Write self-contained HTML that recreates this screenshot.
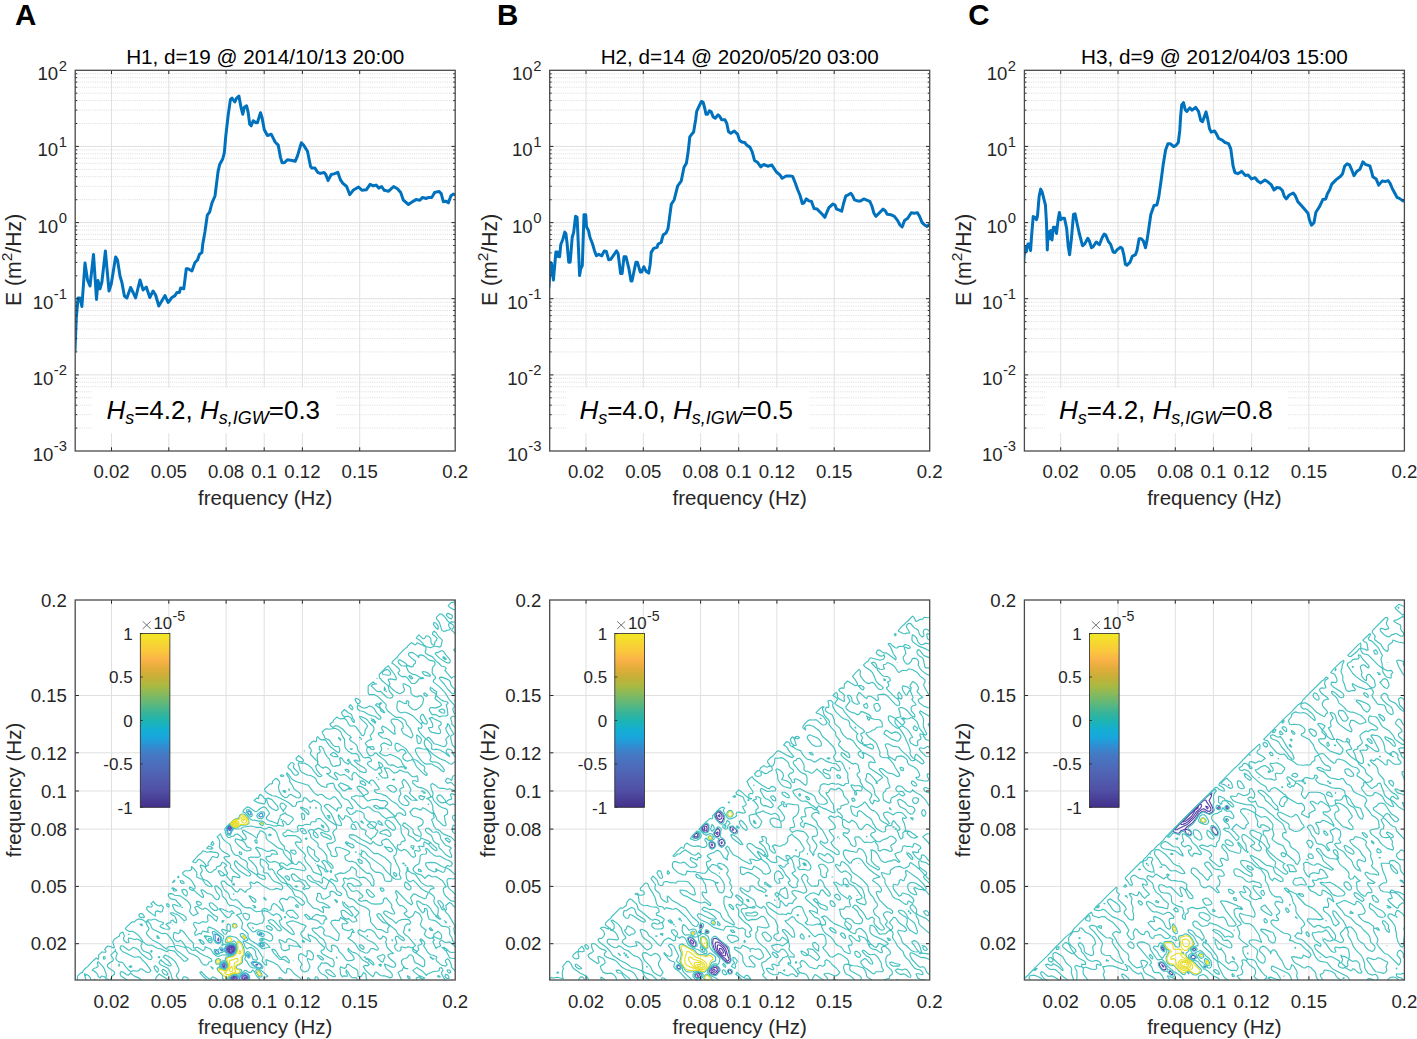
<!DOCTYPE html><html><head><meta charset="utf-8"><style>html,body{margin:0;padding:0;background:#fff;overflow:hidden}svg{display:block;font-family:"Liberation Sans",sans-serif}</style></head><body><svg width="1417" height="1039" viewBox="0 0 1417 1039" font-family="Liberation Sans, sans-serif"><rect width="1417" height="1039" fill="#fff"/><path d="M111.5 70.3V451 M168.8 70.3V451 M226.1 70.3V451 M264.2 70.3V451 M302.4 70.3V451 M359.7 70.3V451 M75.2 374.9H455.2 M75.2 298.7H455.2 M75.2 222.6H455.2 M75.2 146.4H455.2" stroke="#e0e0e0" stroke-width="1" fill="none"/>
<path d="M75.2 428.1H455.2 M75.2 414.7H455.2 M75.2 405.2H455.2 M75.2 397.8H455.2 M75.2 391.8H455.2 M75.2 386.7H455.2 M75.2 382.2H455.2 M75.2 378.3H455.2 M75.2 351.9H455.2 M75.2 338.5H455.2 M75.2 329H455.2 M75.2 321.6H455.2 M75.2 315.6H455.2 M75.2 310.5H455.2 M75.2 306.1H455.2 M75.2 302.2H455.2 M75.2 275.8H455.2 M75.2 262.4H455.2 M75.2 252.9H455.2 M75.2 245.5H455.2 M75.2 239.5H455.2 M75.2 234.4H455.2 M75.2 230H455.2 M75.2 226.1H455.2 M75.2 199.7H455.2 M75.2 186.3H455.2 M75.2 176.7H455.2 M75.2 169.4H455.2 M75.2 163.3H455.2 M75.2 158.2H455.2 M75.2 153.8H455.2 M75.2 149.9H455.2 M75.2 123.5H455.2 M75.2 110.1H455.2 M75.2 100.6H455.2 M75.2 93.2H455.2 M75.2 87.2H455.2 M75.2 82.1H455.2 M75.2 77.7H455.2 M75.2 73.8H455.2" stroke="#dcdcdc" stroke-width="1" stroke-dasharray="1 1.2" fill="none"/>
<rect x="92.5" y="387.7" width="243.5" height="45.5" fill="#fff"/>
<clipPath id="cp0"><rect x="75.2" y="70.3" width="380.0" height="380.7"/></clipPath>
<polyline points="75,350.6 76.3,317.5 78.1,298 80,298 81.9,306.5 85,263 87.5,280 90,286 93.5,254.4 96.5,299.4 98,280.6 100,288.8 101.9,282 105.4,251 109,291 111.3,283.8 115.6,256.9 117.5,260 120,276 121.9,282.5 124.4,296 126.9,298 130.6,287.5 133.1,292.5 135.6,298 140,280 143.1,290 146.3,287 149.8,297.5 153.1,291 155.6,295 158.8,306 165,295.6 168.1,302.5 171.9,297.5 175,295.6 176.9,292.5 179.4,292.5 180.6,288 183.8,288.8 186.3,268.8 188.1,268.8 191.9,271 195,262.5 197.5,260 199.4,254.4 201.9,252.5 202.7,244.5 205,231.4 207.3,215.2 209.6,212.1 212,202.9 215,196 218.1,171.3 219.7,164.4 222.7,159 224.3,152.8 225.8,135.8 228.1,115.8 230.4,99.6 232,98.1 234.8,102 236.6,98.1 238.9,96.1 241.2,108.1 242.8,114.3 244.3,107.3 246.6,105.8 248.2,112.7 249.7,124.3 251.2,125.8 253.2,120.7 255.9,122.7 257.4,122.7 260.5,112.7 262,117.4 264.3,129.7 267.4,135.5 271.3,134.3 273.6,138.9 275.1,142 278.2,145.1 280.5,157.4 282.1,162.8 284.4,162.8 287.4,159.7 292.1,160.5 295.2,161.3 297.5,155.9 301.3,142.8 303.6,145.1 307.5,151.3 310.5,166.3 311.6,167.9 314.8,167.9 317.6,172.3 320.3,173.4 324.1,172.5 325.8,174.5 328,180.5 331.3,174.5 334,173.9 337.8,172.3 340.5,179.9 342.7,183.2 346.6,186.5 349.8,194.7 353.1,190.3 358.6,187 361.9,190.3 366.3,189.8 370.1,184.3 373.4,185.9 376.1,185.1 378.8,188.1 381.6,186.5 384.3,190.3 388.7,191.2 393.6,186.5 397.4,188.7 400.7,192.5 403.4,200.2 408.4,204.5 411.6,202.3 416,199.6 419.9,200.2 422.6,197.4 425.9,198.5 428.6,197.4 431.9,197.4 434.6,192.5 439,191.4 441.2,193.6 443.4,201.8 446.1,201.3 448.3,202.9 451,195.8 453.2,194.1 455.4,194.7" fill="none" stroke="#0072bd" stroke-width="3" stroke-linejoin="round" stroke-linecap="round" clip-path="url(#cp0)"/>
<text x="106.4" y="419.4" font-size="26" fill="#000"><tspan font-style="italic">H</tspan><tspan font-style="italic" font-size="18" dy="5">s</tspan><tspan dy="-5">=4.2, </tspan><tspan font-style="italic">H</tspan><tspan font-style="italic" font-size="18" dy="5">s,IGW</tspan><tspan dy="-5">=0.3</tspan></text>
<path d="M111.5 451v-3.7M111.5 70.3v3.7 M168.8 451v-3.7M168.8 70.3v3.7 M226.1 451v-3.7M226.1 70.3v3.7 M264.2 451v-3.7M264.2 70.3v3.7 M302.4 451v-3.7M302.4 70.3v3.7 M359.7 451v-3.7M359.7 70.3v3.7 M75.2 374.9h3.7M455.2 374.9h-3.7 M75.2 298.7h3.7M455.2 298.7h-3.7 M75.2 222.6h3.7M455.2 222.6h-3.7 M75.2 146.4h3.7M455.2 146.4h-3.7 M75.2 428.1h2M455.2 428.1h-2 M75.2 414.7h2M455.2 414.7h-2 M75.2 405.2h2M455.2 405.2h-2 M75.2 397.8h2M455.2 397.8h-2 M75.2 391.8h2M455.2 391.8h-2 M75.2 386.7h2M455.2 386.7h-2 M75.2 382.2h2M455.2 382.2h-2 M75.2 378.3h2M455.2 378.3h-2 M75.2 351.9h2M455.2 351.9h-2 M75.2 338.5h2M455.2 338.5h-2 M75.2 329h2M455.2 329h-2 M75.2 321.6h2M455.2 321.6h-2 M75.2 315.6h2M455.2 315.6h-2 M75.2 310.5h2M455.2 310.5h-2 M75.2 306.1h2M455.2 306.1h-2 M75.2 302.2h2M455.2 302.2h-2 M75.2 275.8h2M455.2 275.8h-2 M75.2 262.4h2M455.2 262.4h-2 M75.2 252.9h2M455.2 252.9h-2 M75.2 245.5h2M455.2 245.5h-2 M75.2 239.5h2M455.2 239.5h-2 M75.2 234.4h2M455.2 234.4h-2 M75.2 230h2M455.2 230h-2 M75.2 226.1h2M455.2 226.1h-2 M75.2 199.7h2M455.2 199.7h-2 M75.2 186.3h2M455.2 186.3h-2 M75.2 176.7h2M455.2 176.7h-2 M75.2 169.4h2M455.2 169.4h-2 M75.2 163.3h2M455.2 163.3h-2 M75.2 158.2h2M455.2 158.2h-2 M75.2 153.8h2M455.2 153.8h-2 M75.2 149.9h2M455.2 149.9h-2 M75.2 123.5h2M455.2 123.5h-2 M75.2 110.1h2M455.2 110.1h-2 M75.2 100.6h2M455.2 100.6h-2 M75.2 93.2h2M455.2 93.2h-2 M75.2 87.2h2M455.2 87.2h-2 M75.2 82.1h2M455.2 82.1h-2 M75.2 77.7h2M455.2 77.7h-2 M75.2 73.8h2M455.2 73.8h-2" stroke="#262626" stroke-width="1" fill="none"/>
<rect x="75.2" y="70.3" width="380.0" height="380.7" stroke="#4a4a4a" stroke-width="1.3" fill="none"/>
<text x="111.5" y="478.3" font-size="18.6" text-anchor="middle" fill="#262626" >0.02</text>
<text x="168.8" y="478.3" font-size="18.6" text-anchor="middle" fill="#262626" >0.05</text>
<text x="226.1" y="478.3" font-size="18.6" text-anchor="middle" fill="#262626" >0.08</text>
<text x="264.2" y="478.3" font-size="18.6" text-anchor="middle" fill="#262626" >0.1</text>
<text x="302.4" y="478.3" font-size="18.6" text-anchor="middle" fill="#262626" >0.12</text>
<text x="359.7" y="478.3" font-size="18.6" text-anchor="middle" fill="#262626" >0.15</text>
<text x="455.2" y="478.3" font-size="18.6" text-anchor="middle" fill="#262626" >0.2</text>
<text x="66.9" y="451.4" font-size="14.8" text-anchor="end" fill="#262626" >-3</text>
<text x="53.4" y="461" font-size="18.6" text-anchor="end" fill="#262626" >10</text>
<text x="66.9" y="375.3" font-size="14.8" text-anchor="end" fill="#262626" >-2</text>
<text x="53.4" y="384.9" font-size="18.6" text-anchor="end" fill="#262626" >10</text>
<text x="66.9" y="299.1" font-size="14.8" text-anchor="end" fill="#262626" >-1</text>
<text x="53.4" y="308.7" font-size="18.6" text-anchor="end" fill="#262626" >10</text>
<text x="66.9" y="223" font-size="14.8" text-anchor="end" fill="#262626" >0</text>
<text x="58.2" y="232.6" font-size="18.6" text-anchor="end" fill="#262626" >10</text>
<text x="66.9" y="146.8" font-size="14.8" text-anchor="end" fill="#262626" >1</text>
<text x="58.2" y="156.4" font-size="18.6" text-anchor="end" fill="#262626" >10</text>
<text x="66.9" y="70.7" font-size="14.8" text-anchor="end" fill="#262626" >2</text>
<text x="58.2" y="80.3" font-size="18.6" text-anchor="end" fill="#262626" >10</text>
<text x="265.2" y="504.5" font-size="20.5" text-anchor="middle" fill="#262626" >frequency (Hz)</text>
<text transform="translate(21.4 259.9) rotate(-90)" font-size="21.2" text-anchor="middle" fill="#262626">E (m<tspan font-size="15.5" dy="-9">2</tspan><tspan dy="9">/Hz)</tspan></text>
<text x="265.2" y="63.7" font-size="20.7" text-anchor="middle" fill="#000" >H1, d=19 @ 2014/10/13 20:00</text>
<path d="M586 70.3V451 M643.3 70.3V451 M700.6 70.3V451 M738.7 70.3V451 M776.9 70.3V451 M834.2 70.3V451 M549.7 374.9H929.7 M549.7 298.7H929.7 M549.7 222.6H929.7 M549.7 146.4H929.7" stroke="#e0e0e0" stroke-width="1" fill="none"/>
<path d="M549.7 428.1H929.7 M549.7 414.7H929.7 M549.7 405.2H929.7 M549.7 397.8H929.7 M549.7 391.8H929.7 M549.7 386.7H929.7 M549.7 382.2H929.7 M549.7 378.3H929.7 M549.7 351.9H929.7 M549.7 338.5H929.7 M549.7 329H929.7 M549.7 321.6H929.7 M549.7 315.6H929.7 M549.7 310.5H929.7 M549.7 306.1H929.7 M549.7 302.2H929.7 M549.7 275.8H929.7 M549.7 262.4H929.7 M549.7 252.9H929.7 M549.7 245.5H929.7 M549.7 239.5H929.7 M549.7 234.4H929.7 M549.7 230H929.7 M549.7 226.1H929.7 M549.7 199.7H929.7 M549.7 186.3H929.7 M549.7 176.7H929.7 M549.7 169.4H929.7 M549.7 163.3H929.7 M549.7 158.2H929.7 M549.7 153.8H929.7 M549.7 149.9H929.7 M549.7 123.5H929.7 M549.7 110.1H929.7 M549.7 100.6H929.7 M549.7 93.2H929.7 M549.7 87.2H929.7 M549.7 82.1H929.7 M549.7 77.7H929.7 M549.7 73.8H929.7" stroke="#dcdcdc" stroke-width="1" stroke-dasharray="1 1.2" fill="none"/>
<rect x="566.4" y="387.7" width="243.1" height="45.5" fill="#fff"/>
<clipPath id="cp1"><rect x="549.7" y="70.3" width="380.0" height="380.7"/></clipPath>
<polyline points="549,287 550.4,262.7 551.4,263.2 553.4,280 555.9,251.9 557.4,251.9 557.8,256.3 559.6,256.8 560.8,244.5 562.8,239.5 564.8,232.1 565.9,233.6 567.2,244.5 568.7,262.2 570.2,262.2 572.2,237.5 573.7,232.1 575.6,216.3 577.1,217.3 578.1,239.5 579.6,275.6 580.6,269.2 582.3,265.7 584,214.8 585.7,214.8 586.5,226.7 588.5,230.6 590,237.5 592.4,243.5 594.4,250.4 596.4,255.8 598.8,254.3 601.8,255.8 604.3,250.9 606.3,251.4 608.7,259.8 610.7,259.3 614.2,254.3 616.6,250.9 618.1,253.4 620.6,273.6 622.1,273.6 624,256.8 626,256.8 629,269.2 631,281 632,281 635.9,262.2 637.4,262.2 640.3,272.1 641.8,272.1 643.8,266.7 646.3,271.6 648.7,273.1 650.2,264.2 651.2,252.4 653.7,248.4 657.1,247.4 658.1,244 661.1,242.5 663.1,235.1 666,233.1 668,228.7 669.5,217.8 671.3,204.3 674.2,199.7 677.7,185.8 681.2,181.2 684,167.3 686.4,163.3 688.1,152.3 689.8,136.8 691.6,134.4 693.6,132.1 695.6,120 696.7,111.4 699.1,106.2 701.4,101.5 703.1,102.1 704.8,108.5 706,114.2 707.5,114.2 709.4,110.8 711.2,111.9 713.3,117.1 715.2,118.3 718.1,114.8 720.2,117.1 721.6,119.8 725,119.8 726.8,123.5 728.5,131.6 730.8,133.3 734.3,131 737.7,134.4 739.5,140.2 741.8,142 744.7,142.5 747,145.4 749.9,147.1 752.2,151.8 754.5,160.4 757.4,162.2 760.8,166.8 763.7,164.5 767.7,166.2 771.8,165 774.1,168.5 776.4,172 779.9,174.9 782.2,178.3 786.2,176 790,175.9 792.6,176.4 795.1,182.5 797.7,189.7 800.2,195.8 802.3,203.5 803.8,203 806.4,198.9 808.9,200.9 811.5,201.4 814,208.6 817.1,209.1 820.2,212.2 822.7,214.7 824.8,217.3 826.3,213.7 828.9,207.6 833,204 835,205 836.6,209.1 839.6,210.1 841.7,211.2 843.7,203 845.8,195.8 848.3,194.8 850.9,193.3 852.4,195.3 854.5,199.9 857.5,200.9 860.6,200.9 863.7,198.9 866.2,199.9 869.8,201.4 871.9,206 873.9,213.2 876,216.3 879.5,212.7 883.1,209.1 885.2,210.7 887.2,214.2 890.8,214.7 894.4,216.3 897.5,220.4 900,225 902.1,227 904.6,220.4 907.7,218.3 911.3,212.7 914.3,213.2 917.4,212.7 919.5,216.3 922,222.4 924.6,225 927.1,226.5 929.7,224" fill="none" stroke="#0072bd" stroke-width="3" stroke-linejoin="round" stroke-linecap="round" clip-path="url(#cp1)"/>
<text x="579.4" y="419.4" font-size="26" fill="#000"><tspan font-style="italic">H</tspan><tspan font-style="italic" font-size="18" dy="5">s</tspan><tspan dy="-5">=4.0, </tspan><tspan font-style="italic">H</tspan><tspan font-style="italic" font-size="18" dy="5">s,IGW</tspan><tspan dy="-5">=0.5</tspan></text>
<path d="M586 451v-3.7M586 70.3v3.7 M643.3 451v-3.7M643.3 70.3v3.7 M700.6 451v-3.7M700.6 70.3v3.7 M738.7 451v-3.7M738.7 70.3v3.7 M776.9 451v-3.7M776.9 70.3v3.7 M834.2 451v-3.7M834.2 70.3v3.7 M549.7 374.9h3.7M929.7 374.9h-3.7 M549.7 298.7h3.7M929.7 298.7h-3.7 M549.7 222.6h3.7M929.7 222.6h-3.7 M549.7 146.4h3.7M929.7 146.4h-3.7 M549.7 428.1h2M929.7 428.1h-2 M549.7 414.7h2M929.7 414.7h-2 M549.7 405.2h2M929.7 405.2h-2 M549.7 397.8h2M929.7 397.8h-2 M549.7 391.8h2M929.7 391.8h-2 M549.7 386.7h2M929.7 386.7h-2 M549.7 382.2h2M929.7 382.2h-2 M549.7 378.3h2M929.7 378.3h-2 M549.7 351.9h2M929.7 351.9h-2 M549.7 338.5h2M929.7 338.5h-2 M549.7 329h2M929.7 329h-2 M549.7 321.6h2M929.7 321.6h-2 M549.7 315.6h2M929.7 315.6h-2 M549.7 310.5h2M929.7 310.5h-2 M549.7 306.1h2M929.7 306.1h-2 M549.7 302.2h2M929.7 302.2h-2 M549.7 275.8h2M929.7 275.8h-2 M549.7 262.4h2M929.7 262.4h-2 M549.7 252.9h2M929.7 252.9h-2 M549.7 245.5h2M929.7 245.5h-2 M549.7 239.5h2M929.7 239.5h-2 M549.7 234.4h2M929.7 234.4h-2 M549.7 230h2M929.7 230h-2 M549.7 226.1h2M929.7 226.1h-2 M549.7 199.7h2M929.7 199.7h-2 M549.7 186.3h2M929.7 186.3h-2 M549.7 176.7h2M929.7 176.7h-2 M549.7 169.4h2M929.7 169.4h-2 M549.7 163.3h2M929.7 163.3h-2 M549.7 158.2h2M929.7 158.2h-2 M549.7 153.8h2M929.7 153.8h-2 M549.7 149.9h2M929.7 149.9h-2 M549.7 123.5h2M929.7 123.5h-2 M549.7 110.1h2M929.7 110.1h-2 M549.7 100.6h2M929.7 100.6h-2 M549.7 93.2h2M929.7 93.2h-2 M549.7 87.2h2M929.7 87.2h-2 M549.7 82.1h2M929.7 82.1h-2 M549.7 77.7h2M929.7 77.7h-2 M549.7 73.8h2M929.7 73.8h-2" stroke="#262626" stroke-width="1" fill="none"/>
<rect x="549.7" y="70.3" width="380.0" height="380.7" stroke="#4a4a4a" stroke-width="1.3" fill="none"/>
<text x="586" y="478.3" font-size="18.6" text-anchor="middle" fill="#262626" >0.02</text>
<text x="643.3" y="478.3" font-size="18.6" text-anchor="middle" fill="#262626" >0.05</text>
<text x="700.6" y="478.3" font-size="18.6" text-anchor="middle" fill="#262626" >0.08</text>
<text x="738.7" y="478.3" font-size="18.6" text-anchor="middle" fill="#262626" >0.1</text>
<text x="776.9" y="478.3" font-size="18.6" text-anchor="middle" fill="#262626" >0.12</text>
<text x="834.2" y="478.3" font-size="18.6" text-anchor="middle" fill="#262626" >0.15</text>
<text x="929.7" y="478.3" font-size="18.6" text-anchor="middle" fill="#262626" >0.2</text>
<text x="541.4" y="451.4" font-size="14.8" text-anchor="end" fill="#262626" >-3</text>
<text x="527.9" y="461" font-size="18.6" text-anchor="end" fill="#262626" >10</text>
<text x="541.4" y="375.3" font-size="14.8" text-anchor="end" fill="#262626" >-2</text>
<text x="527.9" y="384.9" font-size="18.6" text-anchor="end" fill="#262626" >10</text>
<text x="541.4" y="299.1" font-size="14.8" text-anchor="end" fill="#262626" >-1</text>
<text x="527.9" y="308.7" font-size="18.6" text-anchor="end" fill="#262626" >10</text>
<text x="541.4" y="223" font-size="14.8" text-anchor="end" fill="#262626" >0</text>
<text x="532.7" y="232.6" font-size="18.6" text-anchor="end" fill="#262626" >10</text>
<text x="541.4" y="146.8" font-size="14.8" text-anchor="end" fill="#262626" >1</text>
<text x="532.7" y="156.4" font-size="18.6" text-anchor="end" fill="#262626" >10</text>
<text x="541.4" y="70.7" font-size="14.8" text-anchor="end" fill="#262626" >2</text>
<text x="532.7" y="80.3" font-size="18.6" text-anchor="end" fill="#262626" >10</text>
<text x="739.7" y="504.5" font-size="20.5" text-anchor="middle" fill="#262626" >frequency (Hz)</text>
<text transform="translate(497 259.9) rotate(-90)" font-size="21.2" text-anchor="middle" fill="#262626">E (m<tspan font-size="15.5" dy="-9">2</tspan><tspan dy="9">/Hz)</tspan></text>
<text x="739.7" y="63.7" font-size="20.7" text-anchor="middle" fill="#000" >H2, d=14 @ 2020/05/20 03:00</text>
<path d="M1060.7 70.3V451 M1118 70.3V451 M1175.3 70.3V451 M1213.4 70.3V451 M1251.6 70.3V451 M1308.9 70.3V451 M1024.4 374.9H1404.4 M1024.4 298.7H1404.4 M1024.4 222.6H1404.4 M1024.4 146.4H1404.4" stroke="#e0e0e0" stroke-width="1" fill="none"/>
<path d="M1024.4 428.1H1404.4 M1024.4 414.7H1404.4 M1024.4 405.2H1404.4 M1024.4 397.8H1404.4 M1024.4 391.8H1404.4 M1024.4 386.7H1404.4 M1024.4 382.2H1404.4 M1024.4 378.3H1404.4 M1024.4 351.9H1404.4 M1024.4 338.5H1404.4 M1024.4 329H1404.4 M1024.4 321.6H1404.4 M1024.4 315.6H1404.4 M1024.4 310.5H1404.4 M1024.4 306.1H1404.4 M1024.4 302.2H1404.4 M1024.4 275.8H1404.4 M1024.4 262.4H1404.4 M1024.4 252.9H1404.4 M1024.4 245.5H1404.4 M1024.4 239.5H1404.4 M1024.4 234.4H1404.4 M1024.4 230H1404.4 M1024.4 226.1H1404.4 M1024.4 199.7H1404.4 M1024.4 186.3H1404.4 M1024.4 176.7H1404.4 M1024.4 169.4H1404.4 M1024.4 163.3H1404.4 M1024.4 158.2H1404.4 M1024.4 153.8H1404.4 M1024.4 149.9H1404.4 M1024.4 123.5H1404.4 M1024.4 110.1H1404.4 M1024.4 100.6H1404.4 M1024.4 93.2H1404.4 M1024.4 87.2H1404.4 M1024.4 82.1H1404.4 M1024.4 77.7H1404.4 M1024.4 73.8H1404.4" stroke="#dcdcdc" stroke-width="1" stroke-dasharray="1 1.2" fill="none"/>
<rect x="1045" y="387.7" width="242.8" height="45.5" fill="#fff"/>
<clipPath id="cp2"><rect x="1024.4" y="70.3" width="380.0" height="380.7"/></clipPath>
<polyline points="1023.7,261.6 1024.8,247.3 1026.4,251.5 1027.9,244.1 1029.5,244.1 1030.6,250.5 1031.6,235.7 1033.2,216.6 1034.8,217.1 1036.4,219.8 1037.5,216.1 1039.1,196.5 1040.7,189.1 1042.2,192.2 1043.8,198.6 1045.4,204.9 1046.5,223 1047.3,250 1048.1,231.4 1049.7,238.8 1050.7,230.4 1052,239.9 1053.4,227.2 1054.9,227.2 1056.5,233.5 1058.1,219.8 1059.4,212.4 1060.8,219.8 1062.4,218.2 1064.5,218.2 1066.6,228.2 1068.2,246.2 1069.6,254.7 1071.4,238.8 1073.5,214.5 1075.1,213.9 1077.2,224 1079.3,233.5 1082.5,245.7 1084.6,244.1 1087.8,238.3 1089.4,241 1091.5,247.8 1093.1,246.8 1096.2,242 1099.4,244.7 1102.1,237.8 1104.2,234.1 1105.8,235.1 1108.4,241.5 1110.5,244.1 1113.2,252.1 1114.8,252.6 1117.4,249.4 1120.6,247.3 1122.2,248.4 1123.8,254.7 1125.4,264.2 1127,265.3 1130.1,262.1 1132.3,256.3 1135.4,254.7 1137,250.5 1139.1,238.8 1141.3,238.8 1143.4,241 1145.5,247.8 1147.1,239.9 1148.7,229.3 1150.8,214.5 1154,205.4 1156.9,204.9 1158.7,197.4 1161,181.2 1163.3,163.9 1165.6,150 1167.9,143.7 1170.2,143.7 1173.7,146.6 1176,145.4 1178.3,142.5 1179.8,130.4 1180.6,116.6 1181.7,105 1183.5,102.7 1185.2,109.6 1186.9,111.4 1189.8,107.9 1192.1,110.2 1195.6,107.3 1198.5,111.4 1200.8,120.6 1202.5,121.7 1206,111.9 1207.7,118.9 1209.5,128.7 1211.2,132.1 1214.6,131 1216.4,133.9 1218.7,138.5 1222.2,140.2 1225,142.5 1228.5,143.7 1230.8,148.9 1233.1,166.2 1234.9,172.5 1237.7,173.7 1241.8,171.4 1245.2,175.4 1248.1,174.9 1251.6,178.9 1255.1,177.7 1257.9,181.2 1260.8,182.9 1264.9,180 1267.8,181.8 1271.2,184.7 1274,190 1276.9,187.5 1279.9,188 1282.4,190.5 1284.3,196.4 1286.3,198.9 1289.3,195 1293.2,193 1295.2,195.5 1297.7,201.4 1301.1,205.3 1304.6,209.3 1308,213.2 1309.5,220.2 1311.5,225.1 1314,222.6 1315.9,212.2 1319.4,206.8 1322.9,199.4 1325.8,198.9 1327.3,194 1329.8,189.5 1331.8,184.1 1336.2,179.6 1340.6,176.2 1342.6,173.7 1344.6,166.3 1347.1,163.8 1349.5,164.8 1351.5,169.3 1354,175.7 1356.9,171.2 1359.9,169.3 1362.9,161.9 1365.3,164.3 1369.8,165.8 1371.3,170.7 1372.8,176.7 1376.2,179.1 1378.7,185.1 1382.1,181.1 1385.1,181.6 1388.1,180.6 1390,183.1 1392.5,189 1395,193.5 1397,197.4 1399.4,198.4 1402.9,200.9 1404.4,200.9" fill="none" stroke="#0072bd" stroke-width="3" stroke-linejoin="round" stroke-linecap="round" clip-path="url(#cp2)"/>
<text x="1059" y="419.4" font-size="26" fill="#000"><tspan font-style="italic">H</tspan><tspan font-style="italic" font-size="18" dy="5">s</tspan><tspan dy="-5">=4.2, </tspan><tspan font-style="italic">H</tspan><tspan font-style="italic" font-size="18" dy="5">s,IGW</tspan><tspan dy="-5">=0.8</tspan></text>
<path d="M1060.7 451v-3.7M1060.7 70.3v3.7 M1118 451v-3.7M1118 70.3v3.7 M1175.3 451v-3.7M1175.3 70.3v3.7 M1213.4 451v-3.7M1213.4 70.3v3.7 M1251.6 451v-3.7M1251.6 70.3v3.7 M1308.9 451v-3.7M1308.9 70.3v3.7 M1024.4 374.9h3.7M1404.4 374.9h-3.7 M1024.4 298.7h3.7M1404.4 298.7h-3.7 M1024.4 222.6h3.7M1404.4 222.6h-3.7 M1024.4 146.4h3.7M1404.4 146.4h-3.7 M1024.4 428.1h2M1404.4 428.1h-2 M1024.4 414.7h2M1404.4 414.7h-2 M1024.4 405.2h2M1404.4 405.2h-2 M1024.4 397.8h2M1404.4 397.8h-2 M1024.4 391.8h2M1404.4 391.8h-2 M1024.4 386.7h2M1404.4 386.7h-2 M1024.4 382.2h2M1404.4 382.2h-2 M1024.4 378.3h2M1404.4 378.3h-2 M1024.4 351.9h2M1404.4 351.9h-2 M1024.4 338.5h2M1404.4 338.5h-2 M1024.4 329h2M1404.4 329h-2 M1024.4 321.6h2M1404.4 321.6h-2 M1024.4 315.6h2M1404.4 315.6h-2 M1024.4 310.5h2M1404.4 310.5h-2 M1024.4 306.1h2M1404.4 306.1h-2 M1024.4 302.2h2M1404.4 302.2h-2 M1024.4 275.8h2M1404.4 275.8h-2 M1024.4 262.4h2M1404.4 262.4h-2 M1024.4 252.9h2M1404.4 252.9h-2 M1024.4 245.5h2M1404.4 245.5h-2 M1024.4 239.5h2M1404.4 239.5h-2 M1024.4 234.4h2M1404.4 234.4h-2 M1024.4 230h2M1404.4 230h-2 M1024.4 226.1h2M1404.4 226.1h-2 M1024.4 199.7h2M1404.4 199.7h-2 M1024.4 186.3h2M1404.4 186.3h-2 M1024.4 176.7h2M1404.4 176.7h-2 M1024.4 169.4h2M1404.4 169.4h-2 M1024.4 163.3h2M1404.4 163.3h-2 M1024.4 158.2h2M1404.4 158.2h-2 M1024.4 153.8h2M1404.4 153.8h-2 M1024.4 149.9h2M1404.4 149.9h-2 M1024.4 123.5h2M1404.4 123.5h-2 M1024.4 110.1h2M1404.4 110.1h-2 M1024.4 100.6h2M1404.4 100.6h-2 M1024.4 93.2h2M1404.4 93.2h-2 M1024.4 87.2h2M1404.4 87.2h-2 M1024.4 82.1h2M1404.4 82.1h-2 M1024.4 77.7h2M1404.4 77.7h-2 M1024.4 73.8h2M1404.4 73.8h-2" stroke="#262626" stroke-width="1" fill="none"/>
<rect x="1024.4" y="70.3" width="380.0" height="380.7" stroke="#4a4a4a" stroke-width="1.3" fill="none"/>
<text x="1060.7" y="478.3" font-size="18.6" text-anchor="middle" fill="#262626" >0.02</text>
<text x="1118" y="478.3" font-size="18.6" text-anchor="middle" fill="#262626" >0.05</text>
<text x="1175.3" y="478.3" font-size="18.6" text-anchor="middle" fill="#262626" >0.08</text>
<text x="1213.4" y="478.3" font-size="18.6" text-anchor="middle" fill="#262626" >0.1</text>
<text x="1251.6" y="478.3" font-size="18.6" text-anchor="middle" fill="#262626" >0.12</text>
<text x="1308.9" y="478.3" font-size="18.6" text-anchor="middle" fill="#262626" >0.15</text>
<text x="1404.4" y="478.3" font-size="18.6" text-anchor="middle" fill="#262626" >0.2</text>
<text x="1016.1" y="451.4" font-size="14.8" text-anchor="end" fill="#262626" >-3</text>
<text x="1002.6" y="461" font-size="18.6" text-anchor="end" fill="#262626" >10</text>
<text x="1016.1" y="375.3" font-size="14.8" text-anchor="end" fill="#262626" >-2</text>
<text x="1002.6" y="384.9" font-size="18.6" text-anchor="end" fill="#262626" >10</text>
<text x="1016.1" y="299.1" font-size="14.8" text-anchor="end" fill="#262626" >-1</text>
<text x="1002.6" y="308.7" font-size="18.6" text-anchor="end" fill="#262626" >10</text>
<text x="1016.1" y="223" font-size="14.8" text-anchor="end" fill="#262626" >0</text>
<text x="1007.4" y="232.6" font-size="18.6" text-anchor="end" fill="#262626" >10</text>
<text x="1016.1" y="146.8" font-size="14.8" text-anchor="end" fill="#262626" >1</text>
<text x="1007.4" y="156.4" font-size="18.6" text-anchor="end" fill="#262626" >10</text>
<text x="1016.1" y="70.7" font-size="14.8" text-anchor="end" fill="#262626" >2</text>
<text x="1007.4" y="80.3" font-size="18.6" text-anchor="end" fill="#262626" >10</text>
<text x="1214.4" y="504.5" font-size="20.5" text-anchor="middle" fill="#262626" >frequency (Hz)</text>
<text transform="translate(971.3 259.9) rotate(-90)" font-size="21.2" text-anchor="middle" fill="#262626">E (m<tspan font-size="15.5" dy="-9">2</tspan><tspan dy="9">/Hz)</tspan></text>
<text x="1214.4" y="63.7" font-size="20.7" text-anchor="middle" fill="#000" >H3, d=9 @ 2012/04/03 15:00</text>
<text x="15.1" y="24.5" font-size="29.5" font-weight="bold" fill="#000">A</text>
<text x="496.9" y="24.5" font-size="29.5" font-weight="bold" fill="#000">B</text>
<text x="968.3" y="24.5" font-size="29.5" font-weight="bold" fill="#000">C</text>
<path d="M111.5 600V980 M75.2 943.7H455.2 M168.8 600V980 M75.2 886.4H455.2 M226.1 600V980 M75.2 829.1H455.2 M264.2 600V980 M75.2 791H455.2 M302.4 600V980 M75.2 752.8H455.2 M359.7 600V980 M75.2 695.5H455.2" stroke="#e0e0e0" stroke-width="1" fill="none"/>
<g fill="none" stroke-width="1.15" stroke-linejoin="round">
<path d="M232.4 949.4 231.8 948.3 229.9 949.4 231.8 950.2 232.4 949.4" stroke="#5a3fa8"/>
<path d="M231.9 951.3 233.4 949.4 232.5 947.5 231.8 947.1 229.9 947.5 229.0 949.4 229.9 951.0 231.9 951.3" stroke="#5a3fa8"/>
<path d="M229.9 827.2 229.7 827.2 229.9 827.2M233.0 951.3 234.1 949.4 233.7 947.5 231.8 946.5 229.9 946.8 228.9 947.5 228.2 949.4 229.1 951.3 229.9 951.9 231.8 952.1 233.0 951.3M235.5 978.1 233.7 977.2 232.8 978.1 233.7 979.3 235.5 978.1M245.6 978.1 245.1 977.3 244.3 978.1 245.1 978.4 245.6 978.1" stroke="#5a3fa8"/>
<path d="M230.2 829.1 230.7 827.2 229.9 826.4 227.9 827.2 229.4 829.1 229.9 829.4 230.2 829.1M233.9 951.3 234.7 949.4 234.4 947.5 233.7 946.6 231.8 945.8 229.9 946.0 227.9 947.5 227.4 949.4 228.0 951.2 229.9 952.7 231.8 952.8 233.9 951.3M224.8 966.6 224.1 964.6 223.5 966.6 224.1 967.0 224.8 966.6M235.6 980.0 236.5 978.1 235.6 976.8 233.7 976.1 231.6 978.1 232.8 980.0M246.8 978.1 246.0 976.2 245.1 975.6 243.1 976.2 242.6 978.1 243.2 978.9 245.1 979.6 246.8 978.1" stroke="#5a3fa8"/>
<path d="M231.4 829.1 231.4 827.2 229.9 825.7 227.3 827.2 228.0 829.5 229.9 830.6 231.4 829.1M219.0 939.9 218.4 938.0 217.7 939.9 218.4 940.8 219.0 939.9M232.4 953.3 233.7 952.6 234.7 951.3 235.4 949.4 235.1 947.5 233.7 945.7 231.8 945.0 229.9 945.2 228.0 946.3 226.9 947.5 226.5 949.4 227.0 951.3 228.0 952.4 229.9 953.6 231.8 953.6 232.4 953.3M226.2 966.6 226.1 964.7 224.1 963.5 222.4 964.7 222.1 966.6 224.1 968.1 226.2 966.6M258.2 964.7 256.6 964.3 255.9 964.7 256.6 965.2 258.2 964.7M236.9 980.0 237.4 978.1 236.3 976.2 233.7 975.5 232.2 976.2 230.8 978.1 231.4 980.0M246.9 980.0 247.9 978.1 247.4 976.2 245.1 974.7 243.2 975.0 242.0 976.2 241.6 978.1 242.9 980.0" stroke="#4a62c4"/>
<path d="M251.2 813.9 250.2 812.0 249.0 810.8 247.5 812.0 249.0 814.5 250.9 814.8 251.2 813.9M262.7 815.8 262.8 813.9 262.3 813.4 260.4 813.5 258.6 815.8 260.4 817.1 262.3 816.3 262.7 815.8M230.5 833.0 231.2 831.0 232.9 829.1 232.2 827.2 229.9 824.8 226.7 827.2 226.8 829.1 227.6 831.0 228.0 833.5 229.9 834.1 230.5 833.0M303.5 831.0 302.4 831.0 303.5 831.0M220.4 941.8 220.9 939.9 220.6 938.0 219.4 936.1 216.5 934.2 214.6 934.1 215.3 936.1 215.1 939.9 216.3 941.8 218.4 943.0 220.4 941.8M262.4 934.2 260.4 933.0 258.7 934.2 260.4 935.0 262.4 934.2M263.4 945.6 262.6 943.7 260.4 943.2 259.7 943.7 261.1 945.6 262.3 946.2 263.4 945.6M234.0 953.3 235.4 951.3 236.1 949.4 235.9 947.5 234.8 945.6 233.7 944.6 231.8 944.2 229.9 944.4 226.9 945.6 225.6 947.5 225.0 949.4 225.6 951.3 227.3 953.3 229.9 954.5 231.8 954.5 234.0 953.3M222.3 951.3 222.8 949.4 222.2 949.0 220.3 949.1 220.3 949.8 222.3 951.3M218.7 953.3 218.3 951.3 216.5 950.4 215.2 951.3 216.5 953.5 218.7 953.3M249.3 955.2 249.0 954.7 247.1 955.2 249.0 956.6 249.3 955.2M225.5 968.5 226.1 968.2 226.9 966.6 226.9 964.7 226.1 963.3 224.1 962.3 222.2 963.2 221.2 964.7 221.0 966.6 223.0 968.5 224.1 969.0 225.5 968.5M261.8 966.6 260.7 964.7 258.5 963.2 254.7 962.3 252.6 962.8 253.2 964.7 256.6 967.0 258.5 967.7 260.4 968.0 261.8 966.6M248.7 980.0 248.9 978.1 248.7 976.2 247.1 974.0 245.1 973.3 243.2 973.9 240.6 976.2 239.7 978.1 240.3 980.0M238.9 980.0 239.2 978.1 237.4 976.2 235.6 975.1 233.7 974.9 231.1 976.2 230.0 978.1 230.3 980.0" stroke="#3f8fd8"/>
<path d="M446.5 659.2 443.7 656.7 442.8 657.3 444.5 659.2 445.6 659.7 446.5 659.2M390.6 674.5 390.5 672.6 388.4 669.8 386.4 669.6 384.5 670.4 382.2 672.6 382.6 674.2 383.7 674.5 388.4 675.2 390.3 674.8 390.6 674.5M413.0 678.3 411.3 676.4 409.4 675.6 408.9 676.4 411.3 679.0 413.0 678.3M455.2 700.1 454.9 701.2 455.2 701.5M444.7 712.7 444.7 710.8 443.7 709.4 441.8 709.0 439.9 709.7 438.8 710.8 441.8 712.8 443.7 713.2 444.7 712.7M420.0 743.2 420.8 742.5 421.4 739.4 420.4 737.5 417.0 734.9 416.6 735.6 417.2 741.3 418.1 743.2 418.9 743.8 420.0 743.2M340.8 739.4 338.7 737.3 338.7 738.3 340.6 740.4 340.8 739.4M388.6 748.9 388.4 748.7 388.0 748.9 388.6 748.9M365.8 785.2 365.5 783.3 363.5 781.4 361.6 780.9 360.3 781.4 360.6 783.3 363.5 784.9 365.4 785.5 365.8 785.2M252.2 815.8 252.1 813.9 251.3 812.0 249.0 809.7 247.1 809.7 246.6 810.0 246.4 812.0 249.0 815.4 250.9 816.8 252.2 815.8M262.9 817.7 264.1 815.8 264.7 813.9 264.2 812.4 263.7 812.0 262.3 811.7 260.4 811.9 257.8 813.9 256.7 815.8 257.7 817.7 258.5 818.2 260.4 818.8 262.3 818.4 262.9 817.7M330.2 817.7 329.2 815.5 327.3 815.5 329.2 818.1 330.2 817.7M230.5 834.9 231.8 831.4 233.5 829.1 232.5 827.2 230.4 825.3 229.9 824.3 226.5 827.2 226.4 829.1 227.0 831.0 227.1 833.0 227.8 834.9 229.9 835.4 230.5 834.9M324.1 827.2 323.4 826.0 321.5 824.9 321.3 825.3 322.7 827.2 323.4 827.7 324.1 827.2M306.6 833.0 305.7 831.0 303.9 829.1 302.4 828.3 300.5 828.7 300.2 829.1 300.9 831.0 302.4 833.0 304.3 833.7 306.2 833.4 306.6 833.0M450.6 840.6 447.6 838.1 445.6 838.2 445.2 838.7 446.6 840.6 449.5 842.5 450.6 840.6M302.6 848.2 302.4 848.0 302.6 848.2M337.6 901.7 336.8 900.5 334.9 899.5 334.7 899.8 336.8 902.7 337.6 901.7M298.7 907.4 297.8 905.5 296.7 904.7 295.4 905.5 296.7 907.3 298.7 907.4M285.7 917.0 285.2 916.5 284.3 917.0 285.2 917.8 285.7 917.0M142.5 924.6 142.0 924.1 140.1 924.3 140.1 924.6 142.0 925.8 142.5 924.6M410.3 930.3 409.4 929.0 408.9 930.3 409.4 930.9 410.3 930.3M221.1 941.8 221.4 938.0 220.5 936.1 214.6 931.6 212.7 931.5 212.2 932.3 213.6 936.1 213.4 938.0 213.9 939.9 215.0 941.8 216.5 943.1 218.4 943.7 220.3 942.9 221.1 941.8M264.1 936.1 264.1 934.2 261.2 932.3 258.5 931.6 257.2 932.3 257.4 934.2 258.5 935.1 262.3 936.4 264.1 936.1M392.4 939.9 392.2 939.5 391.9 939.9 392.2 940.9 392.4 939.9M415.3 939.9 415.1 939.7 415.3 939.9M264.8 945.6 263.7 943.7 260.4 942.4 258.7 943.7 260.4 946.1 262.3 946.9 264.8 945.6M234.4 953.3 235.7 951.3 236.4 949.4 236.2 947.5 235.2 945.6 233.7 944.2 231.8 943.9 229.9 944.1 226.1 945.6 224.9 947.5 224.3 949.4 224.2 951.3 228.0 954.2 229.9 954.8 231.8 954.8 233.7 953.9 234.4 953.3M363.7 949.4 364.1 947.5 363.5 946.5 361.6 945.0 359.7 944.8 359.3 945.6 360.3 947.5 361.6 948.6 363.7 949.4M219.9 953.3 220.3 952.4 222.2 952.6 224.0 951.3 223.9 949.4 222.2 948.0 220.3 947.1 219.7 947.5 218.4 950.0 216.5 949.5 214.5 949.4 214.1 951.3 215.3 953.3 216.5 954.2 218.4 954.4 219.9 953.3M250.0 957.1 250.1 955.2 249.0 953.8 247.1 953.6 246.5 955.2 247.1 956.8 249.0 958.2 250.0 957.1M105.1 959.0 105.1 957.1 103.8 956.5 103.4 957.1 103.7 959.0 103.8 959.3 105.1 959.0M226.1 968.5 227.2 966.6 227.2 964.7 226.1 962.9 224.1 961.7 222.2 962.5 220.8 964.7 220.6 966.6 222.2 968.5 224.1 969.2 226.1 968.5M262.4 968.5 263.0 966.6 260.4 963.6 258.5 962.5 256.6 961.9 252.8 961.4 251.1 962.8 252.1 964.7 256.6 967.4 260.4 968.8 262.4 968.5M132.2 966.6 130.6 965.8 129.1 966.6 130.6 967.6 132.2 966.6M109.6 972.4 109.6 972.4M249.5 980.0 249.7 978.1 249.4 976.2 248.3 974.3 247.1 973.2 245.1 972.7 243.2 973.3 241.9 974.3 240.0 976.2 239.4 977.4 238.4 976.2 235.6 974.9 233.7 974.7 231.8 975.4 230.7 976.2 229.7 978.1 230.0 980.0M440.1 976.2 438.0 975.5 437.5 976.2 438.0 976.8 439.9 977.3 440.1 976.2M95.2 980.0 94.3 979.2 94.2 980.0M333.3 980.0 332.6 980.0" stroke="#45c0c0"/>
<path d="M454.5 600.0 454.6 601.9 453.3 602.3 451.4 602.3 448.2 605.7 449.5 607.2 453.3 609.6 455.2 609.5M455.2 605.2 454.7 603.8 455.2 602.4M452.4 617.2 452.3 615.3 449.5 613.9 447.1 613.4 446.4 615.3 449.5 618.4 451.4 619.0 452.4 617.2M446.0 630.6 449.5 629.8 450.9 628.6 449.5 627.6 448.5 624.8 449.5 622.9 448.0 621.0 447.6 620.9 445.0 617.2 441.8 614.0 439.9 613.8 436.5 617.2 436.6 619.1 438.4 621.0 439.5 622.9 441.8 630.1 443.7 631.4 445.6 631.2 446.0 630.6M455.2 621.7 453.3 622.3 451.4 621.6 449.5 622.9 451.4 623.6 452.8 624.8 454.1 626.7 453.3 628.1 452.5 628.6 451.7 630.6 453.3 631.7 455.2 634.1M455.2 676.5 453.3 676.8 451.4 678.2 445.6 671.1 444.8 670.7 446.1 668.7 445.6 667.6 444.8 666.8 441.8 666.3 438.6 663.0 436.1 661.1 432.3 656.6 428.5 655.1 425.8 653.5 425.1 651.6 426.1 649.6 425.7 647.7 426.5 646.7 430.4 647.8 434.2 646.2 436.1 646.3 439.9 647.1 441.1 645.8 442.3 640.1 438.4 636.3 436.1 632.7 434.2 631.2 432.7 632.5 432.6 634.4 434.2 635.4 437.0 638.2 436.6 640.1 435.0 642.0 434.2 645.2 432.3 644.7 430.9 642.0 431.0 640.1 430.5 638.2 428.5 636.2 426.5 635.8 425.9 636.3 424.6 638.5 422.7 638.6 418.9 634.8 417.4 636.3 417.0 637.4 416.2 638.2 419.6 640.1 423.5 643.9 422.7 645.2 417.0 642.8 416.3 643.9 415.1 645.0 411.3 642.6 407.8 645.8 407.5 646.8 406.5 647.7 405.5 648.2 402.0 651.6 398.4 655.4 397.9 656.5 392.9 661.1 391.8 663.0 394.1 664.4 399.0 668.7 399.9 670.7 398.0 672.6 398.9 674.5 401.7 676.6 405.5 676.4 407.7 678.3 411.3 683.2 413.2 683.5 415.1 683.4 417.0 681.8 418.9 679.0 420.8 678.6 422.7 678.7 423.6 678.3 422.7 677.6 420.8 677.7 415.1 674.6 413.2 674.4 411.3 673.6 409.6 672.6 408.0 670.7 406.4 666.8 407.5 665.4 411.3 666.9 412.7 666.8 413.2 666.4 413.4 664.9 415.5 663.0 415.5 661.1 413.2 659.6 408.7 655.4 408.6 653.5 409.4 652.7 411.3 652.4 413.2 652.9 416.7 655.4 418.9 657.5 418.7 655.4 420.8 654.9 422.7 655.4 424.6 656.2 428.5 659.8 430.4 660.6 432.3 660.6 434.2 661.5 435.1 663.0 434.9 664.9 433.0 666.8 432.3 668.7 432.2 672.6 433.0 674.5 435.1 676.4 435.6 678.3 433.4 680.2 433.4 682.1 438.5 685.9 444.1 691.7 445.7 693.6 449.0 699.3 454.3 705.0 454.4 706.9 452.7 708.8 453.8 712.7 455.2 714.4M424.6 646.6 423.6 645.8 424.6 645.3 425.5 645.8 424.6 646.6M455.2 648.5 453.6 649.6 455.2 652.0M450.5 661.1 449.5 659.2 446.3 655.4 443.7 651.6 441.8 650.6 438.0 652.6 436.1 652.6 435.1 653.5 436.5 655.4 439.9 658.4 445.6 662.3 447.6 662.9 449.5 662.9 450.5 661.1M397.9 659.5 397.9 659.1 397.9 659.5M405.5 666.1 401.7 665.7 400.5 664.9 398.7 663.0 398.1 661.1 399.8 659.7 405.1 663.0 407.0 664.9 405.5 666.1M455.2 761.5 451.5 764.2 449.5 763.8 445.6 760.9 439.9 758.8 434.2 755.1 431.2 752.8 430.4 751.5 429.0 750.9 427.8 748.9 426.5 748.4 424.7 745.1 424.2 743.2 424.6 740.2 426.1 739.4 420.6 733.7 418.2 729.8 418.4 727.9 420.8 728.2 421.6 727.9 422.1 726.0 421.3 724.1 422.7 722.3 424.6 723.8 426.5 724.1 427.5 722.2 423.2 714.6 422.7 714.3 421.7 714.6 420.5 716.5 420.3 718.4 422.7 722.2 420.8 723.8 413.2 716.1 409.4 713.9 405.5 712.3 403.6 712.2 401.7 712.8 400.6 712.7 399.8 712.4 397.9 710.8 397.0 708.8 396.8 706.9 397.3 703.1 397.9 701.5 398.3 701.2 399.8 700.9 403.6 703.1 405.5 703.6 406.7 703.1 406.2 701.2 407.5 700.7 408.5 701.2 408.9 703.1 408.2 705.0 409.4 705.9 409.8 706.9 412.2 708.8 413.2 709.5 415.1 709.9 417.0 709.4 420.3 706.9 422.7 703.4 423.6 699.3 422.7 697.4 420.8 695.7 418.9 695.9 417.0 697.0 415.1 696.5 413.2 695.4 411.1 693.6 410.6 687.8 408.8 685.9 405.5 684.4 403.6 683.8 403.1 684.0 403.2 685.9 404.5 689.7 403.6 691.8 399.8 693.8 396.0 692.1 390.9 687.8 390.3 686.6 388.9 685.9 389.9 684.0 389.4 682.1 388.2 680.2 388.4 679.4 390.3 678.9 396.0 679.9 396.4 678.3 394.6 674.5 390.2 668.7 388.4 665.7 387.3 666.8 386.4 667.1 379.2 674.5 379.6 678.3 380.7 678.6 381.6 680.2 388.2 685.9 388.9 689.7 389.8 691.7 393.1 695.5 392.4 697.4 390.3 698.2 388.4 697.8 386.4 697.0 380.7 691.4 378.8 691.8 376.9 691.3 371.2 685.9 373.1 684.3 376.7 684.0 375.0 683.5 373.1 682.0 368.2 685.9 368.1 691.7 368.4 693.6 369.3 694.6 373.1 694.5 375.0 694.9 376.9 695.9 380.8 699.3 384.5 702.8 386.3 705.0 385.8 706.9 386.2 708.8 387.5 710.8 394.1 716.1 396.0 717.3 399.8 717.3 401.7 717.9 405.0 720.3 406.2 722.2 406.4 724.1 409.6 727.9 411.3 731.0 413.1 735.6 411.3 738.0 403.6 733.8 402.3 731.8 401.5 729.8 401.7 728.8 403.1 727.9 403.2 726.0 402.8 724.1 401.6 722.2 397.9 719.6 394.1 719.0 392.2 719.1 391.0 720.3 391.2 722.2 394.2 726.0 394.9 727.9 394.6 731.8 395.5 733.7 394.1 734.2 386.4 727.9 382.6 726.0 381.5 727.9 382.6 730.4 383.7 731.8 382.6 732.9 380.7 732.6 378.8 732.9 378.3 733.7 379.4 735.6 382.6 738.0 386.4 738.5 388.4 739.4 390.6 741.3 391.7 743.2 391.4 745.1 390.3 745.5 384.5 742.9 382.6 743.4 380.5 745.1 381.8 748.9 381.1 750.9 379.4 752.8 382.6 755.0 384.5 755.6 386.4 755.8 390.3 754.3 396.0 756.7 398.9 758.5 401.1 760.4 402.7 764.2 404.4 766.1 403.6 767.0 401.7 766.6 397.9 767.5 394.1 765.4 392.2 764.9 390.3 765.1 388.4 764.8 384.9 760.4 377.7 754.7 376.9 753.4 375.0 752.9 373.1 755.1 371.2 756.0 369.3 755.4 367.5 752.8 366.7 750.9 366.8 748.9 367.4 747.4 369.3 747.1 370.8 748.9 373.1 749.8 374.4 748.9 373.1 746.5 371.2 746.9 367.4 746.6 365.3 743.2 367.4 741.2 369.3 739.9 371.2 739.9 371.6 739.4 370.1 735.6 373.1 731.8 373.9 729.8 374.0 727.9 373.0 726.0 369.3 722.5 367.4 720.0 365.4 718.5 361.6 716.7 359.6 716.5 360.3 718.4 366.5 724.1 367.4 726.0 366.8 727.9 365.4 729.3 364.6 733.7 363.5 735.6 361.6 735.2 360.9 733.7 355.9 726.8 354.0 725.7 350.2 726.0 348.3 723.8 347.8 722.2 346.3 720.0 344.4 718.4 340.6 718.9 338.7 718.3 336.8 717.1 333.4 720.3 333.0 722.0 331.1 723.0 329.9 724.1 331.1 726.3 333.0 727.5 334.9 725.9 336.8 725.7 337.9 726.0 342.5 729.0 346.3 733.4 348.3 734.9 349.8 735.6 350.2 736.6 351.4 737.5 350.2 737.8 349.6 739.4 351.3 741.3 354.0 742.8 356.5 745.1 357.4 747.0 357.5 748.9 358.2 750.9 360.0 752.8 362.6 756.6 363.5 757.5 365.4 757.9 369.3 757.1 371.2 759.4 371.6 760.4 371.2 761.1 367.9 762.3 367.4 764.2 369.3 766.1 375.0 770.1 376.9 769.6 378.6 768.0 378.8 767.4 380.7 768.4 382.1 771.9 380.7 773.1 378.8 773.4 378.7 773.8 382.6 777.8 384.5 778.1 388.0 777.6 387.1 773.8 384.2 768.0 384.5 767.9 388.4 768.3 390.3 769.6 394.1 773.2 397.8 771.9 399.8 770.0 405.5 772.2 407.5 772.0 411.3 775.9 413.2 776.8 415.1 776.6 417.0 775.8 418.1 779.5 417.9 781.4 417.0 781.5 415.1 780.7 413.2 780.7 412.6 781.4 412.8 783.3 417.0 786.6 418.9 787.4 422.7 788.1 426.5 790.2 428.9 792.9 430.1 794.8 430.4 796.2 431.9 796.7 426.7 798.6 428.5 799.2 431.4 802.4 432.8 806.2 432.8 810.0 433.8 812.0 432.3 813.5 424.6 808.6 422.7 807.7 420.8 810.1 415.1 808.0 413.2 808.5 409.9 812.0 411.3 814.3 413.2 816.3 419.3 817.7 422.1 819.6 423.3 821.5 423.0 823.4 421.5 825.3 420.8 825.9 418.9 826.4 418.0 827.2 418.5 829.1 421.0 833.0 421.3 834.9 420.8 836.3 418.9 836.2 415.1 834.6 413.4 833.0 412.7 829.1 405.5 823.4 403.6 822.9 402.5 825.3 404.6 827.2 407.5 828.8 409.0 831.0 408.0 834.9 413.2 837.8 417.0 841.2 419.8 840.6 420.8 837.7 424.6 839.6 427.9 840.6 430.3 842.5 428.5 844.3 424.6 841.9 424.0 842.5 423.7 844.4 424.1 846.3 422.7 846.6 420.8 846.2 418.2 846.3 418.9 846.7 420.3 850.1 418.9 851.3 415.1 850.3 414.4 852.1 415.3 854.0 415.4 855.9 415.1 856.4 413.2 857.4 411.3 856.0 408.2 852.1 405.5 849.8 403.6 849.4 401.7 850.9 399.5 850.1 397.4 848.2 397.1 846.3 397.9 844.9 399.8 844.8 400.4 844.4 401.7 841.8 405.2 840.6 404.9 838.7 401.3 833.0 400.7 825.3 399.8 824.8 396.0 819.3 394.4 817.7 396.1 815.8 396.8 813.9 397.9 813.1 399.8 812.8 401.7 813.7 403.6 815.2 405.5 815.5 405.8 813.9 405.2 812.0 403.6 810.0 399.8 807.5 397.1 804.3 394.1 802.3 392.2 801.4 386.4 796.1 380.7 793.7 376.9 793.2 375.0 791.8 374.4 791.0 375.0 789.5 376.9 790.0 379.3 789.0 378.5 787.1 373.1 780.2 371.2 780.0 369.6 781.4 369.8 783.3 369.3 783.6 367.2 781.4 358.2 775.7 355.9 773.0 354.0 772.3 352.8 773.8 351.9 775.7 352.5 779.5 352.1 780.0 350.2 779.0 348.3 777.1 344.4 774.4 340.6 775.3 338.7 774.4 336.8 773.0 334.9 772.4 334.2 773.8 336.9 777.6 337.7 779.5 336.8 779.9 333.0 778.1 329.3 775.7 329.2 775.2 326.6 773.8 329.2 773.3 330.6 771.9 330.0 769.9 327.9 768.0 327.3 767.5 325.3 766.9 323.4 768.1 321.5 767.4 319.9 766.1 319.6 765.5 317.7 764.2 315.8 765.6 315.6 766.1 316.7 769.9 319.6 773.6 321.9 775.7 321.5 776.2 319.6 776.7 317.7 775.9 314.3 771.9 311.8 768.0 308.2 765.1 304.3 763.0 300.5 763.2 298.6 762.8 298.2 764.2 299.7 768.0 299.9 769.9 301.3 771.9 306.2 774.6 308.2 775.2 310.1 775.3 314.6 777.6 315.8 778.8 316.8 781.4 318.0 783.3 321.5 786.1 325.3 787.3 327.0 787.1 326.7 785.2 327.3 784.4 331.1 783.3 333.3 783.3 334.3 785.2 334.7 787.1 335.8 789.0 339.7 792.9 342.5 797.4 344.4 798.9 346.3 799.3 348.5 800.5 352.1 805.9 353.2 808.1 352.1 808.9 348.3 807.5 347.0 808.1 346.5 810.0 348.3 812.5 350.2 814.5 352.1 814.3 355.4 812.0 355.9 810.7 359.7 811.2 361.6 811.9 364.0 813.9 364.3 817.7 367.4 820.8 369.1 821.5 369.3 822.7 371.2 821.7 373.1 821.8 375.0 822.4 376.4 823.4 376.2 825.3 375.1 827.2 375.5 829.1 378.0 831.0 375.0 836.1 373.1 837.2 371.6 838.7 371.2 840.0 370.8 838.7 369.3 837.9 365.8 834.9 365.4 833.0 366.3 831.0 363.5 829.3 361.6 828.9 360.2 827.2 357.8 822.9 355.9 821.6 354.0 822.5 352.1 821.4 351.4 819.6 350.0 817.7 346.3 815.7 344.9 815.8 344.4 818.1 342.5 819.7 340.6 817.7 338.7 814.6 338.2 815.8 338.5 817.7 341.5 823.4 341.4 825.3 340.6 825.7 336.8 824.8 335.8 823.4 331.3 813.9 324.1 806.2 325.3 804.9 326.8 804.3 329.2 804.7 334.9 809.4 336.2 810.0 336.8 811.1 337.4 810.0 337.5 808.1 338.7 807.8 340.6 808.0 341.8 806.2 340.8 804.3 336.8 798.6 334.9 796.9 333.0 796.9 331.4 798.6 329.2 799.2 327.3 798.5 325.3 797.3 323.4 795.4 321.5 794.3 319.2 794.8 317.7 795.5 314.1 792.9 308.2 785.2 296.7 781.7 292.3 779.5 287.2 772.8 286.6 773.8 287.2 775.4 288.8 777.6 289.7 779.5 289.7 781.4 292.3 785.2 294.0 789.0 299.5 792.9 300.7 794.8 300.5 796.7 298.6 798.0 296.7 797.8 291.0 794.6 289.1 794.8 287.2 797.3 285.2 797.7 283.3 796.6 281.4 794.6 279.2 791.0 278.5 787.1 278.8 785.2 279.8 783.3 279.2 781.4 277.6 779.1 275.7 778.4 272.4 781.4 272.5 783.3 271.9 783.8 270.0 783.8 264.6 789.0 264.9 791.0 268.1 793.6 270.7 794.8 271.9 795.7 275.7 796.1 287.2 801.7 289.1 803.0 292.9 806.5 295.3 806.2 296.4 804.3 296.7 802.4 300.5 801.2 302.4 801.2 303.2 800.5 303.3 798.6 304.3 797.5 306.2 798.1 310.1 802.2 312.0 801.5 312.5 800.5 313.9 800.1 318.4 802.4 320.3 804.3 321.4 806.2 321.1 808.1 321.2 810.0 325.7 817.7 329.2 820.8 336.2 825.3 336.6 827.2 336.2 829.1 333.7 831.0 332.7 833.0 334.5 836.8 335.4 840.6 333.0 842.6 331.1 843.1 329.2 843.1 327.3 843.7 326.8 844.4 328.2 848.2 330.9 852.1 330.7 854.0 331.6 855.9 334.9 856.8 337.2 855.9 337.2 854.0 335.4 850.1 335.5 848.2 336.8 847.3 338.7 847.2 340.6 847.8 348.3 850.8 349.8 852.1 348.9 854.0 344.8 855.9 345.0 857.8 345.7 859.7 348.3 861.2 350.2 861.6 352.1 861.2 355.9 862.8 359.8 867.3 365.4 872.3 367.4 873.4 369.3 873.1 371.2 874.5 374.1 880.7 373.7 882.6 374.3 884.5 373.1 886.1 371.2 885.0 370.4 882.6 365.4 877.9 363.5 877.1 359.7 877.8 357.8 877.0 356.1 875.0 356.4 871.1 355.5 869.2 352.1 866.9 351.1 867.3 350.2 869.5 348.3 871.1 345.0 873.1 342.5 873.4 340.6 872.9 339.6 873.1 334.9 875.0 335.7 876.9 337.1 878.8 337.8 880.7 336.8 881.5 334.9 880.9 331.1 878.8 329.5 880.7 333.0 883.7 335.2 886.4 336.8 890.8 340.6 892.7 341.8 894.1 340.6 895.7 338.7 895.4 336.8 894.5 334.6 892.2 333.0 891.4 331.1 891.2 329.7 892.2 330.3 894.1 329.9 896.0 325.3 898.7 323.4 899.3 321.7 897.9 320.7 894.1 319.6 893.4 317.7 893.4 317.3 894.1 317.7 896.0 316.5 897.9 316.4 899.8 317.7 901.1 319.6 902.2 321.5 902.8 323.4 902.9 327.8 905.5 329.9 907.4 329.2 907.9 327.3 907.7 323.4 906.6 322.0 907.4 323.5 909.3 323.4 912.5 321.5 911.8 317.7 909.0 313.9 908.2 312.0 906.7 307.4 901.7 306.6 897.9 304.3 894.4 302.4 892.4 300.5 891.2 294.8 889.6 292.6 888.3 291.0 885.9 289.3 884.5 287.2 883.9 285.3 880.7 283.7 878.8 277.2 873.1 277.8 871.1 279.5 869.6 281.4 869.3 283.3 867.3 287.2 869.5 289.1 869.4 291.0 868.3 304.3 870.8 306.0 869.2 303.8 865.4 300.5 862.4 298.6 861.6 296.7 864.5 294.8 864.3 293.2 863.5 292.9 862.3 291.9 861.6 290.6 854.0 288.8 852.1 287.2 850.9 285.4 850.1 284.3 848.2 284.3 846.3 281.4 843.7 279.5 840.8 277.2 834.9 276.9 833.0 275.5 831.0 271.9 828.0 270.0 827.3 268.1 827.4 266.1 828.9 264.2 828.9 260.4 827.2 256.6 827.4 250.9 826.0 242.2 827.2 241.3 828.8 235.6 829.0 233.7 828.3 233.1 827.2 230.9 825.3 229.9 823.5 226.1 827.2 226.1 827.7 224.7 829.1 225.3 831.0 225.4 833.0 226.2 834.9 228.0 837.5 229.9 837.5 231.8 836.3 233.7 836.1 234.5 834.9 235.6 834.2 237.5 834.1 239.4 835.3 243.0 838.7 241.3 840.4 235.6 838.8 235.0 840.6 235.9 842.5 237.5 844.4 243.2 849.3 245.1 850.5 247.1 850.9 249.0 850.8 250.9 850.3 251.1 848.2 247.1 846.9 244.6 842.5 243.2 841.1 241.9 840.6 243.2 839.3 245.1 840.0 246.3 838.7 246.0 836.8 244.8 834.9 243.1 833.0 242.2 831.0 243.2 830.3 245.2 831.0 252.5 834.9 256.6 838.1 257.5 836.8 257.6 834.9 258.5 833.9 260.0 831.0 260.4 830.7 262.3 831.2 264.7 833.0 265.9 834.9 266.3 838.7 268.2 840.6 273.8 844.5 277.6 847.7 281.4 849.1 283.0 850.1 284.3 854.0 287.2 857.4 289.1 859.3 289.9 859.7 291.0 862.0 292.2 863.5 289.1 864.1 287.2 865.9 283.3 863.2 281.4 862.8 279.7 863.5 280.2 865.4 279.5 865.7 279.3 863.5 275.7 861.7 273.8 861.4 271.9 862.2 270.0 862.2 268.1 861.2 266.5 859.7 265.8 857.8 266.1 856.9 268.1 856.4 270.0 856.4 270.6 855.9 271.9 853.7 275.7 854.3 277.6 854.1 276.5 852.1 275.7 851.2 273.8 850.4 271.9 850.1 270.0 851.3 268.1 851.4 266.1 851.0 262.3 849.0 256.6 847.1 255.6 848.2 256.6 849.1 258.7 852.1 259.9 854.0 260.4 855.9 258.5 857.4 250.9 857.0 248.5 857.8 249.1 859.7 250.9 860.9 253.4 863.5 256.4 867.3 258.0 873.1 256.6 874.9 249.0 869.8 247.3 867.3 247.1 865.4 247.6 863.5 246.4 861.6 245.1 860.5 241.3 858.6 239.4 856.3 237.5 855.4 235.6 855.2 233.7 853.8 231.5 850.1 230.7 846.3 229.8 844.4 224.6 840.6 222.8 838.7 220.3 833.8 217.1 836.8 218.7 838.7 219.4 840.6 219.8 842.5 219.5 846.3 219.8 848.2 222.2 851.0 224.1 852.3 227.6 854.0 229.9 855.9 228.0 856.8 226.1 856.5 224.1 857.1 224.0 857.8 226.1 860.5 229.8 863.5 230.6 865.4 230.4 867.3 231.9 869.2 233.7 871.2 238.8 875.0 240.0 876.9 239.4 877.8 233.7 876.4 232.4 876.9 231.8 882.6 231.2 880.7 229.9 879.9 227.2 876.9 226.5 875.0 227.6 873.1 225.2 869.2 224.5 867.3 226.9 865.4 224.1 863.0 222.2 862.2 220.6 865.4 216.5 867.0 216.1 869.2 214.6 869.5 212.7 871.4 210.8 872.5 208.9 872.3 207.0 870.7 205.2 867.3 207.0 865.7 208.3 865.4 207.9 863.5 208.8 861.6 210.8 859.5 211.3 857.8 212.7 856.5 217.2 857.8 218.4 855.9 218.6 854.0 216.5 852.4 214.6 852.4 210.8 851.6 207.0 852.3 203.1 850.7 201.8 852.1 201.2 853.2 199.3 854.4 192.7 861.6 193.6 862.5 195.5 862.8 196.8 861.6 198.0 859.7 199.3 859.3 203.0 861.6 206.1 865.4 205.0 866.8 203.1 865.7 201.2 865.1 200.2 865.4 200.6 867.3 201.9 869.2 202.3 871.1 200.7 873.1 200.7 875.0 202.9 878.8 201.2 879.1 196.7 876.9 196.9 873.1 195.9 871.1 193.6 868.4 192.1 867.3 191.7 866.5 191.4 867.3 191.8 869.2 189.8 870.7 186.0 870.7 184.4 871.1 182.4 873.1 183.7 875.0 189.8 878.8 191.7 880.8 195.0 886.4 195.0 888.3 193.6 889.7 192.6 888.3 189.8 887.0 189.3 888.3 189.8 889.0 191.7 890.4 193.6 890.5 195.5 891.5 195.9 892.2 201.2 896.6 203.1 897.7 203.6 896.0 200.9 890.2 201.2 889.7 203.1 890.1 207.0 893.3 210.8 894.2 212.7 895.6 214.6 898.1 216.5 899.7 218.4 899.5 219.8 896.0 216.6 892.2 215.0 888.3 214.8 886.4 216.5 885.8 220.3 889.2 221.4 890.2 222.4 896.0 226.1 899.8 228.0 903.8 229.9 905.8 231.8 905.3 233.7 905.8 237.2 907.4 240.1 909.3 241.1 911.2 241.3 912.7 241.8 913.2 236.2 915.1 237.5 915.8 240.2 918.9 242.6 922.7 241.6 928.4 246.7 932.3 248.2 934.2 247.9 936.1 248.6 938.0 250.9 940.5 256.6 943.9 262.3 948.8 264.2 948.6 266.1 947.7 269.9 947.5 268.5 945.6 266.1 943.4 264.2 942.3 262.3 942.3 261.3 941.8 260.4 940.4 259.5 939.9 260.4 938.7 262.3 938.1 270.0 941.2 271.9 940.4 272.8 938.0 272.5 936.1 271.1 934.2 268.1 932.2 258.5 929.8 256.6 930.2 254.7 931.8 252.8 931.9 249.3 928.4 248.0 926.5 247.4 924.6 249.0 923.0 250.9 922.8 256.6 924.8 260.4 923.3 262.3 923.2 263.7 920.8 264.1 918.9 264.0 917.0 262.1 913.2 262.5 911.2 264.2 910.6 268.1 911.6 271.9 914.6 273.8 915.4 275.7 913.8 277.6 913.9 279.5 915.1 282.0 918.9 281.4 919.8 279.5 920.4 279.3 920.8 280.4 924.6 282.0 926.5 291.0 933.8 292.9 934.6 294.3 934.2 293.8 932.3 291.2 928.4 287.3 924.6 286.4 922.7 291.0 921.1 292.9 920.8 298.6 922.7 300.5 923.9 303.5 924.6 306.2 926.3 304.2 928.4 304.0 930.3 301.2 932.3 300.7 934.2 302.4 936.9 307.5 939.9 310.1 941.9 310.3 941.8 310.2 939.9 309.0 938.0 308.2 936.1 310.1 934.9 315.2 938.0 317.2 939.9 318.5 941.8 324.5 947.5 324.0 949.4 321.5 950.5 320.9 951.3 321.9 953.3 323.4 954.6 329.2 957.8 332.8 959.0 333.7 960.9 334.2 962.8 334.1 964.7 333.0 966.9 331.1 966.5 327.3 963.2 325.3 962.9 323.4 963.3 321.5 962.8 319.6 966.1 318.5 966.6 317.9 968.5 319.6 971.8 321.5 973.7 325.3 975.6 327.3 977.5 328.3 980.0M430.4 676.4 429.9 674.5 427.1 672.6 424.6 671.7 422.7 671.6 422.3 672.6 424.6 675.2 430.4 676.4M377.3 678.3 376.8 678.3 377.3 678.3M453.3 694.1 451.4 692.9 447.6 689.0 444.2 684.0 440.6 680.2 439.3 678.3 439.9 677.4 441.8 677.1 447.6 679.4 449.5 680.4 450.4 682.1 450.6 684.0 451.5 685.9 455.0 689.7 454.2 693.6 453.3 694.1M440.6 716.5 441.8 716.0 445.6 716.0 447.6 715.3 447.9 714.6 447.3 708.8 446.2 705.0 448.2 703.1 447.6 702.3 445.6 701.3 443.7 701.1 441.8 700.4 439.9 698.9 436.2 695.5 436.8 691.7 434.2 690.3 432.3 688.4 430.8 687.8 430.4 687.2 430.2 689.7 432.2 691.7 435.7 693.6 436.0 695.5 435.1 697.4 435.5 699.3 440.7 703.1 441.5 705.0 439.9 706.4 436.1 707.9 434.2 707.9 432.3 707.5 430.4 707.7 429.5 708.8 429.5 710.8 432.3 714.8 434.2 714.4 436.1 714.7 439.9 717.0 440.6 716.5M359.6 703.1 360.3 701.2 359.7 700.4 358.7 699.3 355.9 698.4 355.0 699.3 355.9 701.7 357.3 703.1 357.8 704.3 359.6 703.1M385.0 712.7 383.4 710.8 381.0 708.8 379.7 706.9 379.6 705.0 381.6 703.1 380.7 702.7 378.8 704.3 376.9 703.7 375.6 705.0 380.4 708.8 380.7 710.8 383.8 712.7 385.0 712.7M353.1 708.8 352.4 706.9 350.2 704.6 348.9 706.9 352.1 709.7 353.1 708.8M381.2 718.4 380.4 716.5 376.9 713.2 374.3 708.8 372.2 706.9 369.3 706.0 367.4 707.4 365.4 707.9 363.5 708.0 361.6 707.4 359.7 706.0 357.8 705.5 357.2 706.9 357.6 708.8 359.7 710.8 363.5 711.5 368.5 714.6 375.0 716.5 378.8 719.2 380.7 718.9 381.2 718.4M354.4 722.2 354.3 720.3 352.7 718.4 351.6 714.6 348.3 712.7 344.4 709.5 341.6 712.7 342.5 715.1 344.0 716.5 344.4 718.2 345.5 716.5 348.3 716.1 351.3 718.4 352.1 720.8 354.0 722.5 354.4 722.2M455.2 717.1 453.3 716.1 451.4 717.0 450.6 718.4 451.9 722.2 451.8 724.1 455.2 727.3M440.7 731.8 440.1 729.8 438.9 727.9 438.8 726.0 439.9 725.5 441.4 724.1 440.8 722.2 439.9 721.4 433.2 718.4 432.3 717.4 429.0 718.4 430.4 719.5 432.6 724.1 432.8 726.0 432.3 727.2 428.4 727.9 429.2 729.8 430.4 731.6 432.3 732.4 438.0 733.6 439.9 733.5 440.7 731.8M455.2 748.0 452.4 745.1 450.5 737.5 451.1 735.6 453.3 734.6 453.7 733.7 450.1 727.9 449.5 725.7 448.3 724.1 447.6 723.7 447.2 724.1 447.5 726.0 445.8 727.9 446.0 729.8 447.6 733.0 449.4 735.6 447.2 737.5 445.7 739.4 447.0 743.2 445.6 745.9 443.7 746.7 438.0 744.7 434.2 743.8 430.4 738.8 428.5 737.2 427.3 737.5 426.8 739.4 430.9 743.2 431.8 745.1 431.6 748.9 434.2 749.7 436.1 749.1 439.9 750.0 444.9 752.8 446.8 754.7 449.5 756.6 448.7 754.7 446.7 752.8 446.2 750.9 447.6 749.0 449.5 749.2 451.4 750.0 452.1 750.9 453.4 754.7 455.2 756.8M366.2 771.9 366.2 769.9 365.4 769.1 364.4 768.0 358.1 764.2 355.8 762.3 354.2 760.4 355.9 760.1 357.8 761.1 359.7 760.8 360.0 760.4 357.9 754.7 355.9 753.5 352.1 753.7 347.9 750.9 346.0 748.9 344.9 747.0 344.5 739.4 342.2 735.6 340.6 731.6 338.7 730.1 334.9 728.3 329.2 729.2 327.3 728.7 325.3 729.1 322.2 731.8 322.8 733.7 324.1 735.6 324.7 737.5 325.3 738.5 329.2 739.9 333.0 745.1 334.9 746.5 338.7 746.5 339.7 748.9 339.8 750.9 338.7 752.7 336.8 751.8 331.1 747.3 329.0 745.1 325.3 739.9 323.4 739.6 321.5 739.9 320.2 739.4 317.7 736.6 316.8 737.5 316.5 741.3 315.8 741.6 313.9 741.1 312.0 742.0 309.2 745.1 309.0 747.0 310.7 748.9 311.5 750.9 310.4 752.8 310.8 754.7 315.8 760.0 317.2 760.4 317.7 763.7 318.0 762.3 317.2 758.5 317.3 754.7 317.7 753.4 319.6 752.7 320.3 750.9 319.2 748.9 319.2 747.0 319.6 746.3 321.5 746.8 323.5 748.9 324.7 752.8 327.0 756.6 329.2 758.9 331.1 763.8 333.0 766.3 334.9 766.4 336.8 765.6 338.7 765.7 340.5 764.2 340.2 760.4 339.6 758.5 340.6 757.5 342.5 759.0 343.2 760.4 344.8 762.3 348.3 764.2 350.2 761.6 351.3 764.2 356.6 768.0 357.8 769.6 359.7 771.1 363.5 772.5 365.4 772.4 366.2 771.9M359.7 738.1 359.4 737.5 359.7 737.2 360.4 737.5 359.7 738.1M361.6 739.6 361.1 739.4 361.6 738.7 361.6 739.6M409.4 760.5 407.5 761.3 405.1 760.4 403.1 758.5 402.8 756.6 403.6 754.7 406.1 752.8 405.0 750.9 403.6 749.7 401.7 749.2 399.8 750.3 399.4 750.9 397.9 751.3 397.0 750.9 395.3 748.9 395.0 745.1 395.9 743.2 397.9 743.6 399.8 744.6 406.1 748.9 408.6 752.8 410.5 754.7 413.1 758.5 411.3 760.0 409.4 760.5M443.7 771.9 441.8 770.8 438.0 767.5 435.0 766.1 432.3 764.3 430.4 763.7 426.5 764.1 424.6 763.6 421.0 760.4 417.1 754.7 415.4 750.9 415.6 748.9 417.0 748.1 418.9 747.9 422.7 749.0 426.5 749.3 428.5 751.2 431.0 756.6 430.0 760.4 430.4 761.0 432.3 762.1 434.2 761.8 436.1 762.0 439.9 764.1 441.9 766.1 443.7 768.8 444.3 769.9 443.7 771.9M304.8 750.9 304.2 750.9 304.8 750.9M336.8 756.9 333.0 756.3 331.1 755.4 330.4 754.7 333.0 752.4 334.9 753.0 336.8 754.7 338.1 756.6 336.8 756.9M303.8 760.4 302.2 758.5 298.6 755.7 295.9 758.5 296.7 760.2 297.7 760.4 298.6 761.3 302.4 761.9 303.8 760.4M348.3 761.5 347.5 760.4 348.3 758.9 349.3 760.4 348.3 761.5M426.5 775.7 423.7 773.8 417.0 767.2 416.2 766.1 414.5 762.3 413.0 760.4 413.2 759.7 415.1 759.7 417.0 760.5 420.8 764.2 423.9 766.1 424.9 768.0 424.1 769.9 424.6 771.3 427.3 773.8 426.5 775.7M382.6 766.8 380.7 767.6 379.5 766.1 378.5 762.3 378.8 762.0 380.7 762.9 382.0 764.2 383.0 766.1 382.6 766.8M298.7 773.8 297.8 771.9 293.6 768.0 293.5 766.1 294.2 764.2 292.9 762.8 291.0 762.7 288.0 766.1 288.2 768.0 291.0 770.3 293.4 773.8 294.8 775.1 296.7 775.2 298.7 773.8M405.5 769.3 404.4 768.0 405.5 767.0 406.6 768.0 405.5 769.3M349.3 771.9 348.3 769.9 346.3 769.2 344.8 769.9 348.3 772.4 349.3 771.9M284.1 775.7 281.4 774.7 280.4 775.7 281.4 776.5 283.3 776.3 284.1 775.7M455.2 786.3 451.4 782.7 449.5 782.5 447.6 783.4 445.5 781.4 446.1 779.5 447.6 778.3 450.6 779.5 451.4 780.3 452.0 779.5 452.3 777.6 453.3 775.8 455.2 775.5M394.9 779.5 394.1 779.1 392.4 779.5 394.1 780.1 394.9 779.5M409.0 804.3 408.9 802.4 405.3 798.6 404.1 796.7 405.5 795.3 407.5 796.4 411.3 800.0 417.1 800.5 410.9 794.8 409.4 792.9 410.7 791.0 410.8 789.0 407.6 783.3 405.5 780.8 403.6 779.3 402.2 781.4 402.2 783.3 403.2 785.2 403.7 787.1 400.0 789.0 399.9 791.0 400.6 792.9 400.8 794.8 399.8 795.4 399.3 796.7 398.8 798.6 398.8 800.5 400.0 802.4 401.7 803.9 403.6 805.0 405.5 805.5 407.5 805.5 409.0 804.3M344.4 791.1 342.5 790.0 338.3 785.2 340.6 782.8 348.3 786.1 349.5 787.1 347.8 789.0 344.4 791.1M371.2 785.4 371.2 784.8 371.2 785.4M455.2 841.1 451.4 837.3 443.7 834.1 442.1 833.0 439.9 830.7 436.1 828.9 434.2 826.7 431.6 819.6 434.1 817.7 433.4 813.9 434.2 812.9 436.1 816.9 436.8 819.6 443.7 825.7 445.6 825.8 446.0 825.3 445.9 823.4 445.2 821.5 444.4 815.8 447.4 813.9 447.7 812.0 447.3 810.0 445.6 808.4 443.7 808.3 439.5 806.2 435.3 802.4 433.9 800.5 432.3 796.7 433.0 794.8 433.0 792.9 431.3 789.0 430.7 785.2 432.3 783.4 435.5 785.2 438.0 787.7 439.9 788.3 443.7 788.3 447.6 789.5 449.5 788.7 455.2 790.7M363.5 796.5 363.1 794.8 357.8 789.0 356.8 787.1 357.8 786.4 359.7 786.3 362.0 787.1 365.3 789.0 367.5 791.0 368.4 792.9 367.4 794.0 365.0 794.8 363.5 796.5M395.9 791.0 396.6 789.0 394.8 787.1 392.2 785.5 390.3 785.2 388.4 785.9 386.8 787.1 390.3 790.8 392.2 792.0 394.1 792.2 395.9 791.0M350.2 789.3 349.0 789.0 350.2 787.9 351.9 789.0 350.2 789.3M265.6 802.4 265.3 798.6 264.2 798.2 263.4 796.7 260.8 794.8 260.4 794.2 258.6 796.7 258.7 798.6 256.6 798.1 254.0 800.5 258.5 802.9 264.2 803.9 265.6 802.4M455.2 794.9 451.4 793.6 450.4 794.8 451.4 797.4 451.6 798.6 451.4 799.1 449.5 799.6 447.7 800.5 445.7 802.4 449.5 805.1 453.3 803.9 455.2 805.0M386.4 818.9 382.6 816.3 378.8 812.2 375.0 811.5 373.1 810.5 369.3 807.1 367.4 806.8 365.4 808.1 363.5 808.7 361.6 808.0 357.4 804.3 355.9 802.0 354.0 800.1 351.5 798.6 351.7 796.7 354.0 796.5 355.9 795.5 359.7 796.3 361.6 796.1 363.5 796.7 367.4 800.9 369.3 800.8 371.2 799.7 376.9 799.2 380.7 800.6 384.8 800.5 387.7 802.4 387.5 804.3 385.4 806.2 384.8 808.1 386.4 808.5 394.1 815.5 395.6 815.8 394.1 816.9 388.4 817.5 386.4 818.9M423.7 798.6 424.9 796.7 422.7 796.4 420.8 795.6 418.9 796.3 418.8 796.7 419.8 798.6 420.8 799.4 422.7 799.8 423.7 798.6M445.6 802.4 445.4 800.5 441.8 796.2 439.9 794.9 438.0 795.6 437.0 796.7 436.9 798.6 438.1 800.5 439.9 802.1 441.8 802.9 445.6 802.4M277.6 810.0 278.3 808.1 277.5 806.2 271.9 799.6 268.1 798.1 266.6 798.6 267.4 802.4 269.2 806.2 271.9 808.5 275.7 810.6 277.6 810.0M283.8 810.0 285.5 808.1 286.4 806.2 283.3 803.2 281.4 803.0 280.1 804.3 280.1 806.2 281.1 808.1 282.8 810.0 283.3 811.8 283.8 810.0M384.1 808.1 382.6 807.7 380.7 807.9 378.8 807.3 377.9 806.2 376.9 805.7 375.0 805.3 373.5 806.2 376.9 808.8 378.8 809.0 380.7 808.4 382.6 808.7 384.1 808.1M284.0 825.3 283.3 824.4 282.2 821.5 283.3 820.6 284.6 821.5 287.2 824.7 289.1 824.4 293.3 819.6 292.8 817.7 291.0 816.4 287.2 814.7 286.0 813.9 285.2 812.6 283.7 813.9 281.4 814.7 280.1 815.8 280.0 817.7 278.7 819.6 277.6 824.0 277.4 823.4 275.7 823.1 271.9 821.4 270.0 821.3 267.0 819.6 266.1 817.7 269.4 813.9 269.0 812.0 266.1 808.1 264.2 806.9 262.3 807.2 258.5 809.8 256.6 811.6 254.7 811.2 249.0 807.3 247.1 806.9 243.7 810.0 242.9 812.0 245.1 812.8 250.9 819.6 252.8 820.3 254.7 820.1 258.5 821.1 262.3 821.0 265.6 823.4 266.1 824.3 270.0 824.8 273.8 826.0 275.7 826.1 277.6 825.4 279.5 825.3 281.4 826.0 283.3 826.1 284.0 825.3M309.1 813.9 308.8 812.0 308.2 810.7 306.2 809.0 304.3 808.6 302.4 807.4 300.5 807.3 300.5 808.1 304.3 810.5 308.2 814.7 309.1 813.9M310.7 808.1 310.1 806.8 309.9 808.1 310.7 808.1M455.2 815.1 452.9 815.8 452.3 817.7 453.3 819.6 455.2 821.7M281.4 820.1 281.0 819.6 281.4 819.3 281.7 819.6 281.4 820.1M321.8 875.0 320.5 871.1 318.2 867.3 319.6 866.0 324.3 869.2 325.3 871.6 327.3 871.9 328.3 871.1 327.3 870.8 325.9 869.2 324.7 865.4 321.7 861.6 323.4 860.4 325.3 861.0 327.3 862.8 330.9 867.3 331.1 868.2 333.0 868.2 333.2 867.3 332.4 865.4 330.6 863.5 328.1 861.6 326.8 859.7 327.0 857.8 326.7 855.9 324.3 852.1 321.5 849.3 319.6 848.2 318.0 846.3 318.3 844.4 317.2 842.5 312.0 838.4 310.7 836.8 310.5 834.9 309.5 833.0 308.1 831.0 310.1 829.7 312.0 829.5 313.9 830.5 317.7 828.2 319.6 828.4 325.3 831.7 327.3 831.8 329.1 831.0 328.9 829.1 328.1 827.2 325.3 823.4 321.2 819.6 319.6 818.6 317.7 818.6 316.2 819.6 315.8 821.6 312.0 821.7 310.5 823.4 310.1 824.8 306.2 824.2 304.3 824.7 303.6 825.3 302.4 825.7 298.6 825.3 297.4 827.2 298.3 831.0 296.7 831.7 292.9 832.0 289.1 830.2 287.2 830.0 285.2 832.5 283.1 833.0 282.9 834.9 285.2 836.9 287.2 835.6 294.8 835.5 297.7 836.8 300.3 838.7 301.4 840.6 300.7 842.5 296.7 841.9 295.2 842.5 295.8 844.4 297.1 846.3 304.8 854.0 305.8 855.9 304.1 857.8 305.9 861.6 310.9 867.3 312.7 871.1 313.9 872.4 320.9 875.0 321.5 875.9 321.8 875.0M363.7 823.4 361.6 820.9 360.7 821.5 363.7 823.4M380.7 824.9 378.2 823.4 377.8 821.5 378.8 820.8 382.0 823.4 380.7 824.9M394.1 830.4 392.2 829.9 388.4 827.3 385.1 823.4 385.2 821.5 386.4 820.1 388.4 820.3 390.3 821.5 392.7 823.4 394.2 825.3 395.4 827.2 395.4 829.1 394.1 830.4M355.9 829.3 354.0 829.5 352.7 829.1 350.8 827.2 352.1 823.9 354.0 824.5 355.7 827.2 356.4 829.1 355.9 829.3M374.8 827.2 373.1 826.4 371.2 824.5 369.3 823.5 367.1 825.3 369.3 827.7 371.2 828.3 373.1 828.4 374.8 827.2M382.6 825.6 381.9 825.3 382.6 824.8 382.9 825.3 382.6 825.6M455.2 825.6 453.3 825.2 452.1 829.1 452.3 831.0 453.3 832.6 455.2 833.9M451.4 857.5 449.5 856.9 445.6 854.6 441.8 850.0 439.6 848.2 438.6 846.3 439.0 844.4 436.1 843.3 434.2 841.6 433.4 840.6 432.0 836.8 430.8 834.9 427.2 833.0 425.5 831.0 425.6 829.1 426.5 828.3 428.5 828.2 431.7 831.0 432.3 832.0 434.2 832.2 436.1 831.7 438.0 832.4 439.9 834.9 440.7 838.7 443.7 843.1 445.6 845.2 449.5 846.8 451.4 848.2 449.4 850.1 451.8 855.9 451.4 857.5M390.3 836.4 388.4 836.1 384.5 834.3 382.6 834.0 379.5 833.0 380.7 831.5 386.4 829.6 388.4 830.4 390.5 833.0 391.1 834.9 390.3 836.4M318.5 836.8 317.6 834.9 315.8 832.7 313.9 831.4 313.3 833.0 313.6 834.9 315.8 837.2 317.7 837.7 318.5 836.8M270.0 835.9 268.5 834.9 270.0 833.9 271.4 834.9 270.0 835.9M399.8 879.3 396.0 879.2 394.1 878.5 390.3 875.0 391.0 863.5 385.2 857.8 378.8 854.0 376.9 853.4 375.0 853.7 373.1 852.9 368.2 848.2 365.4 846.3 357.8 842.7 354.0 839.7 350.2 837.9 349.2 836.8 349.5 834.9 352.1 834.6 355.9 835.8 361.6 839.5 365.4 841.2 369.3 843.6 371.2 843.9 373.1 841.3 375.0 843.4 378.8 845.4 380.7 845.6 382.6 844.4 381.4 842.5 382.1 840.6 382.6 840.2 386.4 838.9 388.4 839.5 392.6 844.4 396.9 850.1 396.0 854.5 393.9 855.9 393.8 857.8 395.2 859.7 396.0 862.2 398.6 867.3 400.0 871.1 399.3 873.1 399.6 875.0 400.6 876.9 401.1 878.8 399.8 879.3M306.2 839.7 305.3 838.7 306.2 837.8 307.0 838.7 306.2 839.7M257.4 842.5 256.6 839.8 254.7 840.4 255.5 842.5 256.6 843.4 257.4 842.5M213.9 844.4 212.7 841.4 211.6 842.5 210.9 844.4 212.7 845.2 213.9 844.4M346.3 844.2 345.4 842.5 346.3 841.8 347.9 842.5 346.3 844.2M354.0 847.4 352.1 847.9 346.6 844.4 348.3 842.8 350.2 843.9 352.1 844.0 354.0 846.1 354.0 847.4M436.1 850.9 432.1 848.2 428.5 844.4 430.4 842.5 432.1 844.4 436.7 848.2 437.1 850.1 436.1 850.9M455.2 846.7 455.2 843.8M392.9 850.1 391.2 848.2 390.3 847.8 388.4 847.3 386.4 847.6 384.3 846.3 388.4 850.7 390.3 851.9 392.2 851.1 392.9 850.1M413.3 848.2 414.1 846.3 413.2 845.7 411.3 845.7 410.9 846.3 411.3 847.6 412.5 848.2 413.2 849.6 413.3 848.2M317.7 861.7 315.8 861.1 314.0 859.7 310.1 855.7 308.2 853.0 307.1 848.2 308.2 846.3 312.0 849.2 313.9 850.1 314.8 852.1 314.2 854.0 315.3 855.9 319.6 859.7 318.1 861.6 317.7 861.7M455.2 902.0 453.3 901.1 451.4 901.0 449.5 899.7 445.6 896.0 444.3 894.1 443.2 890.2 443.5 888.3 446.3 886.4 445.6 885.9 442.6 880.7 436.1 876.5 432.3 877.0 428.5 875.0 424.6 878.5 423.5 876.9 421.3 875.0 417.0 873.6 415.1 872.5 413.9 871.1 413.0 869.2 413.9 867.3 415.1 866.0 418.9 863.7 419.7 861.6 420.2 855.9 420.8 855.0 422.7 854.3 426.0 854.0 426.7 852.1 425.8 850.1 425.8 848.2 426.5 848.2 428.7 850.1 430.1 852.1 434.2 855.4 436.1 856.2 439.9 856.0 446.4 859.7 449.5 860.8 450.7 861.6 452.4 863.5 451.4 865.9 449.5 866.3 447.6 865.4 445.6 867.3 443.7 867.2 441.8 866.5 436.1 862.9 430.4 862.4 426.5 862.7 425.6 863.5 425.8 865.4 428.5 869.2 434.2 872.0 436.1 871.4 438.0 869.9 441.8 872.1 443.7 872.2 444.7 871.1 445.6 867.4 449.5 869.5 455.2 874.9M295.8 854.0 296.1 852.1 294.8 850.2 290.6 850.1 291.0 852.1 292.9 853.4 294.8 854.3 295.8 854.0M361.6 851.1 361.4 850.1 361.6 850.0 361.6 851.1M242.0 854.0 241.3 852.2 239.4 851.7 239.4 853.1 239.9 854.0 241.3 854.7 242.0 854.0M355.9 852.6 355.4 852.1 355.9 851.8 356.2 852.1 355.9 852.6M390.3 881.4 386.4 881.3 384.9 880.7 383.2 875.0 381.2 873.1 378.8 872.3 376.9 872.4 375.0 871.9 371.8 869.2 370.6 867.3 370.3 865.4 369.6 863.5 365.4 858.8 363.5 858.0 360.8 855.9 361.7 854.0 361.8 852.1 363.5 851.0 365.1 852.1 368.0 855.9 382.6 866.4 386.4 871.4 392.0 876.9 391.7 880.7 390.3 881.4M359.7 854.1 359.0 854.0 361.2 854.0 359.7 854.1M260.4 911.3 256.6 911.8 254.7 911.0 250.9 908.1 249.0 907.6 247.1 907.9 245.1 907.4 243.2 906.5 237.5 900.3 235.9 899.8 235.6 899.2 235.2 899.8 233.7 900.3 231.8 899.8 229.8 897.9 228.9 894.1 227.3 892.2 224.6 890.2 223.3 888.3 221.0 882.6 222.2 881.1 224.1 881.0 228.0 884.9 229.9 885.7 231.8 887.1 235.6 891.5 237.5 892.0 239.1 890.2 239.4 889.1 241.3 889.1 245.1 892.3 245.7 892.2 246.4 890.2 250.5 888.3 251.1 886.4 249.8 882.6 250.9 881.9 252.8 883.2 254.7 883.7 255.5 882.6 256.6 881.9 258.5 882.4 264.2 886.6 270.0 889.5 271.9 889.8 273.8 889.6 275.7 888.4 277.6 888.6 281.4 889.8 282.6 888.3 282.5 886.4 281.2 884.5 279.5 883.4 273.8 881.2 271.5 878.8 268.1 873.6 266.1 872.8 264.2 873.0 263.3 871.1 264.1 869.2 263.0 867.3 260.8 865.4 260.2 863.5 260.4 858.9 262.3 859.3 266.1 861.9 268.7 865.4 268.0 867.3 269.0 869.2 270.0 870.0 270.6 869.2 271.9 868.8 274.0 871.1 274.4 873.1 275.7 874.3 277.1 876.9 279.5 879.9 281.4 881.9 283.3 882.9 285.2 883.4 287.2 884.9 288.3 886.4 292.3 890.2 294.8 895.7 296.7 896.7 298.6 897.1 300.5 898.4 304.2 901.7 304.5 903.6 302.4 905.5 299.5 903.6 294.0 897.9 291.0 896.8 289.1 897.0 287.2 899.9 283.3 898.4 281.4 898.5 280.0 899.8 279.5 901.7 282.1 905.5 283.2 909.3 281.4 910.3 279.3 907.4 277.6 905.9 275.7 904.3 273.8 903.4 271.9 905.3 271.0 909.3 270.0 910.2 268.1 910.0 266.1 908.8 264.2 908.5 262.2 909.3 261.7 911.2 260.4 911.3M361.6 863.7 359.7 862.7 358.6 861.6 357.8 859.4 359.7 859.4 361.6 860.7 362.3 861.6 362.0 863.5 361.6 863.7M250.9 875.1 249.0 876.0 247.1 875.8 239.4 870.8 237.7 869.2 235.1 865.4 234.4 863.5 234.8 861.6 235.6 860.7 238.3 863.5 248.1 871.1 250.0 873.1 250.9 875.1M315.8 863.6 315.5 863.5 315.8 863.6M403.6 864.2 402.7 863.5 403.6 863.0 404.2 863.5 403.6 864.2M317.7 866.2 317.0 865.4 317.7 864.8 318.4 865.4 317.7 866.2M405.5 866.2 404.9 865.4 405.5 865.0 405.9 865.4 405.5 866.2M281.4 869.2 280.4 867.3 281.4 865.9 283.3 867.3 281.4 869.2M455.2 947.2 452.2 943.7 449.5 941.9 445.6 942.5 443.8 941.8 441.8 940.1 439.9 941.3 439.8 941.8 439.6 943.7 440.8 945.6 439.9 946.4 436.7 947.5 436.1 948.7 432.8 941.8 434.3 939.9 432.6 938.0 434.2 936.8 439.9 939.3 441.5 938.0 441.7 936.1 441.1 934.2 438.0 931.2 437.1 932.3 433.7 934.2 433.8 936.1 432.3 937.8 430.4 938.4 428.5 937.9 426.5 936.8 424.2 934.2 426.1 930.3 421.3 926.5 420.4 924.6 422.2 918.9 420.3 915.1 418.9 913.4 415.1 911.3 413.2 915.6 409.4 918.0 405.5 915.3 404.0 913.2 407.0 911.2 406.4 909.3 403.6 906.7 401.7 905.6 399.8 905.6 397.9 903.6 396.0 899.8 397.6 897.9 396.6 894.1 395.5 892.2 396.0 890.5 397.9 892.0 407.1 901.7 411.3 904.8 412.7 903.6 410.6 897.9 413.2 894.1 415.1 894.0 418.9 896.2 424.6 898.8 426.2 897.9 426.6 896.0 427.9 894.1 427.7 892.2 424.6 890.9 420.9 888.3 415.9 882.6 413.2 880.1 411.3 881.4 409.4 881.7 407.5 880.2 406.6 878.8 405.9 873.1 407.2 871.1 407.0 867.3 407.6 867.3 408.2 869.2 408.2 871.1 409.4 871.5 411.5 873.1 415.1 874.2 421.3 882.6 424.0 884.5 426.5 885.8 428.5 886.3 430.4 885.7 432.5 886.4 434.2 888.3 430.4 889.4 428.9 892.2 433.6 896.0 434.6 897.9 434.0 899.8 433.9 901.7 434.5 903.6 437.8 907.4 438.3 909.3 438.0 913.8 436.1 916.7 435.3 915.1 434.2 914.2 432.0 911.2 430.4 908.3 428.5 906.3 426.5 905.0 422.7 904.1 418.9 901.2 417.0 901.0 416.7 901.7 417.3 905.5 418.5 907.4 420.8 910.9 422.7 912.8 424.8 911.2 424.4 909.3 424.6 908.4 426.5 908.9 427.6 911.2 427.4 913.2 428.2 917.0 429.0 918.9 430.4 919.8 434.2 920.4 436.1 921.2 441.8 926.1 447.6 927.0 449.1 928.4 449.8 930.3 449.6 934.2 452.0 938.0 452.3 939.9 453.4 941.8 455.2 943.5M436.1 870.6 435.7 869.2 436.1 868.6 436.8 869.2 436.1 870.6M224.1 875.4 222.2 876.1 220.3 874.9 218.1 871.1 218.4 870.7 220.3 870.9 223.4 873.1 224.1 874.4 225.5 875.0 224.1 875.4M331.7 871.1 331.1 870.3 330.1 871.1 331.1 872.8 331.7 871.1M264.2 879.3 262.3 879.1 260.4 878.3 258.5 877.0 256.6 875.0 258.5 873.8 260.4 874.7 264.2 875.6 265.1 876.9 265.4 878.8 264.2 879.3M309.0 888.3 310.2 886.4 308.2 885.1 305.0 880.7 302.4 879.7 300.5 879.6 299.9 878.8 298.6 878.1 297.7 876.9 294.8 874.6 292.9 873.8 291.2 875.0 292.4 878.8 294.8 881.2 296.7 881.3 298.6 880.9 300.5 881.3 303.8 884.5 305.0 886.4 304.3 887.5 303.0 888.3 304.3 889.6 306.2 888.6 308.2 888.7 309.0 888.3M179.0 876.9 178.3 876.2 177.6 876.9 178.3 877.8 179.0 876.9M326.4 888.3 326.7 886.4 328.7 882.6 328.9 880.7 323.4 877.0 322.0 878.8 322.6 882.6 321.5 883.3 319.6 881.9 317.7 881.3 315.8 881.2 315.5 880.7 313.9 880.2 310.1 875.9 308.2 875.3 307.1 876.9 307.7 878.8 309.7 880.7 312.0 881.9 315.8 883.0 323.4 888.6 325.3 889.2 326.4 888.3M399.8 951.2 397.9 951.0 396.0 949.6 394.7 947.5 394.6 945.6 396.8 943.7 396.5 941.8 395.2 938.0 396.0 936.3 397.9 936.3 399.3 938.0 401.7 939.9 403.6 940.6 404.6 939.9 403.6 938.0 398.1 934.2 395.9 930.3 392.2 927.1 391.1 926.5 390.3 925.4 388.4 924.3 384.5 920.2 380.7 914.6 378.8 913.6 376.9 914.5 376.8 915.1 377.8 917.0 382.6 922.1 384.5 922.9 386.4 923.1 388.2 924.6 389.3 926.5 387.7 928.4 388.1 932.3 386.4 932.6 380.7 929.6 376.9 929.2 371.1 922.7 370.5 920.8 370.7 918.9 369.3 915.1 369.7 911.2 368.3 909.3 365.4 907.3 359.7 905.0 357.8 903.8 354.0 900.0 352.1 898.9 350.2 898.6 348.3 897.3 346.8 894.1 347.0 892.2 346.3 891.6 345.8 890.2 342.4 886.4 342.5 885.6 343.6 884.5 344.4 882.6 343.3 878.8 344.4 877.9 348.3 879.3 350.2 878.1 352.1 878.0 354.0 878.4 357.8 880.4 360.2 882.6 361.7 884.5 359.7 886.0 357.8 885.8 354.0 886.3 352.2 884.5 350.2 883.3 348.3 883.4 347.1 884.5 347.8 886.4 350.7 890.2 352.1 891.2 354.0 891.3 355.9 890.7 357.8 890.8 363.0 896.0 361.6 897.8 359.7 898.4 358.2 899.8 359.7 900.9 361.6 901.2 365.4 900.4 367.4 900.9 368.0 901.7 371.2 903.6 375.0 904.1 380.7 903.9 382.6 903.0 383.3 901.7 383.3 899.8 384.5 898.1 386.4 898.1 391.0 903.6 391.9 905.5 391.6 907.4 394.9 913.2 394.1 914.0 392.2 914.0 386.4 911.3 384.5 911.1 384.1 911.2 383.6 913.2 385.4 915.1 388.4 917.5 392.2 919.7 396.0 923.3 397.9 921.3 401.7 919.6 405.5 919.2 407.5 919.4 409.4 920.1 410.8 922.7 409.4 924.5 407.5 923.8 405.5 925.6 404.8 926.5 404.1 930.3 403.3 932.3 405.5 935.0 407.5 936.2 409.4 938.2 415.6 945.6 413.2 947.4 411.3 947.8 409.4 946.9 407.5 946.9 406.9 947.5 405.5 947.9 401.7 946.8 400.8 947.5 401.1 949.4 399.8 951.2M455.2 877.9 453.3 879.0 449.5 878.5 448.0 878.8 446.8 880.7 447.7 884.5 447.8 886.4 449.0 888.3 453.2 892.2 454.9 894.1 455.2 894.9M172.8 882.6 174.5 881.6 174.9 880.7 174.5 880.1 172.5 882.6 172.8 882.6M184.4 882.6 182.1 880.8 180.1 880.7 180.8 882.6 182.1 883.4 184.0 883.2 184.4 882.6M210.8 886.7 208.9 886.2 205.9 884.5 203.0 880.7 203.1 879.3 207.0 880.8 208.9 882.2 212.3 886.4 210.8 886.7M409.4 890.2 407.5 889.4 405.5 887.7 404.7 886.4 404.4 884.5 405.5 881.6 406.5 882.6 407.5 883.0 410.5 886.4 411.2 888.3 409.4 890.2M233.7 885.4 232.5 884.5 233.7 883.4 234.6 884.5 233.7 885.4M235.6 886.5 235.6 886.5M355.9 888.4 355.9 888.1 355.9 888.4M382.6 891.7 380.8 890.2 380.1 888.3 380.7 887.9 383.0 888.3 384.2 890.2 382.6 891.7M186.5 896.0 187.3 894.1 187.4 892.2 186.3 890.2 184.0 889.4 182.1 889.9 181.8 890.2 182.3 892.2 183.7 894.1 186.0 896.1 186.5 896.0M373.1 897.4 371.2 897.1 369.3 895.8 366.6 892.2 366.3 890.2 367.4 889.4 369.3 890.3 373.4 894.1 374.6 896.0 373.1 897.4M207.7 964.7 208.9 962.3 211.9 960.9 211.3 959.0 207.0 956.5 205.0 956.0 200.0 953.3 195.5 949.7 193.6 950.4 191.7 950.0 189.8 948.2 187.9 947.3 186.0 946.9 182.1 941.6 180.2 940.3 178.3 941.8 176.4 941.1 174.8 939.9 173.4 938.0 173.5 934.2 174.3 932.3 178.3 933.6 180.2 932.3 179.9 930.3 180.2 929.9 182.1 930.8 184.0 932.3 189.8 940.0 192.0 941.8 193.6 943.7 193.3 945.6 193.6 947.9 195.5 948.2 195.7 947.5 197.4 947.3 203.1 950.7 204.9 949.4 205.0 946.7 210.8 949.3 213.2 953.3 216.5 956.0 218.4 956.5 222.2 955.0 226.1 954.7 229.9 955.6 231.8 955.5 233.7 954.7 235.6 952.6 236.9 949.4 236.8 947.5 236.1 945.6 235.6 944.7 233.7 943.2 231.8 943.1 224.1 944.5 222.6 943.7 222.7 939.9 223.7 938.0 223.6 936.1 214.6 929.3 208.9 926.9 207.7 928.4 208.2 930.3 207.0 932.1 203.1 931.0 201.8 932.3 201.2 934.1 199.3 933.5 197.8 934.2 197.4 934.8 195.5 935.3 194.7 934.2 194.8 932.3 195.5 931.8 196.5 930.3 196.0 928.4 194.5 926.5 193.7 924.6 193.9 922.7 195.5 922.3 197.4 923.3 199.3 923.4 203.1 921.6 205.0 922.2 207.0 921.9 208.1 920.8 207.5 917.0 207.9 915.1 208.9 914.7 212.4 917.0 214.6 919.8 216.5 921.1 217.4 918.9 217.6 917.0 214.6 915.5 212.7 914.0 207.0 908.9 205.0 907.9 203.1 909.3 201.2 908.9 197.4 906.3 195.5 906.9 194.8 907.4 197.4 912.5 198.2 913.2 193.6 915.8 191.7 914.4 189.5 911.2 190.7 907.4 190.5 905.5 189.4 903.6 187.9 901.5 185.8 899.8 180.2 895.9 174.5 895.3 172.6 893.9 170.7 893.6 168.3 894.1 168.5 896.0 170.7 898.9 174.5 899.6 176.4 900.6 176.9 901.7 180.9 905.5 180.2 906.2 178.3 906.0 176.4 905.6 174.5 904.6 172.6 904.7 172.5 905.5 174.1 909.3 176.4 911.8 183.3 915.1 185.9 917.0 186.3 918.9 186.0 920.0 184.0 920.7 180.2 916.6 178.3 915.1 176.4 914.1 174.5 913.8 172.6 912.7 170.7 912.8 170.4 913.2 170.7 913.8 172.6 915.3 174.5 916.0 175.2 917.0 176.7 920.8 176.6 922.7 176.4 923.0 174.5 922.1 172.6 920.0 170.9 920.8 170.7 922.8 168.8 922.9 166.9 923.6 165.9 924.6 166.9 925.1 169.9 928.4 168.8 929.3 164.9 929.0 161.1 927.4 159.9 926.5 161.1 925.0 163.0 924.3 163.6 922.7 161.1 921.7 159.2 921.5 155.4 919.3 153.5 919.2 151.6 920.0 147.8 919.9 145.9 922.4 144.2 920.8 142.0 919.6 140.1 919.1 138.2 919.0 136.3 920.0 134.4 921.8 132.5 921.8 130.6 923.2 125.3 928.4 127.0 930.3 128.7 931.1 130.6 931.5 132.5 931.3 134.4 932.2 137.1 934.2 138.2 935.1 142.2 939.9 142.8 941.8 143.9 942.3 145.3 943.7 147.8 945.3 151.6 945.1 157.3 948.3 161.1 948.9 166.9 951.7 168.8 950.0 174.5 951.1 177.8 955.2 180.1 957.1 183.6 960.9 184.0 961.2 186.3 960.9 188.1 959.0 176.4 950.1 174.7 947.5 174.5 946.4 168.8 946.8 167.2 947.5 166.9 949.3 163.0 946.8 159.2 943.4 152.4 939.9 149.7 937.6 146.8 934.2 146.3 932.3 148.4 930.3 149.0 928.4 147.8 926.5 146.0 922.7 147.8 921.2 150.6 924.6 152.0 928.4 153.5 929.5 161.1 933.2 163.0 933.6 164.9 933.2 166.9 934.0 169.0 936.1 171.7 939.9 173.0 941.8 174.5 945.2 178.3 945.5 182.1 946.8 184.0 947.0 186.0 948.2 187.7 951.3 189.6 953.3 193.6 954.7 197.8 957.1 199.3 958.7 201.2 962.1 203.1 964.5 205.0 965.1 207.7 964.7M234.0 894.1 233.7 893.8 233.5 894.1 233.7 894.3 234.0 894.1M256.0 901.7 255.7 899.8 253.6 897.9 250.9 896.4 249.0 895.9 252.8 901.3 254.7 902.5 256.0 901.7M266.4 899.8 264.2 897.3 263.8 897.9 264.2 898.7 265.3 899.8 266.1 900.2 266.4 899.8M455.2 897.0 454.8 897.9 455.2 898.5M155.6 915.1 155.1 913.2 155.8 911.2 157.3 910.9 161.1 912.1 162.4 911.2 163.4 907.4 163.0 906.7 161.1 905.0 159.2 906.0 157.3 905.3 154.7 903.6 153.5 901.4 150.9 903.6 152.5 905.5 151.6 907.0 149.7 907.0 147.8 906.4 146.8 907.4 146.7 909.3 148.4 911.2 153.5 914.9 155.4 915.9 155.6 915.1M201.8 903.6 199.3 901.7 197.4 901.4 196.2 901.7 197.4 904.4 199.3 905.4 201.2 904.8 201.8 903.6M342.5 902.7 342.5 901.6 342.8 901.7 342.5 902.7M443.7 910.1 441.8 909.3 440.1 905.5 437.8 901.7 438.0 900.8 439.9 900.7 442.9 903.6 443.5 905.5 442.6 907.4 444.7 909.3 443.7 910.1M217.9 909.3 217.1 907.4 212.7 903.3 210.8 902.8 209.2 903.6 209.5 905.5 210.7 907.4 212.7 909.2 214.6 910.4 216.5 910.5 217.9 909.3M355.9 921.3 354.0 922.0 352.1 921.9 349.1 918.9 348.3 918.6 346.3 919.3 346.0 918.9 344.4 918.4 342.5 916.5 341.7 915.1 341.0 911.2 342.5 910.3 344.4 910.5 350.2 915.1 352.1 916.2 353.2 915.1 350.2 910.8 348.3 909.0 345.6 907.4 343.6 905.5 342.7 903.6 344.4 902.4 344.9 903.6 348.3 906.9 350.2 907.3 352.1 906.3 354.0 907.2 355.9 909.8 358.1 911.2 358.9 913.2 355.9 916.4 354.4 917.0 355.9 917.9 357.0 920.8 355.9 921.3M455.2 934.7 454.3 932.3 453.8 928.4 455.0 926.5 454.2 924.6 448.7 915.1 445.0 911.2 446.4 909.3 445.8 905.5 449.5 902.5 451.4 903.4 453.3 906.0 455.2 907.3M319.7 905.5 319.7 905.5M182.1 907.6 181.8 907.4 182.1 907.1 182.5 907.4 182.1 907.6M229.9 917.0 231.8 913.2 234.2 913.2 231.8 910.7 229.9 912.1 228.0 911.7 222.2 909.0 220.3 908.6 219.1 909.3 220.3 910.1 226.1 916.8 228.0 917.6 229.9 917.0M283.3 911.3 283.0 911.2 283.3 909.7 284.1 911.2 283.3 911.3M296.7 919.0 294.8 918.3 292.9 916.9 291.0 917.6 289.1 916.1 286.0 913.2 287.2 911.2 289.1 910.2 292.9 910.4 297.6 915.1 298.4 917.0 296.7 919.0M144.6 917.0 143.4 915.1 142.0 913.6 140.1 913.6 138.7 915.1 140.1 917.1 143.9 917.6 144.6 917.0M247.1 920.3 245.1 918.9 243.7 917.0 242.8 915.1 243.2 914.0 245.1 913.3 247.1 913.7 249.4 915.1 249.5 917.0 248.8 918.9 247.1 920.3M323.4 923.8 321.5 924.1 317.7 920.8 315.8 919.9 313.9 919.7 312.0 919.0 308.2 919.2 304.5 915.1 306.2 914.2 309.5 917.0 310.1 918.5 312.0 918.5 312.7 917.0 315.8 914.6 317.7 914.6 321.5 916.0 323.4 915.6 325.3 916.4 326.9 918.9 325.3 919.4 324.1 920.8 323.9 922.7 323.4 923.8M438.0 918.3 436.2 917.0 438.0 915.6 439.1 917.0 438.0 918.3M392.2 976.9 390.3 977.9 384.5 975.7 382.6 975.9 380.7 975.5 378.8 974.3 376.9 972.0 375.0 972.3 374.4 974.3 373.1 976.7 371.2 975.6 365.7 970.4 363.4 966.6 363.5 966.2 365.4 965.4 367.4 965.9 369.2 964.7 367.7 962.8 363.5 960.6 361.6 958.9 360.4 957.1 357.8 954.4 355.9 953.1 352.1 952.0 349.0 949.4 348.3 948.2 347.8 949.4 348.3 951.0 352.1 954.6 353.8 957.1 354.2 959.0 352.1 960.4 348.3 960.8 346.3 960.0 342.9 955.2 339.1 951.3 337.5 947.5 334.7 945.6 333.0 945.0 331.6 945.6 331.5 947.5 332.0 949.4 331.8 951.3 331.1 951.7 329.2 950.7 327.5 949.4 326.0 947.5 325.8 943.7 323.4 939.4 319.6 937.0 319.1 936.1 313.9 931.7 312.6 930.3 312.1 928.4 313.9 928.0 315.8 928.4 317.7 928.3 319.6 926.6 321.5 926.9 323.2 928.4 324.4 930.3 323.6 932.3 323.8 934.2 325.3 935.7 329.2 936.3 336.8 940.7 338.5 939.9 339.3 934.2 333.1 926.5 330.7 922.7 331.9 920.8 333.0 920.5 334.9 920.1 339.1 920.8 340.6 917.4 344.4 919.8 348.0 922.7 346.3 923.8 342.5 923.7 341.9 924.6 342.4 926.5 342.5 928.5 344.4 929.6 348.3 930.7 350.1 930.3 350.2 929.9 352.1 929.0 353.3 930.3 351.9 932.3 350.7 936.1 350.2 936.7 347.7 938.0 352.1 940.9 355.2 943.7 358.7 949.4 361.6 951.3 365.4 953.0 367.4 953.0 369.2 951.3 370.2 949.4 371.2 948.5 373.1 948.6 376.9 950.3 378.3 949.4 377.9 947.5 375.0 944.0 373.1 942.5 367.7 939.9 363.5 936.8 359.0 934.2 357.9 932.3 358.4 930.3 359.7 929.7 363.5 931.7 365.4 931.7 366.4 930.3 367.4 929.7 369.3 929.5 371.9 930.3 374.5 932.3 376.9 936.3 378.8 938.4 380.7 939.1 382.0 938.0 382.6 936.0 384.5 936.8 386.2 938.0 386.5 939.9 385.7 941.8 387.2 947.5 392.2 952.6 393.4 953.3 392.2 953.8 390.3 953.7 388.4 954.6 387.8 955.2 388.4 957.1 390.2 959.0 394.9 962.8 395.7 964.7 395.0 966.6 394.1 967.2 392.2 967.1 384.5 964.0 384.5 964.7 386.4 968.9 390.3 971.7 392.3 974.3 392.2 976.9M439.9 919.2 438.8 918.9 439.9 918.1 440.9 918.9 439.9 919.2M281.6 930.3 280.8 928.4 273.8 920.7 271.9 919.8 270.0 919.7 268.2 920.8 269.4 922.7 273.8 925.9 277.6 930.2 279.5 930.9 281.6 930.3M443.7 920.9 444.6 920.8 443.7 920.9M184.0 922.8 184.0 922.3 184.0 922.8M445.6 923.0 445.6 921.4 446.4 922.7 445.6 923.0M172.6 924.8 172.6 924.5 172.6 924.8M186.0 924.6 186.0 924.6M226.1 934.2 228.0 930.8 229.9 931.4 230.3 930.3 230.5 926.5 229.9 924.6 228.0 923.9 227.4 924.6 226.9 926.5 227.1 930.3 226.1 930.7 224.1 929.6 222.2 929.2 221.6 930.3 224.1 934.0 226.1 934.2M348.3 924.6 348.3 924.6M447.6 924.7 447.6 924.7M449.5 926.8 449.5 926.3 450.0 926.5 449.5 926.8M110.2 980.0 111.5 978.0 111.9 976.2 114.5 974.3 114.5 972.4 112.7 970.4 109.4 968.5 107.4 966.6 107.5 964.7 109.7 962.8 112.9 960.9 113.4 959.0 110.9 955.2 113.4 952.3 115.2 951.3 115.3 949.3 115.5 951.3 117.3 953.3 116.0 957.1 115.9 959.0 117.2 960.6 119.1 962.1 121.0 962.1 123.0 962.8 125.6 966.6 128.7 970.2 129.3 970.4 130.6 971.8 132.5 970.8 138.2 971.0 139.1 970.4 140.1 968.9 142.0 969.0 145.9 971.9 147.8 972.5 149.7 972.2 150.9 970.4 145.9 963.3 143.9 961.3 143.0 960.9 140.2 957.1 138.2 956.8 134.4 957.3 122.9 951.8 120.6 949.4 120.1 947.5 121.0 945.8 122.9 946.0 128.7 950.3 130.6 949.7 132.5 947.6 134.4 947.8 136.3 948.4 137.9 949.4 142.0 954.3 147.8 958.7 149.7 959.6 151.6 959.2 152.1 957.1 149.7 953.4 143.9 951.3 142.0 949.4 140.9 945.6 141.9 943.7 141.8 941.8 140.1 940.5 138.2 939.3 136.3 939.1 134.4 939.5 130.6 938.2 128.7 938.0 128.2 939.9 128.9 941.8 128.7 942.5 126.8 942.7 124.8 941.3 123.7 939.9 123.5 938.0 124.5 936.1 122.9 932.1 121.0 932.8 119.7 934.2 119.4 936.1 115.3 938.4 113.8 939.9 113.4 941.1 112.7 941.8 114.4 947.5 113.4 948.1 111.5 946.9 107.7 946.0 104.6 949.4 106.0 951.3 105.8 952.2 103.8 952.3 101.9 951.8 98.5 955.2 98.7 957.1 98.1 959.7 97.9 959.0 96.2 958.0 91.0 962.8 87.6 966.6 85.3 968.5 83.5 970.4 82.4 972.4 80.9 972.9 77.5 976.2 77.5 980.0M208.9 932.4 208.2 932.3 208.9 932.1 208.9 932.4M354.0 932.3 352.9 932.3 354.0 932.0 354.3 932.3 354.0 932.3M308.2 935.4 308.2 933.9 308.4 934.2 308.2 935.4M159.4 938.0 157.3 935.6 156.8 936.1 157.3 938.1 159.2 938.4 159.4 938.0M205.0 937.2 204.3 936.1 205.0 935.7 206.7 936.1 205.0 937.2M367.8 936.1 367.4 935.7 366.9 936.1 367.4 936.5 367.8 936.1M210.8 943.0 208.9 942.3 205.3 938.0 207.0 936.1 210.8 936.7 211.6 938.0 212.2 939.9 211.9 941.8 210.8 943.0M199.3 940.5 198.8 939.9 199.3 939.5 200.6 939.9 199.3 940.5M289.2 949.4 289.3 947.5 288.7 945.6 289.1 945.2 294.8 946.3 298.6 946.2 300.5 947.7 301.0 947.5 295.8 941.8 289.1 938.6 287.2 939.3 286.7 939.9 286.9 941.8 285.2 942.4 281.4 940.3 279.5 939.7 278.9 939.9 279.2 941.8 280.7 943.7 281.1 945.6 281.0 947.5 282.0 949.4 283.3 950.4 285.2 950.6 289.2 949.4M420.8 941.6 419.9 939.9 420.8 938.8 422.5 939.9 420.8 941.6M203.1 944.5 200.0 941.8 201.2 940.1 203.5 941.8 204.2 943.7 203.1 944.5M301.2 980.0 300.2 978.1 294.8 974.3 291.0 969.8 289.1 968.7 287.1 968.5 286.6 970.4 286.7 972.4 285.2 973.2 281.7 970.4 279.1 966.6 277.2 964.7 273.8 962.8 266.1 959.6 265.9 960.9 266.9 964.7 266.1 965.2 265.4 964.7 264.2 963.8 262.1 960.9 263.1 957.1 262.3 956.7 257.7 949.4 254.7 947.0 249.4 943.7 245.1 941.6 243.2 941.1 242.9 941.8 244.1 943.7 245.1 946.9 247.1 948.9 249.0 947.7 250.9 947.4 252.8 948.3 254.0 949.4 255.5 951.3 255.8 955.2 257.7 959.0 256.6 960.1 254.7 959.9 252.8 959.1 251.6 955.2 250.1 953.3 249.0 952.0 247.1 951.6 245.6 953.3 245.3 957.1 244.8 959.0 245.1 959.8 247.1 961.5 248.6 964.7 250.9 967.1 252.8 968.0 254.7 967.8 256.6 968.2 261.3 970.4 267.9 976.2 264.2 977.8 263.8 980.0M304.6 941.8 302.4 940.0 302.4 941.9 304.3 942.3 304.6 941.8M401.6 980.0 398.1 972.4 399.8 971.2 402.1 970.4 403.6 966.9 405.3 968.5 407.5 968.8 407.8 968.5 405.5 968.3 402.0 964.7 401.4 960.9 403.1 959.0 405.5 958.5 407.5 957.4 409.1 955.2 411.3 954.8 413.2 956.6 414.1 960.9 415.1 962.6 418.9 964.2 422.7 966.7 423.5 966.6 424.6 965.7 424.7 960.9 423.8 959.0 417.0 953.7 415.7 953.3 418.8 949.4 418.1 947.5 418.2 945.6 422.3 943.7 421.0 941.8 422.7 940.1 424.2 941.8 424.9 943.7 423.6 945.6 427.1 951.3 428.5 953.2 430.4 954.8 433.2 955.2 436.8 957.1 436.1 959.0 436.5 960.9 439.9 963.9 441.8 965.2 445.6 966.1 447.2 964.7 446.0 962.8 445.4 960.9 445.6 960.1 447.6 958.7 449.5 960.5 451.3 964.7 451.4 966.6 452.6 968.5 455.2 970.9M222.2 945.8 221.9 945.6 222.2 944.2 222.9 945.6 222.2 945.8M443.7 948.7 442.1 947.5 443.7 947.2 444.5 947.5 443.7 948.7M289.3 962.8 289.3 960.9 287.2 958.0 285.2 956.4 283.3 956.7 281.4 958.3 278.2 955.2 277.4 953.3 275.7 950.8 273.8 949.3 271.8 949.4 273.8 953.2 279.5 959.2 281.4 959.5 283.3 959.3 289.1 963.0 289.3 962.8M415.1 952.9 413.1 951.3 412.7 949.4 413.2 947.8 413.8 949.4 416.9 951.3 415.1 952.9M445.6 950.8 444.1 949.4 445.6 948.2 447.0 949.4 445.6 950.8M152.2 951.3 151.6 950.4 150.6 951.3 151.6 952.2 152.2 951.3M308.2 970.4 310.1 966.6 307.7 960.9 307.3 959.0 308.2 958.5 310.1 959.8 312.0 959.9 313.0 959.0 313.5 955.2 312.7 953.3 310.1 951.0 308.2 950.6 306.9 951.3 307.3 953.3 307.0 955.2 306.2 956.9 302.4 954.2 300.5 953.6 298.7 955.2 298.4 959.0 299.5 960.9 301.2 962.8 302.1 964.7 300.6 966.6 300.3 968.5 301.8 970.4 304.3 972.0 306.2 971.6 308.2 970.4M455.2 958.5 451.4 958.3 449.5 957.6 446.3 951.3 447.6 950.1 449.5 951.9 451.4 952.5 455.2 952.2M179.1 980.0 176.3 976.2 176.6 974.3 178.5 972.4 179.0 970.4 178.7 968.5 175.9 962.8 174.5 960.9 170.7 957.8 166.9 955.7 164.9 955.1 163.2 957.1 166.9 959.7 170.0 962.8 171.2 964.7 170.7 966.0 168.8 965.8 164.9 963.7 163.0 961.7 161.7 960.9 161.1 959.6 159.2 961.9 159.0 962.8 160.5 964.7 166.9 967.7 167.9 968.5 169.3 970.4 171.1 974.3 172.0 978.1 173.3 980.0M323.7 959.0 321.5 956.8 318.1 955.2 317.4 955.2 318.4 957.1 321.5 959.8 323.4 959.9 323.7 959.0M383.6 960.9 383.9 959.0 385.1 957.1 384.3 955.2 382.6 954.4 380.7 955.6 378.8 955.9 377.2 957.1 378.5 959.0 380.5 960.9 382.6 962.2 383.6 960.9M160.1 957.1 159.2 956.6 158.4 957.1 159.2 957.9 160.1 957.1M336.8 958.6 336.3 957.1 336.8 957.0 336.8 958.6M434.6 959.0 432.3 958.4 430.4 956.7 430.1 957.1 432.3 959.2 434.6 959.0M226.7 968.5 227.6 966.6 227.7 964.7 226.8 962.8 226.1 961.8 224.1 960.6 222.2 961.0 219.7 964.7 219.5 966.6 222.2 969.1 224.1 969.8 226.1 969.3 226.7 968.5M100.0 978.1 98.1 976.4 97.7 974.3 96.2 972.7 94.3 971.0 92.2 970.4 93.6 968.5 96.2 967.8 98.1 966.6 97.9 964.7 97.3 962.8 98.1 961.7 103.0 966.6 104.1 968.5 106.3 974.3 106.3 976.2 105.8 977.7 103.8 976.5 101.9 976.0 101.4 976.2 100.0 978.1M119.1 966.6 119.4 964.7 119.1 964.1 118.7 964.7 119.1 966.6M357.8 980.0 355.9 977.6 352.1 977.7 350.2 975.9 348.3 972.4 346.5 970.4 346.3 969.8 346.0 972.4 347.2 974.3 347.3 976.2 346.3 976.3 344.4 975.9 342.8 976.2 342.5 976.9 340.6 974.4 340.0 968.5 340.6 966.7 344.4 968.5 346.3 967.0 346.7 964.7 348.3 964.1 352.1 966.9 355.9 969.0 357.5 970.4 357.9 972.4 358.1 976.2 359.7 977.1 361.6 975.9 363.5 972.5 365.4 973.6 365.9 974.3 366.2 978.1 366.9 980.0M158.6 970.4 158.2 968.5 155.4 965.7 154.0 966.6 154.5 968.5 155.4 970.1 157.3 972.3 158.6 970.4M213.5 968.5 210.8 966.6 212.7 968.9 213.5 968.5M445.6 980.0 443.7 977.8 441.8 974.3 441.6 972.4 443.1 970.4 441.8 967.9 439.9 967.7 439.4 968.5 439.2 970.4 438.0 971.1 434.2 971.3 430.4 972.7 427.3 974.3 426.5 975.5 422.7 971.3 418.1 968.5 417.0 967.4 412.8 970.4 414.7 972.4 418.9 975.6 420.8 976.2 416.2 978.1 416.8 980.0M260.3 980.0 256.8 976.2 255.5 974.3 254.7 972.0 253.0 970.4 252.8 969.9 250.9 972.4 249.0 972.4 247.1 971.1 245.1 970.3 239.4 975.3 233.7 974.3 231.8 974.9 230.1 976.2 228.8 978.1 228.8 980.0M334.9 976.6 333.0 976.5 329.2 974.8 326.4 972.4 325.7 970.4 327.3 969.7 329.2 970.0 331.1 971.1 334.3 974.3 335.5 976.2 334.9 976.6M141.1 980.0 139.2 978.1 134.4 976.1 131.8 974.3 130.6 972.9 129.1 974.3 128.7 975.1 126.8 975.0 126.2 974.3 122.9 972.1 121.0 971.5 120.3 972.4 120.2 974.3 121.0 975.9 127.2 980.0M218.2 980.0 214.6 977.5 212.7 976.8 211.4 978.1 210.8 979.5 208.9 978.8 205.6 976.2 201.2 971.5 199.8 972.4 201.2 974.3 206.8 980.0M84.7 975.7 84.5 974.3 84.7 973.7 85.4 974.3 84.7 975.7M168.7 980.0 159.4 974.3 159.2 973.8 155.7 978.1 155.8 980.0M86.0 980.0 84.8 976.2 86.7 974.6 88.6 975.6 90.5 977.9 90.7 980.0M410.3 978.1 409.4 976.7 407.5 975.8 407.5 976.9 408.3 978.1 409.4 978.8 410.3 978.1M188.3 980.0 187.8 978.1 186.0 977.1 184.0 976.7 182.7 978.1 182.4 980.0M279.1 980.0 279.0 978.1 279.5 977.3 281.4 978.2 283.0 980.0M311.1 980.0 308.2 977.6 307.6 978.1 307.7 980.0M318.4 980.0 317.7 977.3 315.8 976.7 315.1 978.1 314.8 980.0M424.6 978.3 422.7 979.1 420.1 978.1 420.8 976.2 424.7 978.1 424.6 978.3M105.5 980.0 105.8 978.8 107.7 979.0 109.0 980.0M289.3 980.0 291.0 979.2 292.9 980.0" stroke="#45c0c0"/>
<path d="M438.0 629.6 437.3 628.6 436.1 628.1 433.6 624.8 433.6 622.9 434.2 622.5 436.1 623.3 437.4 624.8 438.3 626.7 438.0 629.6M384.5 690.8 384.2 689.7 384.5 687.1 385.5 689.7 384.5 690.8M386.4 691.8 386.0 691.7 386.4 691.2 386.4 691.8M426.5 696.4 424.6 695.5 423.6 693.6 424.6 692.9 425.8 693.6 427.6 695.5 426.5 696.4M424.6 710.8 424.6 710.8M371.2 719.0 371.2 718.3 371.2 719.0M373.1 721.7 371.4 720.3 373.1 719.2 374.4 720.3 373.1 721.7M375.0 723.3 373.8 722.2 375.0 721.1 375.8 722.2 375.0 723.3M352.1 749.4 350.2 748.9 352.1 748.7 352.1 749.4M376.9 778.1 376.6 777.6 376.9 777.5 376.9 778.1M378.8 779.7 378.1 779.5 378.8 779.3 378.8 779.7M289.1 791.0 288.8 789.0 289.1 788.8 289.1 791.0M285.2 792.5 283.3 791.4 283.0 791.0 283.3 790.6 285.7 791.0 285.2 792.5M422.7 792.0 421.8 791.0 423.3 791.0 422.7 792.0M424.6 793.2 423.4 792.9 424.6 792.1 425.3 792.9 424.6 793.2M428.5 804.9 428.1 804.3 428.5 804.1 428.5 804.9M252.8 806.2 252.8 806.2M315.8 808.4 315.8 807.2 316.5 808.1 315.8 808.4M304.3 819.7 302.4 819.2 301.8 817.7 301.7 815.8 301.1 813.9 302.4 813.2 303.7 813.9 304.8 815.8 304.3 819.7M237.5 827.5 235.6 828.0 233.7 827.4 231.4 825.3 230.2 823.4 233.7 819.9 234.7 819.6 235.6 818.7 237.5 818.8 238.9 817.7 239.5 815.8 241.3 814.2 243.2 814.1 245.1 815.0 247.1 817.1 248.6 819.6 248.9 823.4 247.1 824.9 241.3 825.2 237.5 827.5M262.3 825.7 260.4 824.6 259.4 823.4 262.3 822.3 263.5 823.4 262.9 825.3 262.3 825.7M331.1 839.2 329.2 839.1 327.3 837.9 323.4 836.6 321.5 834.9 320.6 833.0 321.5 832.3 329.2 835.5 330.7 836.8 331.5 838.7 331.1 839.2M212.7 848.6 210.8 849.1 207.0 848.5 206.8 848.2 208.9 846.0 210.8 846.5 212.8 848.2 212.7 848.6M252.8 869.3 252.8 869.1 252.8 869.3M420.8 871.6 418.7 871.1 418.4 869.2 419.4 869.2 420.8 870.1 421.5 871.1 420.8 871.6M396.0 876.7 393.9 875.0 393.6 873.1 394.1 872.4 396.0 873.6 396.8 875.0 396.0 876.7M289.1 880.7 285.0 876.9 285.2 876.3 287.2 875.7 288.8 876.9 289.6 878.8 289.1 880.7M296.7 887.2 295.1 886.4 296.7 885.9 297.3 886.4 296.7 887.2M172.6 889.2 171.9 888.3 172.6 887.8 173.9 888.3 172.6 889.2M176.4 890.9 174.5 891.0 173.3 890.2 174.5 888.7 176.8 890.2 176.4 890.9M168.8 907.3 166.6 905.5 166.9 903.5 168.8 904.6 169.3 905.5 168.8 907.3M252.8 905.8 252.8 905.3 253.8 905.5 252.8 905.8M254.7 907.9 253.9 907.4 254.7 905.9 255.8 907.4 254.7 907.9M224.1 921.1 222.2 922.5 222.2 920.6 224.1 920.7 224.1 921.1M235.6 927.9 233.7 927.9 232.5 926.5 232.4 924.6 233.7 923.3 235.6 923.7 236.6 924.6 237.1 926.5 235.6 927.9M271.9 930.4 270.0 929.9 267.2 928.4 266.1 926.5 268.1 925.6 270.2 926.5 272.4 928.4 271.9 930.4M252.8 928.6 252.8 927.4 253.2 928.4 252.8 928.6M430.4 930.2 429.2 928.4 430.4 927.7 431.3 928.4 430.4 930.2M432.3 930.8 430.6 930.3 432.3 929.6 432.7 930.3 432.3 930.8M128.7 934.4 128.3 934.2 129.3 934.2 128.7 934.4M247.1 940.8 245.1 940.2 242.5 938.0 240.6 936.1 240.1 934.2 241.3 933.6 243.2 933.6 245.1 935.3 247.9 939.9 247.1 940.8M224.3 980.0 222.4 978.1 222.9 976.2 221.6 974.3 217.7 970.4 217.1 968.5 218.4 967.2 222.2 969.7 224.1 970.3 226.1 969.9 227.3 968.5 228.1 966.6 228.3 964.7 227.6 962.8 225.1 959.0 226.1 957.3 228.0 956.6 231.8 956.5 233.7 955.7 236.0 953.3 237.4 949.4 237.4 947.5 236.4 943.7 235.6 942.1 233.7 940.7 232.5 941.8 228.0 942.7 226.1 942.3 225.3 941.8 225.5 939.9 226.4 938.0 228.0 936.6 229.9 936.0 235.6 937.2 241.3 942.6 242.9 945.6 244.1 949.4 244.3 953.3 244.0 955.2 242.2 957.1 242.5 960.9 242.1 962.8 241.3 963.6 239.4 964.6 237.5 965.2 236.1 966.6 236.8 968.5 237.5 969.1 239.4 969.0 241.3 969.7 241.7 970.4 240.8 972.4 237.6 974.3 233.7 973.8 231.8 974.4 229.1 976.2 227.6 978.1 226.7 980.0M210.8 940.7 208.9 940.6 208.2 939.9 208.9 938.3 210.8 938.8 211.2 939.9 210.8 940.7M262.3 941.0 261.5 939.9 262.3 939.2 263.4 939.9 262.3 941.0M365.4 958.0 364.2 957.1 365.8 957.1 365.4 958.0M218.4 964.3 216.5 964.1 215.7 962.8 215.5 960.9 216.5 959.1 218.4 958.5 220.3 959.5 220.9 960.9 220.1 962.8 218.4 964.3M367.4 959.6 365.9 959.0 367.4 958.3 368.7 959.0 367.4 959.6M292.9 961.0 293.1 960.9 292.9 961.0M373.1 965.0 368.5 960.9 369.3 959.5 371.2 960.6 373.5 962.8 374.0 964.7 373.1 965.0M380.7 966.5 378.8 964.7 380.7 964.1 381.3 964.7 380.7 966.5M166.9 975.3 164.3 974.3 162.5 972.4 162.0 970.4 163.0 969.3 164.9 970.2 167.1 972.4 167.7 974.3 166.9 975.3M260.4 977.4 258.5 976.0 256.3 972.4 255.7 970.4 256.6 969.5 259.1 970.4 260.8 972.4 261.9 974.3 261.9 976.2 260.4 977.4M449.5 973.3 447.6 971.9 447.0 970.4 447.6 969.8 450.1 970.4 450.7 972.4 449.5 973.3M447.6 978.7 445.6 977.3 444.9 976.2 445.6 974.4 447.6 974.9 448.5 976.2 449.1 978.1 447.6 978.7" stroke="#45c0c0"/>
<path d="M235.6 827.5 233.7 827.1 231.6 825.3 230.5 823.4 233.7 820.2 235.6 819.4 237.5 819.6 239.4 819.1 240.5 815.8 241.3 815.0 243.2 814.8 245.1 815.9 246.8 817.7 247.9 819.6 248.3 821.5 248.0 823.4 247.1 824.1 245.1 824.6 241.3 824.3 239.4 825.3 237.5 826.9 235.6 827.5M262.3 824.6 260.9 823.4 262.3 822.9 262.9 823.4 262.3 824.6M235.6 927.2 233.7 927.1 233.2 926.5 233.3 924.6 233.7 924.2 235.7 924.6 236.3 926.5 235.6 927.2M243.2 937.1 242.5 936.1 243.2 935.4 244.0 936.1 243.2 937.1M229.9 941.9 227.5 941.8 227.0 939.9 228.0 938.0 229.9 937.6 230.8 938.0 231.8 939.8 229.9 941.9M245.1 938.9 243.9 938.0 245.1 937.0 245.7 938.0 245.1 938.9M262.3 940.0 262.3 940.0M228.0 976.9 226.1 977.7 218.6 970.4 220.3 969.1 224.1 970.6 226.1 970.2 227.6 968.5 228.4 966.6 228.7 964.7 226.5 959.0 228.0 957.7 233.7 956.4 235.6 954.8 236.6 953.3 237.8 949.4 238.0 947.5 237.4 941.8 237.5 941.5 239.4 942.1 241.3 944.1 242.0 945.6 243.7 953.3 243.1 955.2 241.1 957.1 241.6 960.9 240.7 962.8 239.4 963.7 237.0 964.7 235.4 966.6 235.7 968.5 237.5 969.8 239.4 970.0 240.1 970.4 239.3 972.4 237.5 973.4 233.7 973.5 231.8 974.1 228.5 976.2 228.0 976.9M218.4 963.4 217.3 962.8 216.5 960.9 218.4 959.5 220.1 960.9 218.4 963.4M218.4 969.3 218.4 968.3 218.8 968.5 218.4 969.3M260.4 975.9 258.5 975.0 257.3 972.4 258.5 970.9 260.9 974.3 260.4 975.9" stroke="#e8dd28"/>
<path d="M245.1 823.1 243.2 822.8 241.5 821.5 241.1 819.6 241.3 817.7 243.2 816.6 245.1 817.8 246.3 819.6 246.6 821.5 245.1 823.1M237.5 825.6 235.6 826.6 233.7 826.4 232.4 825.3 231.2 823.4 233.7 820.8 235.6 820.3 237.5 821.0 238.5 821.5 239.1 823.4 237.5 825.6M239.4 954.0 238.9 953.3 239.4 950.3 240.7 951.3 240.9 953.3 239.4 954.0M228.0 974.7 226.1 974.4 224.4 972.4 226.1 971.9 228.0 969.9 228.7 968.5 229.7 964.7 229.6 960.9 229.9 960.4 233.7 959.6 235.6 958.6 237.5 958.4 237.9 959.0 238.1 960.9 237.5 961.5 234.8 962.8 234.0 964.7 234.3 968.5 235.3 970.4 235.7 972.4 231.8 973.1 228.0 974.7" stroke="#e8dd28"/>
<path d="M243.2 820.8 242.7 819.6 243.2 818.6 244.7 819.6 243.2 820.8M235.6 825.9 233.7 825.7 231.9 823.4 233.7 821.5 235.6 821.2 236.3 821.5 237.8 823.4 236.5 825.3 235.6 825.9M231.8 971.5 229.9 971.2 229.6 970.4 229.9 968.5 231.8 966.4 233.1 970.4 231.8 971.5" stroke="#e8dd28"/>
<path d="M235.6 824.9 233.7 824.8 232.8 823.4 233.7 822.4 235.6 822.2 236.7 823.4 235.6 824.9" stroke="#e8dd28"/>
<path d="M235.6 823.5 233.8 823.4 235.6 823.5" stroke="#e8dd28"/>
</g>
<path d="M111.5 980v-3.7M111.5 600v3.7 M75.2 943.7h3.7M455.2 943.7h-3.7 M168.8 980v-3.7M168.8 600v3.7 M75.2 886.4h3.7M455.2 886.4h-3.7 M226.1 980v-3.7M226.1 600v3.7 M75.2 829.1h3.7M455.2 829.1h-3.7 M264.2 980v-3.7M264.2 600v3.7 M75.2 791h3.7M455.2 791h-3.7 M302.4 980v-3.7M302.4 600v3.7 M75.2 752.8h3.7M455.2 752.8h-3.7 M359.7 980v-3.7M359.7 600v3.7 M75.2 695.5h3.7M455.2 695.5h-3.7" stroke="#262626" stroke-width="1" fill="none"/>
<rect x="75.2" y="600" width="380.0" height="380.0" stroke="#4a4a4a" stroke-width="1.3" fill="none"/>
<text x="111.5" y="1007.5" font-size="18.6" text-anchor="middle" fill="#262626" >0.02</text>
<text x="66.9" y="950.4" font-size="18.6" text-anchor="end" fill="#262626" >0.02</text>
<text x="168.8" y="1007.5" font-size="18.6" text-anchor="middle" fill="#262626" >0.05</text>
<text x="66.9" y="893.1" font-size="18.6" text-anchor="end" fill="#262626" >0.05</text>
<text x="226.1" y="1007.5" font-size="18.6" text-anchor="middle" fill="#262626" >0.08</text>
<text x="66.9" y="835.8" font-size="18.6" text-anchor="end" fill="#262626" >0.08</text>
<text x="264.2" y="1007.5" font-size="18.6" text-anchor="middle" fill="#262626" >0.1</text>
<text x="66.9" y="797.7" font-size="18.6" text-anchor="end" fill="#262626" >0.1</text>
<text x="302.4" y="1007.5" font-size="18.6" text-anchor="middle" fill="#262626" >0.12</text>
<text x="66.9" y="759.5" font-size="18.6" text-anchor="end" fill="#262626" >0.12</text>
<text x="359.7" y="1007.5" font-size="18.6" text-anchor="middle" fill="#262626" >0.15</text>
<text x="66.9" y="702.2" font-size="18.6" text-anchor="end" fill="#262626" >0.15</text>
<text x="455.2" y="1007.5" font-size="18.6" text-anchor="middle" fill="#262626" >0.2</text>
<text x="66.9" y="606.7" font-size="18.6" text-anchor="end" fill="#262626" >0.2</text>
<text x="265.2" y="1033.5" font-size="20.5" text-anchor="middle" fill="#262626" >frequency (Hz)</text>
<text transform="translate(20.9 790) rotate(-90)" font-size="20.5" text-anchor="middle" fill="#262626">frequency (Hz)</text>
<linearGradient id="pg0" x1="0" y1="1" x2="0" y2="0"><stop offset="0.0000" stop-color="#44308c"/><stop offset="0.0500" stop-color="#4a4098"/><stop offset="0.1000" stop-color="#5050a5"/><stop offset="0.1500" stop-color="#505aac"/><stop offset="0.2000" stop-color="#5064b4"/><stop offset="0.2500" stop-color="#4b6ebc"/><stop offset="0.3000" stop-color="#4678c3"/><stop offset="0.3500" stop-color="#328cd2"/><stop offset="0.4000" stop-color="#19a5dc"/><stop offset="0.4500" stop-color="#14afd2"/><stop offset="0.5000" stop-color="#1eb4af"/><stop offset="0.5500" stop-color="#3cb496"/><stop offset="0.6000" stop-color="#60b879"/><stop offset="0.6500" stop-color="#85b95d"/><stop offset="0.7000" stop-color="#aab941"/><stop offset="0.7500" stop-color="#c6b038"/><stop offset="0.8000" stop-color="#e3ac3a"/><stop offset="0.8500" stop-color="#fab348"/><stop offset="0.9000" stop-color="#fac83c"/><stop offset="0.9500" stop-color="#f6d830"/><stop offset="1.0000" stop-color="#f2e823"/></linearGradient>
<rect x="140.3" y="633.6" width="29.6" height="173.7" fill="url(#pg0)" stroke="#262626" stroke-width="0.8"/>
<text x="132.6" y="639.8" font-size="17" text-anchor="end" fill="#262626" >1</text>
<text x="132.6" y="683.2" font-size="17" text-anchor="end" fill="#262626" >0.5</text>
<text x="132.6" y="726.7" font-size="17" text-anchor="end" fill="#262626" >0</text>
<text x="132.6" y="770.1" font-size="17" text-anchor="end" fill="#262626" >-0.5</text>
<text x="132.6" y="813.5" font-size="17" text-anchor="end" fill="#262626" >-1</text>
<path d="M140.3 633.6h2.5 M140.3 677h2.5 M140.3 720.5h2.5 M140.3 763.9h2.5 M140.3 807.3h2.5" stroke="#262626" stroke-width="0.8"/>
<path d="M142.7 621.3L150.7 628.9M150.7 621.3L142.7 628.9" stroke="#666" stroke-width="0.9" fill="none"/>
<text x="153.5" y="629" font-size="16.8" text-anchor="start" fill="#262626" >10</text>
<text x="172.5" y="621" font-size="14.2" text-anchor="start" fill="#262626" >-5</text>
<path d="M586 600V980 M549.7 943.7H929.7 M643.3 600V980 M549.7 886.4H929.7 M700.6 600V980 M549.7 829.1H929.7 M738.7 600V980 M549.7 791H929.7 M776.9 600V980 M549.7 752.8H929.7 M834.2 600V980 M549.7 695.5H929.7" stroke="#e0e0e0" stroke-width="1" fill="none"/>
<g fill="none" stroke-width="1.15" stroke-linejoin="round">
<path d="M723.6 953.3 723.1 951.3 721.6 948.9 719.6 948.3 719.4 949.4 720.1 951.3 721.6 953.1 723.6 953.3" stroke="#5a3fa8"/>
<path d="M720.2 815.8 719.6 814.7 718.1 815.8 719.6 816.9 720.2 815.8M705.1 829.1 704.4 827.6 704.0 829.1 704.4 829.4 705.1 829.1M725.6 955.2 725.6 953.3 724.9 951.3 722.7 947.5 719.6 945.0 717.7 945.0 717.4 945.6 717.3 947.5 717.6 949.4 718.5 951.3 719.6 952.9 721.6 954.7 723.5 955.8 725.4 955.6 725.6 955.2M715.4 970.4 713.9 968.9 712.0 970.4 713.9 971.6 715.4 970.4" stroke="#5a3fa8"/>
<path d="M721.9 817.7 722.1 815.8 721.1 813.9 719.6 812.5 717.7 811.8 716.1 813.9 716.4 815.8 717.2 817.7 717.7 818.4 719.6 819.5 721.6 818.5 721.9 817.7M707.1 829.1 706.9 827.2 706.3 826.4 704.4 826.0 702.4 827.2 702.4 829.1 704.4 830.8 706.3 830.5 707.1 829.1M733.5 829.1 733.0 828.8 732.4 829.1 733.0 830.5 733.5 829.1M718.2 833.0 717.7 831.9 715.7 833.0 715.8 833.4 717.7 834.7 718.2 833.0M697.1 836.8 698.0 834.9 696.7 833.1 694.3 834.9 694.8 836.8 697.1 836.8M722.5 842.5 721.6 841.8 721.0 842.5 721.6 843.7 722.5 842.5M712.7 844.4 712.0 843.9 711.4 844.4 712.0 845.9 712.7 844.4M693.5 943.7 693.4 941.8 692.9 940.9 691.0 939.6 690.7 939.9 690.7 941.8 691.0 942.3 692.9 944.1 693.5 943.7M728.4 960.9 729.2 959.0 728.2 957.1 725.8 949.4 724.7 947.5 723.0 945.6 719.6 942.9 717.7 942.0 715.8 942.3 715.2 943.7 715.2 945.6 716.2 949.4 717.0 951.3 718.5 953.3 721.6 956.0 725.4 958.6 727.3 961.2 728.4 960.9M715.8 972.4 717.3 970.4 717.2 968.5 715.8 967.5 713.9 967.5 711.7 968.5 710.7 970.4 711.5 972.4 713.9 973.3 715.8 972.4M699.0 976.2 699.6 974.3 698.6 973.5 696.7 974.3 697.6 976.2 699.0 976.2" stroke="#5a3fa8"/>
<path d="M722.4 821.5 723.9 817.7 723.8 815.8 722.8 813.9 719.6 810.8 717.7 811.0 715.0 813.9 714.9 815.8 715.7 817.7 717.7 820.5 719.6 821.9 721.6 822.4 722.4 821.5M707.9 831.0 708.5 829.1 708.2 826.1 707.9 825.3 706.3 823.9 704.4 824.7 701.5 827.2 701.2 829.1 702.5 830.8 704.4 832.2 706.3 832.3 707.9 831.0M735.5 833.0 736.7 831.0 735.9 829.1 733.0 826.8 731.1 826.8 730.5 827.2 730.0 829.1 731.1 831.0 733.0 832.6 734.9 833.2 735.5 833.0M717.9 836.8 719.6 834.9 719.9 831.0 718.8 829.1 717.7 828.5 715.8 830.2 714.3 833.0 714.6 834.9 715.8 836.3 717.9 836.8M698.9 836.8 699.4 834.9 698.3 833.0 696.7 832.1 693.6 834.9 692.9 836.8 694.8 838.2 696.7 838.3 698.9 836.8M724.3 844.4 724.7 842.5 723.5 840.0 721.6 839.2 719.6 840.3 718.7 842.5 719.6 844.8 721.6 846.2 723.5 845.5 724.3 844.4M714.8 846.3 714.9 844.4 713.3 842.5 712.0 841.9 710.0 842.5 709.4 844.4 710.1 846.8 712.0 848.2 713.9 847.5 714.8 846.3M702.2 926.5 701.0 924.6 700.6 924.5 699.9 926.5 700.6 927.8 702.2 926.5M701.1 932.3 700.6 931.2 699.4 932.3 700.6 932.8 701.1 932.3M708.6 932.3 708.2 931.6 706.3 930.9 705.6 932.3 706.3 933.0 708.2 932.7 708.6 932.3M695.9 945.6 696.0 943.7 694.2 939.9 692.9 938.5 691.0 937.5 688.7 938.0 688.4 939.9 690.2 943.7 691.0 944.7 692.9 946.1 694.8 946.5 695.9 945.6M730.5 960.9 730.5 959.0 730.1 957.1 728.1 949.4 727.2 947.5 725.4 945.6 717.7 939.3 715.8 938.3 713.9 938.6 712.9 939.9 712.7 943.7 714.3 949.4 715.4 951.3 719.6 955.8 727.3 962.8 729.2 962.5 730.5 960.9M702.7 949.4 702.5 949.1 702.5 949.6 702.7 949.4M680.2 968.5 680.4 966.6 679.5 965.6 677.6 965.6 676.9 966.6 677.6 968.4 679.5 969.1 680.2 968.5M716.2 974.3 719.2 970.4 719.1 968.5 717.7 966.9 715.8 965.8 713.9 966.0 712.0 967.0 710.3 968.5 709.2 970.4 709.6 972.4 712.0 974.2 713.9 974.8 716.2 974.3M731.8 972.4 731.1 970.4 729.2 969.8 728.5 970.4 728.4 972.4 729.2 973.2 731.1 973.2 731.8 972.4M701.2 976.2 701.4 974.3 700.6 973.3 698.6 972.2 696.7 972.5 695.2 974.3 695.2 976.2 696.7 977.8 698.6 977.9 701.2 976.2" stroke="#5a3fa8"/>
<path d="M904.9 731.8 904.9 731.8M849.7 768.0 849.5 767.7 849.3 768.0 849.5 768.6 849.7 768.0M754.3 785.2 754.0 785.0 753.7 785.2 754.0 785.6 754.3 785.2M800.9 794.8 799.8 793.5 798.6 794.8 799.8 796.1 800.9 794.8M855.3 800.5 854.1 798.6 853.3 798.1 851.7 798.6 852.4 800.5 853.3 801.5 855.3 800.5M891.5 810.0 889.6 807.7 889.6 808.7 891.5 810.0M722.6 823.4 723.9 821.5 724.8 817.7 724.5 815.8 721.6 811.6 719.6 810.2 717.7 810.7 714.7 813.9 714.4 815.8 715.0 817.7 716.2 819.6 719.6 823.2 721.6 824.3 722.6 823.4M913.2 819.6 912.7 817.7 910.4 817.7 912.5 819.8 913.2 819.6M708.9 831.0 709.0 825.3 707.7 823.4 706.3 823.1 704.4 824.3 701.2 827.2 700.8 829.1 702.5 831.5 704.4 832.7 706.3 832.9 708.2 831.9 708.9 831.0M723.4 846.3 725.0 844.4 725.3 842.5 724.7 840.6 723.5 838.9 720.1 836.8 721.2 829.1 719.6 827.3 717.7 826.9 715.8 829.2 713.6 833.0 714.1 834.9 715.8 837.3 719.5 838.7 718.1 840.6 717.9 842.5 718.3 844.4 719.6 846.1 721.6 847.4 723.4 846.3M737.5 833.0 737.7 831.0 736.5 829.1 733.0 826.1 731.1 826.0 729.3 827.2 729.4 829.1 730.3 831.0 733.0 833.3 734.9 834.0 736.8 833.6 737.5 833.0M696.9 838.7 698.6 837.8 699.6 836.8 699.9 834.9 698.6 832.6 696.7 831.8 693.4 834.9 692.3 836.8 692.9 837.7 694.8 838.7 696.9 838.7M714.3 848.2 715.6 846.3 715.6 844.4 714.7 842.5 712.0 841.4 710.1 841.8 709.0 842.5 709.1 846.3 710.0 848.2 712.0 849.3 714.3 848.2M807.9 854.0 807.5 853.5 807.5 854.2 807.9 854.0M859.2 863.5 858.9 863.5 859.2 863.5M720.0 873.1 719.4 873.1 719.6 873.3 720.0 873.1M832.8 876.9 832.1 876.9 832.8 876.9M771.4 886.4 769.3 885.4 765.5 882.2 764.6 882.6 765.1 884.5 767.4 885.3 768.5 886.4 769.3 886.9 771.2 887.0 771.4 886.4M775.1 899.8 774.5 899.8 775.0 900.4 775.1 899.8M798.7 915.1 797.9 914.5 796.9 915.1 797.9 915.7 798.7 915.1M701.7 932.3 701.0 930.3 703.4 926.5 703.6 924.6 702.5 923.3 700.6 923.2 699.2 926.5 699.8 928.4 699.9 930.3 698.6 931.4 698.2 932.3 698.6 932.8 700.6 933.4 701.7 932.3M709.3 932.3 708.2 930.4 706.3 929.7 705.5 930.3 705.0 932.3 706.3 933.6 708.2 933.5 709.3 932.3M734.9 932.3 733.3 930.3 731.1 930.1 730.5 930.3 732.3 932.3 734.9 932.3M663.2 934.2 662.4 933.5 660.5 933.9 660.3 934.2 662.4 935.3 663.2 934.2M697.5 945.6 696.2 941.8 693.2 938.0 691.0 936.9 689.1 936.8 687.7 938.0 687.8 939.9 688.5 941.8 689.5 943.7 691.3 945.6 692.9 946.7 694.8 947.3 697.5 945.6M730.0 962.8 731.0 960.9 731.0 959.0 729.3 951.3 729.0 947.5 727.2 945.6 721.6 941.5 715.8 936.4 713.9 936.3 712.1 938.0 711.5 939.9 711.6 943.7 712.5 947.5 713.4 949.4 714.7 951.3 725.4 962.6 727.3 963.8 729.2 963.4 730.0 962.8M745.7 941.8 744.5 940.3 743.9 941.8 744.5 942.3 745.7 941.8M705.2 951.3 704.5 949.4 702.5 947.3 700.6 946.4 700.2 947.5 702.5 950.8 704.4 952.0 705.2 951.3M859.8 957.1 860.8 955.2 859.6 953.3 857.1 951.4 855.2 951.3 854.8 953.3 855.4 955.2 857.1 956.8 859.0 957.4 859.8 957.1M620.4 955.2 618.3 953.3 619.9 955.2 620.4 955.5 620.4 955.2M681.2 968.5 681.0 966.6 679.5 964.8 677.6 964.4 676.0 966.6 676.8 968.5 679.5 970.0 681.2 968.5M725.9 966.6 725.4 965.5 723.5 963.3 722.7 964.7 723.5 965.9 725.4 967.4 725.9 966.6M717.5 974.3 720.1 970.4 719.8 968.5 718.4 966.6 715.8 965.3 713.9 965.3 709.7 968.5 708.7 970.4 708.8 972.4 710.1 973.6 712.0 974.9 715.8 975.7 717.5 974.3M732.5 972.4 732.1 970.4 731.1 969.5 729.2 969.0 727.5 970.4 727.8 972.4 729.2 973.9 731.1 973.9 732.5 972.4M785.0 970.4 784.6 969.8 783.3 970.4 784.6 970.9 785.0 970.4M699.5 978.1 701.8 976.2 701.9 974.3 700.6 972.7 698.6 971.9 696.1 972.4 694.5 974.3 694.5 976.2 696.7 978.5 698.6 978.6 699.5 978.1" stroke="#45c0c0"/>
<path d="M928.8 617.2 927.8 617.7 924.0 617.3 922.7 619.1 920.1 619.4 916.3 621.5 915.7 621.0 913.9 617.2 912.5 616.1 907.9 621.0 905.5 622.9 904.0 624.8 903.0 625.4 901.6 626.7 898.2 630.6 899.1 631.6 903.0 633.5 904.9 633.8 906.8 633.1 908.7 633.2 909.7 632.5 906.3 626.7 907.0 624.8 908.7 623.3 910.6 623.5 914.4 627.9 916.3 628.8 918.2 630.3 919.5 634.4 922.1 637.1 923.7 636.3 923.9 634.4 923.3 632.5 923.5 630.6 924.0 630.0 925.9 629.0 927.8 629.8 929.7 631.6M896.4 634.4 895.3 633.3 894.3 634.4 895.3 635.8 896.4 634.4M929.7 644.0 925.9 643.1 922.1 644.7 920.1 644.2 918.2 642.3 916.6 638.2 915.2 636.3 912.5 634.8 912.1 636.3 911.9 640.1 913.0 642.0 918.2 645.9 925.9 648.9 929.7 651.0M929.7 674.8 927.8 674.8 925.9 673.7 922.1 670.9 920.1 668.7 918.1 664.9 918.6 663.0 918.5 661.1 917.2 659.2 916.3 658.7 914.4 658.1 912.5 658.6 912.0 659.2 911.5 661.1 908.7 664.0 906.8 664.1 904.9 662.3 904.1 661.1 903.0 657.3 905.9 653.5 905.6 651.6 904.1 647.7 904.9 647.0 908.7 648.6 910.4 647.7 908.7 645.5 904.9 644.5 903.0 646.5 899.1 646.3 897.2 648.0 895.2 647.7 892.7 645.8 890.8 643.9 889.6 643.3 888.1 643.9 890.9 647.7 893.2 653.5 895.9 657.3 896.1 659.2 895.3 659.8 895.0 659.2 887.3 653.5 885.8 652.7 883.9 652.9 882.0 651.9 880.0 650.2 878.1 649.9 876.5 651.6 876.3 653.5 880.0 655.9 882.0 656.1 883.4 655.4 883.9 654.7 884.7 657.3 883.4 659.2 880.0 660.2 870.5 657.8 869.1 659.2 868.6 660.7 866.7 661.9 863.5 664.9 864.8 666.8 870.5 670.5 872.4 672.6 874.4 676.4 875.7 680.2 876.9 682.1 878.8 684.0 881.5 685.9 883.3 687.8 882.0 689.2 880.0 689.5 878.1 688.5 875.9 685.9 874.8 684.0 872.4 682.2 868.6 683.6 866.7 682.9 864.8 681.6 862.9 679.5 860.7 676.4 860.0 674.5 860.4 672.6 860.3 670.7 859.0 669.3 855.7 672.6 852.5 676.4 855.2 679.6 857.7 684.0 857.1 685.1 855.2 685.7 847.6 681.0 844.4 684.0 844.2 687.8 843.8 688.3 841.9 687.9 839.9 688.6 838.8 689.7 839.9 691.6 841.9 692.7 844.7 695.5 844.0 697.4 844.5 701.2 843.8 701.5 839.9 699.3 837.6 697.4 837.4 693.6 836.1 692.3 833.0 695.5 836.0 697.4 837.7 699.3 834.8 703.1 836.4 705.0 842.7 708.8 845.0 712.7 851.8 720.3 857.1 725.1 863.4 729.8 864.8 731.8 860.8 733.7 861.2 735.6 862.7 737.5 861.8 739.4 861.5 741.3 863.2 743.2 862.9 744.1 860.9 743.3 859.0 741.8 857.1 739.4 856.6 737.5 856.7 735.6 857.1 734.4 858.1 733.7 857.1 733.3 856.0 731.8 853.3 729.6 850.0 726.0 849.4 722.2 848.1 720.3 843.8 718.8 841.9 717.6 836.7 712.7 835.1 710.8 832.9 706.9 832.6 705.0 833.1 703.1 831.8 701.2 830.4 700.3 828.5 700.7 827.9 701.2 828.9 705.0 828.9 706.9 828.5 707.5 826.6 707.1 825.3 708.8 825.5 710.8 827.9 712.7 830.4 713.7 832.3 715.0 834.4 720.3 834.3 722.2 835.2 724.1 839.6 727.9 840.6 729.8 841.1 731.8 843.9 735.6 847.6 738.9 849.5 738.9 850.9 739.4 853.3 741.0 857.1 746.6 861.3 750.9 860.9 751.3 859.0 751.9 858.1 752.8 858.3 754.7 860.0 756.6 860.9 757.5 863.1 758.5 863.7 756.6 863.2 754.7 864.8 753.1 872.4 757.3 873.5 758.5 875.3 762.3 874.3 762.8 870.5 761.9 869.0 762.3 868.7 766.1 869.4 768.0 878.1 773.7 880.9 775.7 882.7 777.6 878.1 781.0 876.3 781.4 877.4 783.3 876.2 783.4 876.2 781.4 873.2 777.6 870.5 774.8 868.6 773.5 867.0 773.8 866.7 774.3 866.3 777.6 865.4 779.5 866.5 781.4 870.5 783.7 872.4 785.4 874.1 789.0 875.1 794.8 878.6 798.6 879.4 800.5 878.1 801.5 874.3 800.2 873.7 800.5 873.7 802.4 872.4 804.2 870.6 802.4 869.9 800.5 869.9 798.6 871.4 796.7 871.9 794.8 870.5 792.9 865.0 789.0 863.3 787.1 860.0 781.4 860.3 779.5 857.3 775.7 857.1 773.7 859.7 771.9 859.5 769.9 858.6 768.0 858.6 766.1 857.5 764.2 855.2 763.2 853.3 764.1 851.4 763.3 844.7 758.5 842.5 756.6 841.0 754.7 841.4 752.8 841.9 752.6 843.8 753.5 847.6 757.0 849.5 757.6 849.9 756.6 849.4 754.7 848.4 752.8 843.8 750.5 838.5 745.1 839.0 743.2 840.5 741.3 835.9 735.6 835.5 731.8 831.5 727.9 828.8 724.1 829.4 722.2 829.0 720.3 825.4 716.5 824.1 714.6 822.5 708.8 822.8 707.7 824.0 706.9 822.8 706.7 820.8 707.8 816.1 712.7 817.0 713.3 818.9 713.7 823.3 716.5 826.0 720.3 826.6 721.8 827.3 722.2 826.0 724.1 824.7 724.8 822.8 725.0 820.8 723.8 817.0 720.1 815.1 719.7 813.2 720.0 809.4 719.9 807.5 721.1 804.5 724.1 803.1 726.0 802.9 727.9 805.6 730.0 805.6 729.4 804.6 727.9 805.9 726.0 807.5 725.2 809.4 725.0 813.2 726.3 818.9 730.5 820.1 731.8 821.9 735.6 823.6 737.5 828.2 741.3 833.5 747.0 834.6 748.9 835.9 752.8 835.1 754.7 833.4 756.6 834.2 758.6 836.1 761.4 838.0 761.6 839.9 761.1 841.9 762.6 843.8 765.8 844.5 768.0 847.9 773.8 847.7 777.6 848.5 781.4 848.5 783.3 845.7 783.5 843.8 785.6 841.9 785.4 838.0 783.7 836.1 784.2 832.3 783.2 830.4 783.7 828.5 784.8 824.7 783.7 822.8 783.9 820.7 785.2 820.0 787.1 820.1 789.0 818.9 791.0 819.5 792.9 820.6 794.8 824.7 798.1 826.8 800.5 827.4 802.4 826.6 803.4 824.7 804.2 818.9 804.0 817.0 802.1 816.1 800.5 815.1 797.3 813.2 795.2 811.3 794.1 805.6 791.8 799.8 788.6 794.1 790.1 792.9 791.0 793.4 792.9 794.6 794.8 799.8 800.1 801.8 801.2 805.6 801.1 807.5 801.7 811.3 805.0 813.8 806.2 815.1 807.5 816.9 808.1 815.1 810.0 811.3 807.2 805.3 808.1 804.8 810.0 804.9 812.0 806.1 815.8 805.6 816.7 801.8 816.9 800.9 817.7 802.8 821.5 800.3 823.4 800.8 825.3 801.8 826.5 803.7 827.4 804.3 825.3 804.2 823.4 805.6 823.1 813.2 825.9 815.6 827.2 816.7 829.1 817.6 833.0 817.0 835.7 815.1 836.3 813.2 836.3 812.3 836.8 812.1 838.7 816.5 844.4 816.9 846.3 816.3 848.2 813.8 852.1 814.1 854.0 813.2 855.6 812.5 854.0 809.7 850.1 810.1 846.3 807.5 842.5 806.7 840.6 808.0 838.7 808.3 836.8 805.6 833.1 803.7 831.6 797.9 830.6 796.0 830.8 792.2 832.4 790.3 830.4 789.8 829.1 790.3 827.9 794.1 827.1 794.7 825.3 793.0 819.6 793.1 817.7 796.0 815.7 797.7 813.9 798.9 810.0 798.6 806.2 797.9 804.7 794.1 804.6 788.4 803.8 785.6 804.3 786.5 805.1 786.5 806.7 784.6 806.8 783.7 806.2 783.6 804.3 784.5 802.4 782.7 801.4 781.3 802.4 782.2 804.3 779.1 806.2 778.0 808.1 780.0 810.0 784.1 815.8 784.6 817.7 784.1 819.6 782.7 820.7 780.7 821.4 779.1 819.6 779.3 817.7 778.6 815.8 776.9 814.2 775.0 813.3 771.2 814.5 764.5 812.0 763.6 810.9 761.7 811.2 759.7 812.4 757.8 812.6 756.0 813.9 761.9 821.5 760.3 825.3 758.9 827.2 757.8 827.8 755.9 828.2 754.0 827.2 752.1 825.3 750.7 823.4 749.9 821.5 749.1 815.8 750.2 815.0 755.9 813.9 755.9 810.0 758.3 808.1 758.0 806.2 755.9 803.2 754.0 801.0 752.7 800.5 754.0 799.7 755.9 799.4 756.4 798.6 755.6 796.7 758.0 796.7 760.9 798.6 760.5 800.5 760.6 802.4 761.7 804.3 763.6 805.9 765.5 805.6 771.2 807.7 773.1 806.2 773.1 804.3 769.3 800.3 767.4 799.2 765.5 798.6 763.6 796.5 760.5 791.0 760.5 789.0 761.7 788.4 767.4 791.5 771.2 791.0 775.0 791.0 775.9 789.0 775.0 787.8 773.1 786.4 771.2 786.6 769.3 788.8 767.4 788.3 762.1 785.2 754.2 779.5 752.1 776.6 750.2 778.0 746.9 781.4 748.0 783.3 748.5 785.2 752.7 791.0 753.0 792.9 752.1 793.8 750.2 793.3 748.6 794.8 749.1 796.7 748.3 798.1 747.1 796.7 746.4 796.4 740.7 791.2 738.7 789.9 735.9 792.9 736.8 794.4 742.7 796.7 743.8 798.6 744.2 800.5 745.6 802.4 746.3 804.3 744.5 806.2 742.6 806.2 743.1 808.1 745.5 812.0 744.5 813.0 742.6 813.1 738.7 812.1 736.8 812.2 736.1 813.9 736.6 815.8 734.9 817.3 731.1 818.9 729.2 818.9 727.3 817.7 723.8 812.0 723.4 810.0 724.7 808.1 723.5 807.2 721.6 807.4 720.8 808.1 719.6 808.4 712.5 815.8 712.9 817.7 712.0 819.0 710.1 818.3 704.4 823.5 699.0 829.1 704.4 834.5 705.7 834.9 706.3 835.5 706.8 834.9 710.1 833.5 712.0 834.0 713.7 836.8 714.3 838.7 713.9 839.2 712.0 840.4 710.1 840.6 708.2 840.2 706.4 838.7 706.3 838.0 705.1 838.7 705.0 840.6 706.3 842.2 707.1 844.4 706.3 846.2 704.4 847.4 702.5 847.5 698.6 845.9 694.8 846.4 692.9 846.2 691.0 845.6 688.8 844.4 687.2 843.0 685.0 844.4 683.7 848.2 683.4 848.4 681.5 847.1 676.3 852.1 675.7 853.1 673.0 855.9 673.8 856.5 675.7 855.9 677.5 854.0 679.7 854.0 681.7 852.1 685.1 850.1 685.3 849.7 685.5 850.1 691.0 853.8 692.9 854.8 694.8 855.2 696.7 854.5 697.0 854.0 698.6 852.8 701.1 855.9 700.6 857.6 698.6 857.4 698.1 857.8 697.3 859.7 696.7 860.1 691.0 857.4 690.4 857.8 690.2 859.7 691.0 860.6 692.9 862.1 695.5 863.5 697.2 865.4 696.7 866.2 694.8 867.3 691.0 867.4 689.1 866.4 685.3 863.0 683.4 861.9 681.5 863.0 679.5 863.0 675.7 861.6 673.7 861.6 672.4 863.5 672.4 865.4 672.7 867.3 674.1 869.2 677.6 872.4 679.5 873.5 683.4 874.9 685.4 875.0 686.4 873.1 686.8 871.1 687.2 871.1 691.0 871.8 694.8 871.6 696.7 872.2 702.5 873.3 705.2 873.1 707.1 871.1 707.9 869.2 707.8 867.3 706.7 865.4 706.3 863.0 707.1 861.6 710.1 860.7 711.1 859.7 708.2 857.3 707.2 855.9 708.2 854.6 712.0 852.9 713.9 852.6 715.8 850.8 717.7 850.4 719.6 851.2 721.8 854.0 723.5 857.3 727.3 860.0 727.6 859.7 727.0 857.8 727.4 855.9 728.4 854.0 728.2 852.1 725.5 848.2 727.3 846.1 729.2 847.9 730.0 850.1 733.0 854.4 734.9 855.6 738.7 857.3 741.7 859.7 749.1 863.5 750.2 863.9 751.5 863.5 750.9 861.6 749.7 859.7 750.2 859.1 752.1 859.3 755.9 860.4 757.8 860.5 761.7 859.0 762.0 859.7 767.1 863.5 768.3 865.4 770.7 871.1 769.3 873.1 767.4 873.9 765.5 874.2 763.6 873.6 762.9 873.1 761.9 871.1 759.6 869.2 754.0 866.1 752.1 869.5 750.2 869.5 742.6 867.1 740.7 866.8 740.3 867.3 740.7 873.3 742.6 874.8 744.5 874.1 746.4 872.8 748.3 872.4 752.1 873.9 759.2 878.8 759.2 880.7 758.0 882.6 758.4 884.5 759.7 886.2 766.4 890.2 765.5 892.0 763.6 892.3 761.7 891.1 757.8 889.9 753.4 886.4 752.1 885.8 749.8 886.4 750.1 890.2 748.3 891.9 746.4 891.3 742.6 888.6 740.7 887.7 740.1 888.3 740.4 890.2 742.6 892.5 744.8 894.1 754.0 899.7 755.1 901.7 756.2 905.5 759.4 907.4 761.7 908.2 763.6 906.1 765.0 907.4 766.2 909.3 766.6 911.2 767.6 913.2 769.3 915.1 775.0 919.6 778.0 926.5 777.4 928.4 777.6 930.3 778.5 932.3 776.9 933.8 774.9 934.2 773.9 936.1 774.1 938.0 776.9 940.2 778.8 940.7 780.3 939.9 781.6 938.0 782.7 937.3 786.4 939.9 788.2 941.8 782.7 945.9 778.8 944.5 776.9 944.4 771.7 945.6 772.1 947.5 773.6 949.4 776.9 951.9 778.8 952.1 780.7 949.8 782.7 949.1 784.6 950.1 785.8 951.3 788.3 955.2 786.5 956.8 782.7 957.7 782.2 959.0 778.7 962.8 779.3 964.7 778.8 965.5 776.9 965.6 773.1 963.9 771.8 964.7 772.3 966.6 773.8 968.5 773.1 970.0 769.3 968.4 767.4 968.2 766.3 968.5 767.1 970.4 769.0 972.4 771.2 973.8 773.1 974.6 776.9 974.7 778.2 974.3 778.8 972.2 780.7 972.6 784.6 974.8 788.4 975.9 790.3 974.4 792.2 973.8 794.1 974.7 796.0 976.7 797.7 976.2 798.0 974.3 799.8 972.4 801.8 973.1 803.7 973.4 805.6 974.2 807.5 976.2 809.2 980.0M929.7 657.9 924.0 655.6 920.1 650.8 918.2 649.6 916.9 651.6 917.2 653.5 918.2 654.9 920.1 656.6 922.1 657.5 923.4 659.2 924.8 666.8 925.9 667.8 929.7 667.8M876.2 668.1 871.4 663.0 872.4 662.4 874.3 662.4 875.0 663.0 876.5 664.9 877.0 666.8 876.2 668.1M929.7 707.8 927.8 707.6 924.0 706.2 919.6 703.1 918.3 701.2 918.4 699.3 922.8 697.4 922.1 697.1 917.0 691.7 918.2 689.2 918.5 687.8 917.7 685.9 916.3 683.9 914.4 682.2 912.5 681.6 909.9 685.9 911.3 687.8 910.6 689.7 910.7 691.7 913.1 697.4 912.5 699.0 911.6 699.3 912.5 699.7 913.1 701.2 915.1 703.1 916.0 705.0 912.5 706.0 911.5 706.9 911.0 708.8 911.4 710.8 914.6 714.6 914.9 716.5 914.4 717.1 912.5 716.2 910.6 714.7 907.4 710.8 904.9 708.8 903.0 707.9 901.0 707.5 899.1 708.0 898.7 708.8 900.0 712.7 900.1 714.6 901.0 716.5 899.1 717.3 897.2 717.4 895.3 718.4 891.7 716.5 889.6 715.8 888.4 716.5 888.3 718.4 888.7 720.3 889.9 722.2 893.4 725.6 897.2 728.3 899.1 727.9 903.2 733.7 905.2 737.5 906.6 741.3 907.8 743.2 909.8 748.9 910.4 750.9 909.9 752.8 910.6 755.2 912.5 757.7 914.4 758.5 914.6 760.4 912.5 760.8 910.6 759.9 908.2 756.6 901.8 750.9 900.0 748.9 899.1 747.4 897.2 746.7 893.4 746.4 889.6 744.4 887.7 743.8 885.8 744.0 885.2 745.1 887.6 750.9 887.8 754.7 889.3 756.6 887.7 758.0 882.0 757.3 880.5 756.6 879.6 754.7 880.0 752.8 879.5 750.9 876.4 743.2 874.3 741.0 869.3 737.5 865.9 733.7 866.7 732.5 868.6 732.3 870.2 731.8 872.4 730.1 874.4 729.8 876.2 727.8 878.1 727.0 882.0 727.0 882.3 726.0 882.0 722.1 880.0 720.0 878.1 719.5 874.3 719.2 871.5 718.4 870.7 716.5 869.0 714.6 862.9 711.9 860.9 711.6 859.0 714.5 857.1 714.6 855.2 713.4 851.4 712.2 848.6 710.8 846.3 708.8 845.8 706.9 850.0 701.2 849.5 700.5 849.3 699.3 848.0 697.4 847.6 695.4 849.5 695.2 851.4 697.3 852.0 699.3 851.9 701.2 854.0 703.1 855.2 703.8 857.1 704.3 859.0 703.8 859.5 703.1 858.1 701.2 856.8 697.4 857.2 695.5 859.0 692.4 860.9 693.6 864.8 697.3 866.7 698.6 867.1 697.4 868.6 696.0 870.5 696.2 872.8 697.4 875.4 699.3 876.2 700.3 878.1 700.3 878.4 699.3 877.7 695.5 878.1 694.8 883.9 694.1 885.8 694.7 887.7 696.2 895.3 704.4 896.6 705.0 897.2 705.7 899.1 705.5 899.8 703.1 899.1 701.2 897.9 699.3 899.1 698.0 901.0 699.1 902.1 697.4 901.6 695.5 899.1 692.2 897.9 693.6 897.9 695.5 898.7 697.4 897.2 698.8 895.2 697.4 887.4 689.7 886.5 687.8 888.8 685.9 888.6 684.0 887.4 682.1 889.6 681.2 890.5 680.2 889.8 678.3 887.7 676.6 883.9 676.2 882.0 675.2 877.9 670.7 877.1 668.7 878.1 668.1 880.0 669.3 882.0 669.5 884.6 668.7 883.9 668.0 883.4 664.9 883.9 664.5 885.8 664.2 886.8 663.0 887.7 662.6 891.5 664.3 893.4 665.5 894.8 666.8 897.2 670.8 899.1 672.6 901.0 671.1 903.0 670.3 906.8 670.7 908.7 668.8 912.5 669.8 917.3 672.6 920.1 676.1 923.2 678.3 925.0 680.2 925.0 682.1 923.8 684.0 924.0 685.9 925.9 689.7 929.7 696.3M897.2 663.1 897.2 662.8 897.2 663.1M885.8 680.3 883.9 680.3 883.9 678.7 885.8 680.3M929.7 684.3 929.3 684.0 929.3 682.1 929.7 682.0M862.9 690.0 860.9 688.8 859.0 686.4 858.2 685.9 859.0 685.5 860.9 685.6 862.9 686.5 864.2 687.8 863.4 689.7 862.9 690.0M906.8 695.5 908.7 691.6 910.6 689.7 908.6 687.8 906.8 686.7 902.9 685.9 902.1 687.8 903.0 690.4 904.9 693.9 906.8 695.5M868.1 706.9 866.7 703.2 863.6 705.0 864.1 706.9 864.8 707.6 866.7 708.3 868.1 706.9M878.7 710.8 880.3 708.8 880.2 706.9 878.1 703.5 876.2 703.5 874.3 704.3 873.9 705.0 874.1 706.9 875.8 710.8 876.2 711.1 878.1 711.2 878.7 710.8M929.7 740.4 927.8 740.2 925.7 739.4 923.4 735.6 924.0 734.3 925.9 735.2 926.8 733.7 924.7 729.8 923.2 726.0 923.6 720.3 923.2 718.4 922.5 716.5 919.6 712.7 920.1 710.8 929.7 716.5M866.7 717.0 866.7 715.9 867.3 716.5 866.7 717.0M868.6 720.3 867.3 718.4 868.6 717.0 870.1 718.4 869.0 720.3 868.6 720.3M903.0 719.4 901.3 718.4 903.0 717.9 904.8 718.4 903.0 719.4M916.3 746.0 914.1 745.1 910.9 743.2 909.8 741.3 909.7 739.4 910.6 738.0 912.8 737.5 908.7 730.8 906.8 728.9 903.0 726.2 901.0 726.3 899.1 727.9 895.8 724.1 894.8 722.2 895.3 718.5 901.0 724.1 901.0 724.7 903.0 724.9 904.9 722.2 903.4 720.3 904.9 718.4 906.8 719.0 908.7 718.8 910.6 717.7 912.5 717.6 913.0 718.4 914.4 719.1 916.3 721.1 917.2 722.2 918.2 724.8 919.1 727.9 923.6 733.7 922.1 734.5 920.1 733.8 919.9 735.6 921.0 737.5 920.7 739.4 918.2 740.3 917.4 741.3 917.9 745.1 916.3 746.0M929.7 722.9 928.1 724.1 929.7 727.0M917.4 729.8 917.2 727.9 914.4 725.8 913.2 727.9 914.3 729.8 916.3 730.8 917.4 729.8M899.7 739.4 901.0 737.5 900.7 735.6 899.1 733.7 897.2 732.3 895.3 731.9 891.5 733.4 887.7 730.9 885.8 730.3 884.5 731.8 884.0 733.7 891.5 739.1 897.2 741.3 899.1 740.5 899.7 739.4M821.3 745.1 821.4 743.2 820.6 741.3 818.9 739.1 817.0 737.7 809.4 734.8 807.5 736.4 807.1 737.5 808.0 739.4 811.3 743.6 813.2 745.3 815.1 746.1 818.9 746.3 820.8 745.9 821.3 745.1M806.0 785.2 807.0 783.3 807.0 777.6 806.4 775.7 805.6 774.4 801.8 772.9 799.8 771.3 793.7 764.2 793.2 762.3 794.1 760.8 796.0 760.4 797.1 758.5 799.8 758.3 801.8 760.7 803.7 764.2 804.2 766.1 804.0 769.9 805.6 771.2 807.5 771.3 811.3 773.3 813.2 772.7 817.0 768.8 817.8 769.9 822.6 773.8 824.7 776.9 826.6 778.2 828.5 778.7 830.4 777.9 829.8 775.7 828.5 774.4 824.7 773.0 823.4 771.9 823.1 769.9 824.7 769.0 828.5 771.0 830.4 770.6 831.0 768.0 832.3 767.3 834.2 768.0 838.0 770.7 839.9 770.6 840.4 769.9 839.9 768.0 838.0 765.4 836.1 763.8 832.3 763.3 826.6 761.4 822.8 759.0 820.8 758.2 815.1 761.9 813.2 761.6 811.3 760.1 807.5 759.2 805.6 757.9 802.8 754.7 800.9 750.9 796.0 749.0 794.1 747.6 792.7 747.0 794.1 745.2 796.0 745.5 796.3 745.1 794.4 739.4 796.0 738.0 797.9 738.9 799.5 737.5 797.9 736.4 796.0 736.5 794.1 738.7 793.6 737.5 792.2 736.8 790.4 739.4 791.5 743.2 794.0 745.1 792.2 746.5 790.3 745.8 789.6 743.2 788.4 742.0 786.5 741.6 783.6 745.1 786.8 747.0 789.0 750.9 793.9 756.6 792.2 757.6 786.5 755.1 778.8 750.7 776.9 751.4 772.4 756.6 771.2 757.0 767.8 760.4 767.6 762.3 769.2 764.2 769.3 765.6 771.2 766.1 773.1 765.7 774.6 762.3 775.0 758.1 778.8 758.3 780.7 757.6 782.7 758.1 786.1 760.4 788.1 762.3 788.9 764.2 789.2 766.1 790.8 768.0 793.3 769.9 793.6 771.9 792.2 772.9 790.3 773.1 788.2 775.7 790.9 779.5 792.2 782.2 794.1 782.8 794.7 781.4 794.1 779.4 796.0 778.8 799.8 780.8 803.7 784.0 805.6 785.3 806.0 785.2M872.4 749.1 867.2 747.0 866.7 745.9 864.8 745.9 863.4 745.1 864.8 744.5 866.7 745.0 870.5 743.9 872.6 745.1 873.8 747.0 872.8 748.9 872.4 749.1M929.7 756.5 925.9 756.3 920.4 750.9 919.2 748.9 920.1 747.8 924.0 748.5 927.8 746.3 929.7 747.7M813.4 754.7 811.3 752.3 809.1 752.8 811.3 754.8 813.2 755.0 813.4 754.7M862.9 753.8 862.0 752.8 862.9 752.1 863.9 752.8 862.9 753.8M924.0 762.9 922.1 764.1 914.4 758.5 915.4 754.7 916.3 754.2 918.2 755.5 923.1 760.4 924.0 762.3 924.0 762.9M929.7 806.8 925.9 800.5 924.3 798.6 920.1 794.7 916.3 792.7 913.7 791.0 912.5 789.7 912.0 791.0 910.6 792.1 908.7 792.0 906.8 791.2 904.9 789.7 902.4 787.1 901.0 786.2 899.1 785.8 897.2 786.4 895.6 789.0 897.2 791.5 899.1 792.0 901.0 791.2 903.0 791.9 903.9 792.9 904.8 794.8 903.0 796.0 900.3 794.8 899.1 793.6 895.3 796.2 893.4 796.9 891.5 798.1 890.5 800.5 890.9 802.4 889.6 803.1 887.5 802.4 884.2 800.5 883.3 798.6 882.9 794.8 883.3 792.9 885.5 791.0 886.0 789.0 889.6 787.8 890.1 787.1 887.9 781.4 888.0 779.5 887.1 777.6 883.9 775.1 879.2 769.9 880.0 768.6 882.0 768.5 887.7 772.9 892.3 773.8 897.2 776.5 899.1 776.1 899.6 775.7 899.5 773.8 895.4 768.0 893.7 764.2 889.6 759.2 888.3 758.5 889.6 756.9 895.3 760.4 896.6 756.6 901.0 755.9 903.0 756.6 905.9 758.5 907.3 760.4 907.5 762.3 908.7 764.6 914.4 767.3 917.5 769.9 919.4 773.8 919.7 775.7 918.2 777.3 916.3 777.2 915.9 777.6 917.5 779.5 918.2 779.9 920.1 780.0 924.0 781.0 927.8 780.9 928.9 779.5 927.0 775.7 927.8 773.6 929.7 774.5M761.1 775.7 761.3 773.8 760.6 771.9 761.7 771.2 763.6 772.9 765.5 773.6 767.4 773.3 769.3 771.5 771.2 770.9 772.3 769.9 772.1 768.0 771.2 766.2 769.3 766.2 767.4 767.1 765.5 766.7 763.6 765.6 760.4 768.0 759.7 770.7 757.8 770.5 754.5 773.8 755.5 775.7 757.8 776.5 761.1 775.7M782.7 766.1 782.7 766.1M929.7 766.3 929.7 766.0M791.2 787.1 791.1 785.2 790.3 783.3 786.5 780.7 781.5 779.5 783.0 777.6 783.4 775.7 783.1 773.8 781.9 771.9 780.7 770.8 778.8 769.5 776.9 768.8 775.8 769.9 777.6 775.7 777.9 779.5 780.2 783.3 782.7 785.9 784.6 786.8 790.3 788.4 791.2 787.1M841.0 777.6 839.6 775.7 838.0 774.6 836.6 775.7 838.0 777.9 839.9 778.4 841.0 777.6M917.1 785.2 915.9 783.3 914.4 782.1 912.5 780.9 911.6 781.4 911.4 783.3 913.1 785.2 914.4 785.9 916.3 785.9 917.1 785.2M855.2 795.1 854.6 792.9 854.9 791.0 853.3 789.5 851.8 787.1 850.9 785.2 851.4 784.9 853.5 785.2 855.2 786.0 859.0 785.5 861.8 787.1 862.3 789.0 861.1 791.0 857.1 790.3 855.7 791.0 856.8 794.8 855.2 795.1M838.0 854.6 836.1 854.2 832.3 851.5 826.6 848.6 821.5 844.4 819.9 842.5 820.8 840.9 824.7 843.4 827.1 842.5 828.1 840.6 822.8 830.7 817.8 825.3 816.5 821.5 812.4 817.7 811.7 815.8 812.2 813.9 815.1 812.5 817.0 812.4 819.0 813.9 818.9 811.8 817.0 810.1 816.3 810.0 817.0 809.3 817.1 808.1 818.2 806.2 818.9 805.6 819.3 806.2 822.8 808.1 826.6 809.4 832.3 812.4 834.2 812.8 835.3 812.0 834.2 810.4 833.5 808.1 833.8 806.2 833.3 804.3 830.5 800.5 828.5 796.8 826.8 794.8 826.6 793.5 825.9 792.9 828.5 792.2 830.4 788.8 832.3 788.9 834.2 789.7 836.1 789.7 838.0 788.1 839.9 788.6 842.4 791.0 843.2 792.9 843.5 794.8 844.5 796.7 847.6 799.9 848.8 802.4 847.6 804.0 845.7 804.2 843.8 805.1 841.9 805.5 840.7 806.2 841.0 808.1 839.9 809.1 838.0 808.8 836.9 810.0 838.1 812.0 839.9 813.2 842.2 815.8 842.3 817.7 841.9 818.8 841.1 817.7 838.0 815.9 836.1 817.0 834.2 817.4 830.4 815.9 828.3 817.7 833.5 823.4 834.9 825.3 835.5 827.2 834.2 828.7 832.3 829.5 830.4 829.5 829.0 831.0 833.8 836.8 834.2 838.7 833.1 840.6 830.9 842.5 832.3 845.0 834.2 847.1 837.8 850.1 839.2 852.1 839.2 854.0 838.0 854.6M789.7 796.7 788.4 794.8 786.5 793.2 784.6 792.2 782.7 792.2 781.7 792.9 782.8 794.8 786.5 797.3 788.4 797.8 789.7 796.7M735.9 796.7 734.9 795.5 732.8 796.7 734.9 797.1 735.9 796.7M809.4 799.7 807.5 799.4 805.6 796.6 807.5 796.5 809.6 798.6 809.4 799.7M750.2 799.2 749.2 798.6 750.2 798.2 751.6 798.6 750.2 799.2M916.3 803.5 914.4 803.4 913.4 802.4 912.4 800.5 913.2 798.6 914.4 797.8 916.3 797.7 918.4 798.6 918.4 800.5 917.8 802.4 916.3 803.5M748.3 800.7 747.9 800.5 748.3 799.5 748.9 800.5 748.3 800.7M912.5 814.0 910.6 814.1 909.9 813.9 907.4 812.0 906.2 810.0 904.9 809.0 901.0 807.3 899.7 806.2 898.5 804.3 897.7 800.5 899.1 799.4 901.0 799.7 904.9 802.2 906.8 804.6 908.7 806.1 912.5 806.8 914.1 808.1 915.0 810.0 914.4 811.4 912.5 814.0M729.7 802.4 729.2 802.0 728.3 802.4 729.2 802.9 729.7 802.4M901.0 839.3 899.1 836.1 898.3 833.0 897.2 831.0 897.2 830.3 899.1 830.2 900.0 829.1 899.3 827.2 895.9 823.4 895.3 822.3 893.4 820.6 891.8 823.4 892.0 825.3 891.5 825.8 889.6 825.6 887.7 825.8 885.8 826.6 885.4 827.2 885.7 831.0 883.9 832.0 882.0 831.7 878.1 829.8 876.2 828.3 873.2 823.4 871.5 819.6 870.5 818.5 866.7 816.0 860.9 811.1 859.0 810.8 857.8 812.0 857.3 813.9 857.5 815.8 857.1 816.5 854.9 815.8 852.6 813.9 851.7 812.0 850.7 808.1 850.7 806.2 851.4 805.8 855.2 807.1 857.1 807.5 862.6 804.3 863.9 802.4 864.8 801.9 866.7 803.8 868.0 806.2 870.5 809.2 872.4 810.4 874.3 810.9 876.2 812.4 878.8 815.8 880.0 819.6 882.3 821.5 887.7 824.6 889.4 823.4 888.3 821.5 885.0 817.7 883.9 815.8 883.5 813.9 883.9 812.7 887.7 811.9 893.4 814.9 895.3 813.3 897.2 812.4 901.0 812.5 903.0 813.5 906.6 817.7 904.9 818.5 902.8 817.7 902.4 819.6 904.3 823.4 905.6 829.1 904.9 831.0 902.8 833.0 903.0 837.4 901.0 839.3M924.0 816.5 922.1 814.5 921.7 812.0 922.6 810.0 924.0 809.5 925.8 812.0 925.7 813.9 924.7 815.8 924.0 816.5M780.7 827.4 775.0 827.2 773.1 826.3 770.7 823.4 770.1 821.5 770.1 819.6 771.2 818.6 773.1 818.0 775.0 818.2 778.8 819.7 780.7 821.5 781.4 827.2 780.7 827.4M855.2 846.5 853.3 846.2 851.4 845.1 850.8 844.4 849.2 840.6 847.6 838.3 845.3 836.8 843.2 834.9 843.3 833.0 843.8 832.6 847.6 833.4 849.5 831.0 848.7 829.1 845.7 828.3 843.8 827.1 842.7 825.3 842.5 821.5 842.8 819.6 843.8 819.2 847.6 821.9 849.5 822.7 851.4 820.4 853.3 820.7 856.4 823.4 859.0 828.6 860.9 829.7 861.9 829.1 864.8 825.6 866.7 824.2 868.6 824.8 874.2 829.1 875.6 831.0 874.3 832.3 871.7 833.0 870.5 834.9 872.4 837.3 874.0 838.7 874.3 839.4 875.9 840.6 871.7 842.5 870.5 842.7 868.6 842.2 866.7 842.1 864.8 842.6 862.9 841.0 860.9 838.5 859.0 836.9 857.1 836.7 855.2 837.0 854.7 838.7 855.9 842.5 856.1 844.4 855.7 846.3 855.2 846.5M727.3 828.7 725.4 829.1 723.5 828.0 722.8 827.2 722.9 825.3 725.9 823.4 727.3 820.3 729.2 822.0 730.1 823.4 728.1 825.3 727.3 828.7M746.4 830.5 744.0 829.1 740.6 825.3 739.7 823.4 739.5 821.5 740.7 820.3 742.6 821.5 745.9 825.3 746.8 827.2 747.2 829.1 746.4 830.5M712.0 831.5 710.6 829.1 712.0 824.4 713.9 826.3 714.2 829.1 712.0 831.5M738.7 828.4 736.7 827.2 736.8 825.8 739.2 827.2 738.7 828.4M893.4 827.5 892.9 827.2 893.4 826.7 894.2 827.2 893.4 827.5M895.3 829.4 895.1 829.1 895.3 828.4 896.7 829.1 895.3 829.4M906.8 831.8 904.9 831.0 906.8 830.7 908.3 831.0 906.8 831.8M699.7 838.7 701.1 836.8 701.2 834.9 700.4 833.0 698.6 831.2 696.7 831.1 691.2 836.8 691.0 838.0 690.3 838.7 694.8 840.5 696.7 840.3 699.7 838.7M916.3 837.4 914.4 838.1 912.5 837.8 910.6 836.8 908.5 834.9 907.1 833.0 908.7 831.1 910.6 831.9 915.2 834.9 916.3 836.3 917.8 836.8 916.3 837.4M742.6 844.8 740.7 844.5 732.9 838.7 731.5 836.8 730.8 834.9 731.1 834.6 733.0 834.9 736.5 836.8 740.2 840.6 742.7 844.4 742.6 844.8M776.9 862.4 775.0 862.6 771.2 861.9 766.4 857.8 768.0 855.9 767.4 852.9 765.2 848.2 763.6 846.0 759.4 842.5 759.7 841.6 761.7 841.7 763.2 840.6 762.2 838.7 761.6 836.8 763.6 836.4 765.5 837.3 766.5 838.7 766.2 842.5 768.3 844.4 769.4 846.3 769.4 848.2 770.1 850.1 773.1 852.7 775.0 853.2 775.4 852.1 774.8 850.1 773.1 847.1 772.2 846.3 773.1 845.6 775.0 844.9 778.8 846.2 780.7 846.3 782.7 844.9 784.6 844.7 787.0 842.5 787.9 840.6 787.6 838.7 788.4 836.4 792.2 834.1 792.5 834.9 794.4 836.8 797.9 839.3 799.8 841.4 804.2 848.2 803.7 850.4 801.8 851.8 799.8 852.1 799.4 855.9 797.9 857.2 796.0 856.0 794.1 855.7 792.2 857.6 790.3 857.7 789.2 855.9 786.5 855.4 785.9 855.9 786.2 857.8 786.5 858.4 788.4 859.7 786.5 860.9 784.6 860.5 778.8 856.8 776.9 855.9 776.1 857.8 777.0 861.6 776.9 862.4M929.7 845.4 928.3 842.5 922.8 836.8 925.9 834.4 927.8 833.7 929.7 833.8M838.0 837.8 837.7 836.8 838.0 836.7 838.0 837.8M891.5 851.4 889.6 851.1 885.8 849.6 883.9 849.3 882.0 850.0 880.0 851.2 878.1 850.3 878.1 846.3 876.2 843.1 875.5 842.5 876.2 840.9 878.1 841.8 880.0 841.9 882.0 840.2 887.7 838.1 889.6 836.3 891.5 836.2 893.4 837.1 895.6 838.7 896.3 840.6 895.2 842.5 893.4 843.9 891.5 844.7 890.6 846.3 892.4 850.1 891.5 851.4M839.9 838.8 839.5 838.7 839.9 838.8M759.7 859.6 755.9 856.7 747.8 848.2 746.8 846.3 747.3 844.4 748.3 843.6 750.2 843.4 752.1 844.3 755.9 847.4 761.7 849.6 764.5 852.1 765.3 854.0 763.6 855.8 757.8 851.2 757.4 852.1 757.8 852.9 761.2 857.8 759.7 859.6M929.7 954.1 922.1 953.1 921.2 951.3 920.3 947.5 918.5 943.7 916.3 941.3 914.4 940.6 912.5 941.2 911.8 941.8 912.6 943.7 914.4 945.7 916.3 948.8 918.2 951.1 918.9 951.3 918.2 952.0 914.4 951.8 912.5 951.0 910.6 949.9 906.8 946.0 903.6 943.7 902.1 941.8 901.1 938.0 897.7 932.3 898.3 930.3 899.1 930.2 904.9 931.5 906.7 930.3 906.0 928.4 904.3 926.5 899.0 922.7 895.3 917.5 893.4 917.4 892.6 918.9 890.7 920.8 889.6 922.5 889.1 922.7 889.6 922.8 892.5 926.5 892.6 928.4 891.5 929.6 889.6 929.4 889.3 928.4 886.7 926.5 885.5 924.6 885.8 923.7 886.9 922.7 887.3 920.8 885.8 919.1 883.4 915.1 883.9 913.2 885.8 911.9 887.7 911.7 889.6 912.3 891.5 913.5 892.4 913.2 892.7 911.2 890.7 909.3 887.7 908.0 879.4 899.8 876.5 894.1 876.2 892.0 878.1 891.3 880.0 892.3 880.5 892.2 881.6 890.2 881.1 888.3 878.2 884.5 874.3 881.6 872.5 880.7 873.7 878.8 880.0 876.9 874.3 873.3 869.0 869.2 865.4 865.4 861.4 859.7 859.0 858.2 857.1 858.3 853.3 859.6 851.6 861.6 851.4 863.0 849.5 863.1 845.0 857.8 843.3 854.0 843.4 852.1 843.8 851.0 844.6 850.1 845.7 849.9 849.5 851.1 853.3 851.5 855.2 852.2 857.1 852.1 857.8 850.1 859.0 848.4 860.9 849.0 862.9 850.3 864.3 852.1 865.3 854.0 866.6 857.8 866.5 861.6 867.9 863.5 870.3 865.4 878.1 870.0 879.5 869.2 878.9 867.3 876.2 865.9 874.3 864.3 871.9 861.6 871.1 859.7 871.5 857.8 871.4 852.1 870.8 850.1 872.4 849.9 874.3 850.8 876.2 852.3 878.1 855.0 880.5 859.7 882.0 861.1 883.9 862.2 885.8 862.4 887.7 861.4 891.5 860.9 893.4 859.7 895.3 860.1 899.1 862.4 899.8 861.6 896.6 857.8 894.8 854.0 897.2 852.7 901.0 851.7 902.0 850.1 903.0 846.2 904.9 845.7 906.8 846.6 908.7 846.3 912.5 847.2 913.2 846.3 913.3 844.4 914.4 843.5 916.3 844.0 920.1 846.2 920.9 848.2 918.4 850.1 918.7 852.1 918.2 852.6 912.5 851.9 913.5 854.0 914.9 855.9 918.2 859.1 920.1 859.1 921.6 857.8 921.2 855.9 922.1 854.8 924.0 855.4 925.9 856.9 927.8 859.7 929.7 861.2M796.7 850.1 796.0 849.6 795.6 850.1 796.0 850.6 796.7 850.1M832.3 862.3 828.5 863.0 826.6 862.3 822.8 860.2 819.7 857.8 818.1 855.9 818.3 854.0 818.9 853.3 820.8 853.7 824.7 855.8 826.6 853.9 828.5 853.8 832.9 857.8 833.7 859.7 833.4 861.6 832.3 862.3M765.5 856.7 763.8 855.9 765.5 854.5 766.6 855.9 765.5 856.7M796.0 887.6 794.1 887.7 792.2 887.4 789.2 884.5 788.1 882.6 788.4 881.9 790.2 880.7 789.4 878.8 785.9 875.0 782.7 869.5 780.7 868.0 778.8 865.4 780.7 865.4 782.7 867.1 784.6 866.9 786.5 864.3 788.4 863.5 787.7 861.6 788.4 859.7 790.3 857.9 792.2 860.0 794.0 865.4 793.8 867.3 795.0 869.2 795.4 871.1 792.0 873.1 793.4 875.0 797.7 878.8 798.4 880.7 797.3 882.6 796.9 884.5 797.5 886.4 796.0 887.6M809.4 870.0 807.5 870.3 803.7 869.3 799.8 869.7 799.1 869.2 797.6 867.3 799.8 866.7 800.0 865.4 799.0 859.7 799.8 858.1 805.6 860.1 808.0 861.6 810.6 865.4 811.0 867.3 810.3 869.2 809.4 870.0M883.9 929.8 882.0 930.2 880.0 929.5 876.6 926.5 874.9 924.6 873.9 922.7 874.3 918.9 872.4 917.1 870.5 917.8 868.6 919.3 866.7 918.9 864.7 915.1 862.9 912.4 857.1 906.0 855.2 905.1 854.0 905.5 852.6 907.4 853.3 907.6 857.4 911.2 859.2 915.1 862.3 918.9 862.6 920.8 861.8 922.7 860.9 923.4 859.0 923.9 855.2 923.2 853.3 922.0 852.9 920.8 850.2 918.9 847.6 918.3 846.0 918.9 845.7 920.0 844.9 918.9 843.8 918.6 841.9 916.6 840.8 915.1 839.6 909.3 839.9 909.0 843.8 909.2 845.7 906.7 847.6 906.6 849.5 907.0 850.6 905.5 849.8 903.6 849.3 899.8 851.4 898.5 851.6 897.9 849.5 895.7 849.0 896.0 848.7 897.9 847.6 898.7 841.0 894.1 839.2 892.2 838.0 890.2 836.6 886.4 833.6 882.6 834.2 882.2 836.1 882.2 839.9 884.7 841.9 885.1 843.3 884.5 843.5 882.6 843.0 880.7 843.8 878.7 845.7 878.2 847.8 880.7 848.5 882.6 849.5 883.9 853.3 885.7 857.1 889.8 860.9 895.3 861.8 896.0 862.0 897.9 860.9 898.7 859.0 899.6 857.1 899.5 856.2 899.8 856.8 901.7 859.0 903.1 864.8 904.9 866.1 903.6 866.0 901.7 864.8 898.6 864.0 897.9 864.7 896.0 863.0 890.2 861.9 888.3 855.2 883.4 853.3 882.9 851.4 881.6 850.7 880.7 851.6 876.9 850.8 875.0 848.9 873.1 845.7 870.9 843.8 871.2 841.9 872.4 839.9 871.4 837.8 869.2 835.3 865.4 836.1 864.2 839.9 865.9 840.6 865.4 840.5 863.5 841.7 861.6 843.8 862.2 847.7 865.4 849.4 867.3 851.4 871.1 853.2 873.1 857.1 875.4 862.9 880.3 866.8 884.5 868.0 886.4 868.4 890.2 869.2 892.2 870.5 894.5 873.8 897.9 874.2 899.8 877.1 903.6 877.5 905.5 876.5 907.4 873.9 909.3 873.6 911.2 874.1 913.2 875.6 915.1 878.1 916.9 879.7 918.9 880.1 922.7 883.3 926.5 884.4 928.4 883.9 929.8M929.7 865.4 925.9 862.5 921.7 861.6 920.1 860.4 918.6 861.6 919.0 865.4 919.9 867.3 918.2 868.4 914.8 865.4 910.6 862.6 909.6 863.5 909.2 865.4 908.7 866.3 904.9 868.3 903.0 868.1 901.0 866.9 899.1 866.4 895.3 867.0 891.6 869.2 890.1 871.1 890.4 873.1 889.6 874.1 887.7 874.3 882.0 872.5 881.4 873.1 882.8 876.9 884.7 878.8 885.0 880.7 884.9 882.6 885.8 884.5 890.7 892.2 892.5 896.0 893.4 897.2 895.3 898.5 899.1 899.8 904.9 904.1 906.8 904.4 907.7 903.6 907.8 901.7 908.7 901.1 912.5 903.3 913.5 901.7 913.9 899.8 912.5 897.8 908.7 894.8 903.0 893.0 901.6 894.1 901.0 895.4 899.1 896.2 894.4 890.2 893.4 888.3 893.0 886.4 893.4 884.3 897.2 885.0 898.1 884.5 899.3 882.6 899.1 880.5 901.0 879.5 903.0 880.7 904.0 880.7 904.5 878.8 905.7 876.9 906.3 875.0 905.4 871.1 906.8 870.6 918.3 878.8 924.0 884.5 926.2 888.3 925.9 889.2 924.0 889.7 923.3 888.3 922.1 887.8 920.7 886.4 916.3 883.4 912.5 882.5 910.6 882.5 908.0 884.5 907.7 886.4 907.9 888.3 908.7 890.7 910.6 892.7 913.1 894.1 914.4 894.6 916.3 894.8 916.8 894.1 913.7 888.3 914.4 887.6 916.3 888.1 918.2 889.1 920.1 889.5 922.1 889.3 923.6 890.2 925.9 890.9 929.7 895.5M767.2 980.0 763.3 976.2 762.6 974.3 763.6 973.9 764.3 972.4 762.0 966.6 761.7 964.7 761.9 962.8 765.9 960.9 767.7 959.0 770.8 957.1 770.3 955.2 765.5 948.1 761.7 945.4 758.1 941.8 756.0 938.0 755.8 936.1 755.9 932.9 757.9 930.3 757.3 928.4 757.8 926.5 763.6 927.8 765.5 927.9 767.4 927.6 769.1 926.5 768.8 924.6 767.4 922.5 765.8 918.9 764.2 917.0 763.6 916.5 761.7 916.3 757.8 918.8 755.9 919.6 752.1 919.4 748.3 920.6 746.4 919.4 741.1 911.2 741.6 909.3 742.6 908.6 744.5 908.8 746.4 908.4 748.2 907.4 746.4 905.5 744.5 904.1 742.6 903.8 740.7 905.7 736.8 904.0 735.9 905.5 736.8 907.3 738.4 909.3 738.9 911.2 738.4 915.1 739.5 917.0 744.5 922.2 748.3 924.7 751.4 928.4 751.8 930.3 749.3 932.3 750.3 934.2 750.7 936.1 750.2 936.6 748.3 937.3 746.0 936.1 745.0 934.2 745.7 930.3 742.6 927.9 738.7 928.7 734.9 926.7 731.1 926.8 727.3 926.2 726.1 926.5 725.4 927.2 723.5 930.2 715.8 928.1 713.9 927.6 708.2 923.2 700.6 919.7 699.5 918.9 698.1 917.0 697.2 915.1 698.6 913.7 700.6 913.9 706.3 917.0 710.1 918.6 715.8 919.2 716.2 918.9 715.1 917.0 712.0 914.7 708.2 912.2 704.4 911.1 701.8 909.3 703.5 907.4 704.4 907.2 710.1 909.7 712.0 909.3 713.9 909.4 720.2 913.2 721.7 917.0 723.0 918.9 725.4 921.0 732.8 924.6 733.0 925.1 734.3 924.6 734.0 922.7 728.1 915.1 728.0 913.2 725.4 908.8 723.9 903.6 724.0 897.9 725.4 896.0 729.2 897.7 731.1 897.7 732.8 894.1 730.3 890.2 731.6 888.3 731.8 886.4 729.5 882.6 730.5 880.7 729.9 878.8 727.2 875.0 726.5 873.1 727.3 872.8 728.2 871.1 727.9 869.2 726.7 867.3 723.5 864.5 719.6 863.2 718.0 863.5 717.7 866.3 713.9 864.6 712.0 864.5 710.1 866.8 709.2 867.3 708.6 869.2 712.0 872.3 715.8 874.1 719.5 876.9 721.1 878.8 723.6 882.6 724.2 884.5 724.4 888.3 723.5 891.8 721.6 893.0 719.1 892.2 717.8 890.2 717.4 888.3 715.3 884.5 715.8 883.2 717.7 883.1 718.3 882.6 715.8 882.4 713.9 881.6 713.1 880.7 710.1 879.7 706.3 879.4 702.5 878.5 698.6 875.1 696.7 874.0 695.7 875.0 696.7 877.2 698.6 878.2 700.6 878.5 702.5 879.5 704.4 883.2 705.5 884.5 705.8 888.3 706.8 892.2 706.3 892.9 702.5 892.0 702.2 892.2 702.2 894.1 704.4 898.1 710.7 903.6 710.6 905.5 710.1 905.7 706.3 902.7 704.4 902.1 702.5 902.8 700.6 903.0 692.9 900.1 687.2 896.6 683.4 895.3 681.5 893.6 680.3 892.2 679.9 890.2 681.5 890.0 685.3 890.7 687.2 891.4 689.1 892.9 692.9 894.9 694.8 894.9 695.4 894.1 694.0 888.3 689.1 882.8 687.2 881.5 685.3 881.2 677.6 881.2 675.7 883.3 671.9 882.5 670.0 882.7 668.1 881.8 666.2 881.5 664.3 881.9 663.3 882.6 663.1 884.5 662.4 885.4 660.5 885.5 658.5 884.5 657.4 880.7 654.0 876.9 652.8 876.1 651.0 878.8 655.5 884.5 654.8 888.3 655.7 890.2 658.2 892.2 659.9 894.1 660.1 896.0 660.8 897.9 662.4 899.7 666.2 902.3 668.1 902.0 667.1 897.9 668.1 896.1 671.9 900.2 677.6 903.3 681.5 905.9 685.3 907.7 692.4 917.0 696.9 920.8 698.6 922.7 698.1 924.6 696.7 926.5 694.8 926.3 692.9 925.3 686.2 917.0 677.6 909.2 675.7 908.4 673.8 909.2 671.9 909.1 666.2 907.6 664.3 909.4 663.5 907.4 660.5 906.5 658.5 906.3 656.6 904.0 655.2 897.9 652.8 893.1 649.0 887.2 648.2 884.5 647.1 883.2 645.2 883.1 640.3 888.3 640.4 890.2 643.3 891.2 644.0 892.2 644.3 894.1 643.3 894.9 641.4 895.3 639.4 895.1 637.5 893.4 635.6 893.5 635.1 894.1 635.6 894.5 637.5 894.7 638.3 896.0 639.1 901.7 640.2 903.6 641.4 904.5 643.3 905.5 645.2 905.7 647.1 905.3 650.9 906.7 656.6 907.1 658.5 908.7 659.2 911.2 658.5 912.4 656.2 913.2 656.6 915.1 660.5 916.5 664.2 918.9 663.8 920.8 662.4 922.3 661.2 922.7 662.4 923.1 663.5 926.5 662.8 928.4 660.5 929.0 656.6 929.0 654.7 928.7 652.8 927.3 652.1 926.5 651.8 924.6 652.8 923.0 654.7 923.1 656.6 924.0 658.5 924.0 660.2 922.7 659.2 920.8 656.6 919.6 654.7 919.3 652.8 920.2 650.9 919.5 649.0 918.0 643.5 913.2 638.2 909.3 637.3 905.5 636.1 903.6 631.8 899.7 629.9 898.8 627.2 901.7 626.1 905.8 622.3 908.4 620.4 907.8 611.3 917.0 610.8 918.5 608.9 919.6 605.8 922.7 605.3 924.6 608.9 927.8 610.3 928.4 608.9 929.1 603.2 927.0 601.3 927.6 600.4 928.4 603.2 930.6 604.1 932.3 604.5 934.2 603.8 936.1 602.2 938.0 601.3 938.5 599.3 938.4 598.0 939.9 599.0 941.8 606.6 947.5 610.2 951.3 612.7 955.2 620.4 960.4 626.1 963.2 631.8 967.6 635.6 968.2 641.4 970.8 643.0 972.4 643.5 974.3 645.2 977.0 647.1 978.8 649.8 980.0M826.6 877.1 824.7 877.6 822.8 877.1 820.8 875.1 820.7 871.1 820.2 869.2 819.1 867.3 818.6 865.4 818.9 865.0 820.8 864.2 822.8 864.3 824.7 865.4 826.7 867.3 827.8 869.2 827.9 871.1 826.2 873.1 826.6 877.1M719.6 868.5 718.2 867.3 719.6 866.8 720.1 867.3 719.6 868.5M721.6 869.7 720.3 869.2 721.6 868.7 722.1 869.2 721.6 869.7M929.7 883.9 927.8 881.6 924.6 878.8 924.0 877.7 923.6 876.9 924.0 875.8 925.5 875.0 924.0 874.3 923.2 873.1 920.1 869.9 919.1 869.2 920.1 867.6 925.9 871.7 926.8 873.1 926.0 875.0 926.2 876.9 929.7 879.7M669.9 873.1 668.1 870.8 667.6 871.1 667.2 873.1 668.1 874.2 669.9 873.1M778.8 883.5 776.9 883.0 775.1 880.7 774.5 878.8 774.5 875.0 775.1 873.1 776.9 871.2 778.8 870.9 780.7 872.5 783.4 876.9 782.7 878.4 778.8 878.8 780.0 882.6 778.8 883.5M813.2 925.2 807.5 924.7 805.2 922.7 807.4 920.8 807.5 918.9 804.5 913.2 802.2 907.4 801.8 907.1 799.8 906.4 797.9 906.4 796.0 907.1 792.9 909.3 791.2 913.2 790.3 914.1 788.4 913.0 787.2 913.2 786.5 914.7 782.7 914.0 778.8 914.2 776.9 913.3 769.3 908.0 767.2 905.5 766.2 903.6 767.4 902.5 769.3 902.4 771.2 903.3 776.9 907.3 778.8 907.8 779.7 907.4 780.2 903.6 780.0 901.7 780.7 900.7 783.6 903.6 784.6 905.0 786.5 906.2 787.4 905.5 788.4 903.5 790.3 903.0 792.3 903.6 794.1 900.2 796.0 899.0 796.6 897.9 792.9 894.1 791.8 892.2 792.2 891.3 794.1 890.5 796.0 890.8 797.9 891.1 803.7 893.2 805.9 892.2 806.8 890.2 804.5 884.5 801.5 878.8 801.9 876.9 803.7 874.2 805.6 874.7 807.6 876.9 808.1 878.8 807.2 880.7 808.1 882.6 811.3 885.9 813.2 886.2 815.1 885.9 817.0 886.2 818.5 884.5 818.5 880.7 818.9 880.0 820.8 879.8 823.2 882.6 824.7 887.0 828.5 890.9 830.4 894.1 829.7 896.0 828.5 896.2 826.0 894.1 822.8 889.9 820.8 890.3 818.9 895.3 815.1 893.3 813.2 892.8 811.3 893.2 809.4 894.1 805.6 897.0 805.3 897.9 806.7 899.8 813.2 905.5 815.9 907.4 817.5 909.3 817.5 913.2 817.0 913.4 815.1 912.0 811.3 910.7 809.4 910.6 809.2 911.2 815.1 917.4 817.0 917.9 818.9 919.1 820.0 920.8 820.6 922.7 818.9 924.4 817.0 924.0 813.2 925.2M848.6 886.4 847.6 884.8 845.7 884.3 844.4 884.5 845.7 885.0 846.5 886.4 847.6 887.0 848.6 886.4M786.5 898.6 784.6 898.0 781.6 896.0 780.7 894.9 778.8 894.1 778.1 896.0 776.9 897.0 774.9 894.1 775.0 893.4 776.9 892.5 778.8 894.1 780.7 889.4 784.3 888.3 784.6 887.0 786.5 888.8 787.8 894.1 788.0 897.9 786.5 898.6M666.2 896.0 666.4 896.0 666.2 896.0M743.1 901.7 742.8 899.8 740.7 897.1 736.8 894.9 735.5 896.0 740.7 901.1 741.8 901.7 742.6 903.3 743.1 901.7M767.4 896.2 765.5 896.0 765.5 895.1 767.4 895.9 767.4 896.2M839.9 900.1 838.0 899.6 836.1 898.2 834.3 896.0 836.1 894.1 838.0 894.7 839.3 896.0 840.3 897.9 840.3 899.8 839.9 900.1M778.8 900.2 778.6 897.9 778.8 897.6 779.4 899.8 778.8 900.2M817.0 903.2 813.2 899.8 815.1 898.6 817.0 899.8 818.2 901.7 817.0 903.2M834.2 906.6 832.3 906.3 830.4 904.0 830.0 901.7 830.4 900.6 832.3 901.0 834.6 903.6 835.4 905.5 834.2 906.6M929.7 901.6 929.7 901.8M826.6 910.1 824.7 909.7 820.8 908.0 818.9 905.9 817.6 903.6 818.9 902.6 820.8 904.2 824.8 905.5 826.6 906.7 827.3 907.4 827.3 909.3 826.6 910.1M929.7 921.8 925.9 918.4 918.2 915.0 916.4 913.2 916.7 909.3 914.4 906.2 913.2 905.5 912.5 904.3 910.6 905.7 910.0 907.4 911.1 909.3 914.4 912.9 915.9 913.2 916.3 915.9 918.7 920.8 918.7 922.7 919.4 924.6 929.7 933.6M755.5 907.4 754.0 906.3 752.1 907.1 749.0 907.4 754.0 908.1 755.5 907.4M645.2 921.6 643.3 922.1 641.4 921.2 631.8 915.0 629.9 914.5 629.3 915.1 629.0 917.0 628.0 918.2 626.1 918.2 624.2 916.4 623.4 915.1 623.3 913.2 624.2 910.5 626.1 910.8 629.9 908.2 631.8 907.5 633.7 908.2 634.8 909.3 636.0 913.2 637.4 915.1 643.9 918.9 645.4 920.8 645.2 921.6M917.8 932.3 915.2 924.6 914.2 922.7 909.2 918.9 907.4 917.0 906.8 915.0 903.8 911.2 901.0 910.2 899.1 910.3 898.2 911.2 899.8 913.2 903.0 915.6 905.5 917.0 907.1 918.9 907.4 920.8 906.5 924.6 908.4 928.4 910.1 930.3 916.3 933.9 917.8 932.3M928.5 915.1 929.0 913.2 927.1 911.2 925.9 910.6 923.6 911.2 924.4 913.2 925.9 914.8 927.8 915.7 928.5 915.1M818.9 915.2 818.9 914.9 818.9 915.2M832.3 915.1 832.3 915.1M827.5 980.0 827.3 978.1 824.0 974.3 824.7 973.7 826.6 973.2 828.5 973.3 834.2 975.8 836.1 975.8 838.5 974.3 839.8 972.4 836.7 968.5 832.3 964.8 830.4 962.5 828.5 960.7 826.6 959.7 824.8 960.9 825.1 962.8 824.7 965.3 822.8 966.3 818.9 965.3 817.0 968.5 815.1 968.7 809.4 967.0 805.6 962.4 803.7 961.0 801.8 960.6 801.2 960.9 799.9 962.8 800.5 964.7 801.6 966.6 799.8 967.7 797.5 968.5 798.1 970.4 799.8 972.4 797.9 974.2 795.5 970.4 792.2 966.9 790.3 965.3 788.4 964.7 788.0 962.8 788.8 962.8 790.3 963.7 790.7 962.8 790.3 960.5 788.5 957.1 790.3 956.7 794.2 957.1 794.2 955.2 790.2 951.3 789.0 949.4 789.6 945.6 788.5 941.8 788.4 939.9 786.7 936.1 782.2 930.3 782.7 929.5 784.6 929.7 787.9 932.3 792.2 936.9 794.1 937.3 794.7 936.1 793.7 930.3 792.4 928.4 786.5 922.7 785.1 920.8 786.5 920.2 788.4 919.9 790.3 917.9 791.8 917.0 792.2 916.3 792.9 917.0 794.1 917.5 796.3 920.8 798.6 922.7 802.3 924.6 807.5 929.2 813.2 935.4 815.1 936.7 818.9 934.3 822.8 934.3 824.7 935.6 826.0 939.9 826.1 943.7 825.0 945.6 822.8 947.5 824.1 949.4 827.7 953.3 828.6 955.2 830.4 956.7 832.9 957.1 838.0 953.7 839.9 954.1 841.9 955.1 847.3 959.0 848.4 960.9 848.8 962.8 847.6 964.4 845.7 964.2 844.3 964.7 843.6 966.6 843.7 968.5 844.9 972.4 846.6 974.3 849.5 975.5 851.4 976.8 854.7 980.0M849.5 953.7 847.6 953.2 844.1 951.3 841.6 947.5 839.9 946.2 838.0 945.7 835.6 943.7 833.3 939.9 830.4 936.7 824.7 932.8 823.1 930.3 821.5 926.5 822.8 924.9 824.7 924.9 825.4 924.6 825.7 922.7 825.0 920.8 823.3 918.9 822.8 917.8 821.3 917.0 824.7 915.9 826.6 916.9 830.5 920.8 834.2 923.6 839.9 926.0 845.7 929.1 847.6 929.2 848.4 930.3 849.5 930.9 851.4 932.5 853.3 933.3 855.2 933.7 856.0 932.3 856.1 930.3 857.1 929.4 859.0 928.4 860.9 928.5 865.1 932.3 867.0 936.1 867.8 939.9 866.7 940.6 864.8 938.0 859.0 935.7 858.5 936.1 860.2 939.9 859.0 941.6 855.9 939.9 851.4 935.9 849.5 935.3 849.0 936.1 849.3 938.0 851.8 941.8 852.3 943.7 851.4 945.1 849.5 945.1 848.2 945.6 850.2 951.3 850.1 953.3 849.5 953.7M679.5 920.1 678.8 918.9 679.5 918.2 680.7 918.9 679.5 920.1M657.1 980.0 652.8 975.8 650.9 974.6 644.2 972.4 642.2 970.4 642.6 968.5 642.2 962.8 641.6 960.9 639.4 958.1 637.5 956.7 633.7 955.6 628.0 950.7 624.2 949.2 620.4 946.4 618.4 945.9 616.9 947.5 614.6 947.8 610.8 945.8 608.2 943.7 607.1 941.8 607.4 939.9 608.9 939.0 616.5 939.9 617.4 939.9 618.4 939.1 618.4 938.0 616.7 934.2 614.6 931.7 612.7 930.6 610.5 930.3 610.8 929.4 612.7 930.1 614.0 928.4 614.2 926.5 614.1 924.6 611.1 920.8 612.7 920.0 614.6 921.7 616.6 922.7 618.6 924.6 621.4 928.4 622.5 932.3 623.4 934.2 625.0 936.1 625.9 938.0 623.2 939.9 622.0 941.8 623.6 943.7 628.0 946.6 629.9 947.0 637.1 945.6 635.5 941.8 637.5 941.7 640.4 943.7 643.8 947.5 647.1 950.1 650.9 948.2 652.1 945.6 651.0 943.7 649.0 941.6 645.2 939.2 643.3 937.5 642.3 936.1 640.1 930.3 641.4 929.3 644.3 930.3 647.1 932.3 649.2 936.1 650.9 936.9 652.8 938.6 658.5 944.8 660.5 946.0 664.5 939.9 668.1 937.9 670.0 938.6 673.8 940.9 675.6 939.9 675.4 936.1 673.8 935.0 671.7 932.3 671.6 930.3 671.9 930.0 673.8 929.8 675.7 930.8 677.1 932.3 677.8 934.2 676.4 936.1 679.5 938.3 681.5 936.8 683.4 936.9 685.3 938.6 687.0 941.8 687.5 943.7 689.1 945.6 694.8 948.8 698.6 949.7 702.5 952.6 704.4 953.6 706.3 953.6 706.7 953.3 707.1 951.3 705.6 949.4 701.8 945.6 699.1 941.8 698.3 938.0 698.6 936.1 702.5 933.5 704.4 933.8 706.3 935.4 707.7 936.1 708.2 936.9 709.1 939.9 709.2 945.6 710.1 947.9 712.8 951.3 718.8 957.1 719.9 959.0 719.1 962.8 717.7 964.7 715.8 963.9 713.9 963.8 712.0 965.2 708.7 968.5 707.5 970.4 707.2 972.4 709.0 974.3 712.0 976.2 716.0 978.1 718.7 980.0M670.0 922.5 668.1 920.8 670.0 919.8 671.5 920.8 670.0 922.5M681.5 921.2 681.0 920.8 681.5 920.4 681.5 921.2M671.9 923.6 670.2 922.7 671.9 921.2 672.8 922.7 671.9 923.6M720.4 924.6 717.7 921.4 717.7 924.9 719.6 925.5 720.4 924.6M849.5 929.8 847.6 928.3 844.7 924.6 844.9 922.7 845.7 921.1 850.6 924.6 851.5 926.5 850.9 928.4 849.5 929.8M673.8 925.0 673.4 924.6 673.8 924.2 674.3 924.6 673.8 925.0M696.7 936.7 694.8 937.1 689.1 934.8 685.3 935.1 684.1 934.2 682.7 932.3 682.1 930.3 682.4 928.4 682.3 926.5 683.1 924.6 683.4 924.5 686.1 926.5 689.1 930.3 692.9 929.0 694.8 929.2 696.1 930.3 697.2 934.2 698.5 936.1 696.7 936.7M820.8 924.9 820.1 924.6 820.8 923.8 821.6 924.6 820.8 924.9M629.9 935.7 628.0 934.8 625.5 932.3 624.5 930.3 626.1 929.2 627.0 926.5 628.0 925.8 632.7 928.4 634.7 930.3 635.3 932.3 633.7 933.9 631.2 934.2 629.9 935.7M675.7 926.7 675.7 926.3 675.7 926.7M883.8 980.0 889.6 978.1 889.6 976.0 892.2 974.3 892.3 972.4 891.8 970.4 887.6 966.6 886.5 964.7 885.7 960.9 886.2 957.1 887.7 955.3 889.6 954.4 890.4 953.3 890.2 951.3 887.7 948.4 886.3 947.5 885.8 946.5 883.9 946.1 881.6 947.5 881.5 949.4 882.5 951.3 882.0 952.8 880.0 952.4 876.2 949.8 872.4 949.1 870.1 947.5 868.9 945.6 870.5 943.7 874.3 946.8 876.2 947.5 877.9 945.6 878.1 943.6 880.0 943.5 883.9 945.4 885.8 945.3 887.7 944.5 888.3 943.7 885.8 941.5 878.1 937.6 874.3 936.0 871.7 934.2 870.2 932.3 869.8 930.3 870.0 926.5 870.5 925.3 872.4 925.4 874.3 926.8 875.7 928.4 878.1 932.8 880.0 934.3 885.8 933.6 887.7 931.6 889.6 930.6 891.5 930.7 892.7 932.3 893.2 934.2 892.5 936.1 892.7 938.0 896.4 943.7 897.2 945.6 898.8 947.5 902.9 951.3 904.2 955.2 905.6 957.1 909.3 960.9 910.4 962.8 914.4 967.9 916.3 969.1 920.1 969.8 922.7 972.4 923.0 974.3 922.1 974.7 918.2 973.7 916.3 973.8 916.0 974.3 917.8 978.1 920.1 979.3 925.0 980.0M836.3 932.3 835.2 930.3 832.3 928.0 830.4 927.6 829.3 928.4 830.5 930.3 833.2 932.3 836.1 933.2 836.3 932.3M770.9 939.9 771.5 938.0 770.4 936.1 767.4 933.3 765.5 932.1 763.5 932.3 761.9 934.2 765.5 939.7 767.4 941.2 769.3 941.4 770.9 939.9M778.8 934.2 778.8 933.9 778.8 934.2M804.4 938.0 803.7 936.0 801.8 933.6 801.1 934.2 800.0 936.1 800.9 938.0 801.8 938.6 803.7 939.2 804.4 938.0M656.6 936.6 655.5 936.1 656.6 935.8 657.1 936.1 656.6 936.6M733.0 942.6 731.1 942.4 728.5 939.9 727.5 938.0 727.7 936.1 729.2 934.9 736.1 936.1 738.3 938.0 738.7 939.9 736.8 940.9 734.9 941.4 733.0 942.6M868.6 945.1 867.6 941.8 868.6 940.4 869.1 941.8 870.5 943.7 868.6 945.1M638.7 980.0 637.0 978.1 634.9 974.3 633.2 972.4 629.9 970.6 626.1 969.5 622.3 967.6 616.5 961.4 614.6 960.1 607.0 957.3 605.1 956.0 604.3 955.2 604.5 953.3 606.3 951.3 605.1 950.1 601.3 949.1 599.3 947.8 595.5 944.2 593.6 943.5 591.7 943.7 591.5 945.6 591.8 947.5 593.4 951.3 591.7 952.9 589.8 953.5 588.0 955.2 588.8 957.1 590.9 959.0 597.4 963.5 599.2 962.8 597.8 957.1 599.3 956.4 603.2 958.3 604.9 960.9 605.1 962.8 603.2 964.6 601.3 965.4 600.4 966.6 601.3 969.7 603.3 972.4 607.0 973.6 610.8 973.1 612.7 973.9 615.1 976.2 616.2 978.1 616.5 980.0M818.9 951.3 818.4 949.4 818.8 947.5 818.7 945.6 815.1 942.4 813.2 942.7 812.6 943.7 812.9 945.6 814.0 947.5 815.1 948.9 818.9 951.3M692.1 980.0 683.9 972.4 682.6 970.4 682.1 966.6 679.5 963.4 678.3 962.8 677.6 961.7 676.5 960.9 677.0 959.0 678.3 957.1 678.4 955.2 673.8 946.1 671.9 944.6 670.0 944.1 668.3 945.6 671.3 949.4 671.9 951.3 671.9 955.2 670.0 956.3 668.1 956.0 666.2 954.6 664.3 952.6 664.0 953.3 668.5 959.0 670.0 960.3 671.9 961.3 673.8 961.6 675.1 962.8 674.1 964.7 673.8 966.6 675.0 968.5 680.1 972.4 686.9 980.0M754.0 967.2 750.2 966.5 748.3 966.8 746.4 966.5 744.5 964.1 742.9 960.9 742.8 957.1 742.2 955.2 740.6 953.3 734.9 949.5 734.3 947.5 734.9 947.1 738.7 948.3 740.7 948.1 742.6 945.3 747.6 947.5 750.2 949.4 750.2 951.7 750.2 949.4 752.1 948.3 755.9 949.5 757.8 948.8 760.0 949.4 761.7 951.4 763.5 955.2 763.2 957.1 761.7 958.3 759.7 959.4 757.8 958.9 754.4 957.1 752.1 955.4 749.0 957.1 749.8 959.0 752.1 962.2 754.9 964.7 754.9 966.6 754.0 967.2M579.1 957.1 578.0 953.3 578.3 951.7 580.3 951.5 582.2 951.8 584.2 951.3 584.0 949.4 582.2 946.2 578.7 949.4 578.2 951.3 576.4 952.0 572.9 955.2 572.8 957.1 574.5 958.3 576.4 959.0 578.3 958.4 579.1 957.1M818.7 959.0 819.7 957.1 818.4 955.2 813.2 949.7 812.5 949.4 809.4 948.9 807.5 949.0 807.2 949.4 808.3 951.3 808.5 953.3 807.5 955.1 805.8 953.3 801.8 950.9 800.9 951.3 801.7 953.3 803.7 955.2 805.6 955.8 807.5 955.2 809.4 955.3 817.0 960.6 818.7 959.0M874.3 973.9 872.4 973.3 866.7 968.8 864.8 967.7 862.9 965.8 860.8 962.8 861.1 960.9 864.8 958.4 866.7 959.6 868.6 962.0 870.5 963.8 872.4 964.1 872.8 962.8 870.5 958.4 868.6 956.9 866.7 956.1 864.8 954.4 862.2 951.3 862.9 950.3 864.8 950.9 868.6 954.1 870.5 954.7 874.3 954.3 875.9 955.2 877.7 957.1 881.2 962.8 881.6 966.6 883.6 970.4 882.0 971.8 876.2 971.7 874.3 973.9M624.2 953.8 623.9 953.3 624.2 952.7 624.8 953.3 624.2 953.8M662.0 974.3 663.1 972.4 659.3 966.6 658.5 964.7 658.5 962.7 659.8 960.9 660.5 959.0 660.0 957.1 658.7 955.2 656.6 953.8 654.7 953.4 650.9 955.7 649.0 954.8 647.1 953.4 645.2 952.6 643.3 952.9 642.7 953.3 642.2 955.2 643.8 959.0 645.0 960.9 650.5 966.6 652.2 970.4 653.6 972.4 658.5 975.5 660.5 976.1 662.0 974.3M929.7 975.0 926.9 972.4 925.1 968.5 924.0 967.0 922.1 966.9 920.1 967.2 918.2 966.1 911.7 959.0 910.0 955.2 910.1 953.3 910.6 952.8 912.5 953.1 920.1 957.1 922.1 957.6 924.0 957.4 929.7 959.5M920.1 954.0 919.4 953.3 920.1 952.4 921.8 953.3 920.1 954.0M626.1 956.3 625.1 955.2 626.1 954.1 626.8 955.2 626.1 956.3M922.1 955.2 922.1 955.2M628.0 957.9 627.2 957.1 628.0 956.7 628.3 957.1 628.0 957.9M734.9 968.4 731.5 966.6 732.2 964.7 734.5 962.8 733.0 960.1 733.0 957.4 734.9 957.9 737.3 960.9 736.8 962.7 735.0 964.7 735.7 966.6 734.9 968.4M588.5 980.0 587.9 978.0 586.0 975.6 584.1 975.1 580.3 973.3 573.6 968.5 572.2 966.6 570.7 963.3 568.8 961.3 566.9 961.4 562.7 966.6 563.1 967.9 563.6 968.5 563.1 968.9 562.3 972.4 562.4 976.2 563.2 978.1 563.1 978.8 557.3 977.2 555.4 977.5 553.5 978.3 551.6 977.3 550.9 978.1 549.7 978.4M849.5 965.7 848.7 964.7 849.5 964.3 850.1 964.7 849.5 965.7M860.5 980.0 861.4 978.1 860.4 976.2 850.3 970.4 849.7 968.5 849.8 966.6 851.4 965.3 853.3 965.7 857.1 966.0 862.9 967.7 864.8 970.1 865.9 972.4 866.7 976.2 868.6 978.1 872.0 980.0M620.4 973.3 618.4 973.0 617.1 972.4 616.1 970.4 616.5 970.1 619.8 970.4 622.2 972.4 620.4 973.3M725.4 974.9 723.4 974.3 722.3 972.4 722.4 970.4 723.5 969.6 725.4 971.2 727.0 974.3 725.4 974.9M911.1 976.2 909.1 972.4 906.8 969.6 904.9 969.0 903.0 969.8 901.0 969.8 897.2 968.9 895.3 970.4 896.9 972.4 899.1 973.8 901.0 974.6 903.0 973.9 904.9 974.3 908.7 977.0 910.6 977.2 911.1 976.2M699.1 980.0 700.6 979.4 702.5 977.4 703.0 976.2 703.2 974.3 701.6 972.4 698.6 971.3 696.7 971.3 694.5 972.4 693.0 974.3 693.0 976.2 694.8 978.9 696.7 979.8 697.9 980.0M742.1 980.0 738.7 976.5 735.8 974.3 736.8 972.2 740.7 975.7 744.5 977.9 745.1 976.2 746.4 975.1 748.3 975.9 750.1 978.1 748.3 979.5 746.4 978.6 744.7 980.0M626.5 980.0 622.1 974.3 622.3 972.9 629.0 978.1 630.6 980.0M811.9 980.0 812.7 978.1 815.1 974.5 817.0 975.5 820.3 978.1 823.8 980.0M578.3 980.0 580.3 977.1 582.2 976.9 583.7 978.1 584.4 980.0M605.1 980.0 601.3 977.0 600.6 978.1 601.8 980.0M666.2 980.0 664.3 978.3 662.4 977.7 660.8 980.0M749.2 980.0 750.2 978.3 751.1 980.0M773.1 980.0 770.9 980.0M836.2 980.0 834.2 979.1 832.8 980.0M898.1 980.0 897.2 979.5 896.5 980.0" stroke="#45c0c0"/>
<path d="M929.7 640.4 927.8 639.0 927.3 638.2 926.8 634.4 927.8 633.5 929.7 634.7M820.8 718.9 820.2 718.4 820.8 718.1 821.2 718.4 820.8 718.9M855.2 728.1 855.0 727.9 855.2 727.0 855.7 727.9 855.2 728.1M828.5 759.1 827.2 758.5 828.5 757.6 830.0 758.5 828.5 759.1M903.0 770.6 901.0 769.9 900.0 768.0 901.0 767.2 903.2 768.0 903.7 769.9 903.0 770.6M929.7 793.2 925.9 791.8 924.6 791.0 923.7 789.0 924.0 788.1 925.9 787.5 927.8 788.2 929.7 789.5M775.0 801.0 773.1 800.3 771.5 798.6 770.7 796.7 771.2 796.0 773.1 795.8 775.0 797.5 775.7 798.6 775.7 800.5 775.0 801.0M731.1 817.0 729.2 817.0 727.6 815.8 726.6 813.9 727.5 812.0 729.2 810.5 731.1 810.4 732.5 812.0 733.3 813.9 732.7 815.8 731.1 817.0M754.0 823.0 753.5 821.5 754.0 820.3 755.1 821.5 754.0 823.0M755.9 823.8 754.8 823.4 755.9 822.6 755.9 823.8M725.4 827.5 725.0 827.2 724.9 825.3 725.4 825.0 725.8 825.3 725.7 827.2 725.4 827.5M712.0 839.0 710.1 839.8 708.2 838.7 708.2 836.8 710.1 835.4 712.1 836.8 712.4 838.7 712.0 839.0M866.7 837.1 866.4 836.8 866.7 836.3 867.2 836.8 866.7 837.1M906.8 853.2 906.8 852.0 906.8 853.2M912.5 859.8 910.6 858.3 906.9 854.0 908.7 853.1 910.6 854.8 912.9 857.8 912.5 859.8M803.7 864.8 802.9 863.5 803.7 862.9 805.4 863.5 803.7 864.8M805.6 865.8 804.3 865.4 805.6 863.8 806.2 865.4 805.6 865.8M662.4 878.2 660.5 878.3 658.5 876.1 656.9 873.1 658.5 870.6 660.8 871.1 662.6 876.9 662.4 878.2M857.1 896.0 857.1 895.6 857.1 896.0M748.3 901.9 746.4 899.6 748.5 899.8 748.9 901.7 748.3 901.9M733.0 909.7 730.4 907.4 729.2 905.9 728.9 905.5 729.2 904.4 731.1 904.9 733.0 907.0 733.9 909.3 733.0 909.7M906.8 909.5 906.8 909.2 906.8 909.5M908.7 912.1 908.2 911.2 908.7 910.7 909.2 911.2 908.7 912.1M755.9 915.6 754.0 916.0 748.3 915.8 746.4 915.2 745.7 913.2 746.4 912.7 752.1 913.1 754.0 911.9 755.9 912.1 757.8 913.2 757.0 915.1 755.9 915.6M910.6 914.1 909.9 913.2 910.6 912.7 910.9 913.2 910.6 914.1M713.9 925.2 712.0 924.0 710.9 922.7 711.5 920.8 713.9 920.5 714.4 920.8 715.4 922.7 714.8 924.6 713.9 925.2M694.8 934.6 692.9 935.2 691.1 934.2 690.8 932.3 692.9 931.0 694.8 932.0 695.2 934.2 694.8 934.6M845.7 938.4 843.8 938.1 841.9 936.4 840.2 934.2 841.9 932.7 843.8 933.6 845.3 936.1 845.7 938.4M809.4 937.3 808.8 936.1 809.4 935.7 809.7 936.1 809.4 937.3M706.3 948.8 702.9 945.6 701.5 943.7 700.9 941.8 700.8 938.0 702.5 936.3 704.4 936.8 705.7 938.0 706.9 939.9 707.9 947.5 706.3 948.8M887.7 939.1 887.2 938.0 888.4 938.0 887.7 939.1M889.6 940.7 888.0 939.9 889.6 938.6 890.6 939.9 889.6 940.7M587.9 949.4 586.0 948.3 584.6 945.6 586.0 944.4 587.9 946.2 588.7 947.5 587.9 949.4M704.4 972.3 698.6 970.7 696.7 970.5 694.8 970.8 692.9 971.7 689.1 972.0 687.2 971.9 685.3 970.6 682.0 964.7 680.5 962.8 679.9 960.9 681.0 957.1 681.3 953.3 679.2 947.5 679.2 945.6 679.5 945.0 681.5 943.9 683.4 944.4 688.3 947.5 693.0 949.4 695.5 951.3 696.9 953.3 698.6 954.2 702.5 954.5 706.3 955.4 710.1 953.0 713.8 955.2 715.6 957.1 715.6 960.9 712.0 962.2 709.2 966.6 704.4 972.3M922.1 945.9 922.1 945.5 922.7 945.6 922.1 945.9M925.9 950.8 924.0 949.8 922.6 947.5 924.0 945.8 926.2 947.5 927.4 949.4 925.9 950.8M776.9 957.8 775.0 956.8 772.1 953.3 773.1 952.0 775.6 953.3 777.8 955.2 778.2 957.1 776.9 957.8M796.0 963.3 795.2 962.8 796.0 961.6 796.6 962.8 796.0 963.3M899.1 966.3 897.2 965.9 893.4 966.3 890.8 964.7 889.6 962.7 891.5 962.0 895.3 963.5 899.1 964.2 900.0 964.7 899.1 966.3M580.3 969.0 578.3 968.6 576.4 967.3 575.7 966.6 575.2 964.7 576.4 964.1 579.8 966.6 581.6 968.5 580.3 969.0M647.1 967.5 646.5 966.6 647.2 966.6 647.1 967.5M557.3 973.6 557.0 972.4 557.3 972.0 558.6 972.4 557.3 973.6M704.9 980.0 703.8 978.1 704.4 976.0 706.3 974.3 708.2 975.0 709.9 976.2 711.6 978.1 712.0 979.7 713.1 980.0" stroke="#45c0c0"/>
<path d="M927.8 791.0 927.8 791.0M731.1 816.2 729.2 816.3 728.5 815.8 727.5 813.9 729.2 811.7 731.1 811.8 732.4 813.9 731.7 815.8 731.1 816.2M710.1 839.4 708.9 838.7 709.1 836.8 710.1 836.1 711.1 836.8 711.5 838.7 710.1 839.4M713.9 923.5 712.6 922.7 713.9 922.0 714.3 922.7 713.9 923.5M692.9 934.5 692.3 934.2 692.1 932.3 692.9 931.8 693.8 932.3 693.7 934.2 692.9 934.5M706.3 947.9 704.4 946.7 702.0 943.7 701.5 941.8 701.4 939.9 701.8 938.0 702.5 937.3 704.4 937.9 705.9 939.9 706.9 945.6 706.7 947.5 706.3 947.9M704.4 971.3 702.5 971.4 696.7 970.2 691.0 970.6 687.2 969.9 685.3 968.6 681.4 962.8 681.1 960.9 682.8 953.3 680.8 947.5 681.5 945.9 683.4 945.6 692.9 950.7 696.7 954.6 698.6 955.6 702.5 955.8 706.3 956.6 710.1 955.3 712.5 957.1 713.1 959.0 710.1 961.9 709.6 964.7 708.5 966.6 704.4 971.3M710.1 978.6 708.2 979.9 706.3 979.7 704.7 978.1 705.3 976.2 706.3 975.2 708.9 976.2 710.4 978.1 710.1 978.6" stroke="#e8dd28"/>
<path d="M704.4 944.1 704.4 942.8 704.4 944.1M704.4 969.1 702.5 969.9 696.7 969.1 689.2 966.6 686.1 964.7 685.0 962.8 684.7 959.0 687.0 951.3 689.1 951.8 691.0 953.0 695.9 957.1 702.5 959.7 704.4 961.1 706.0 962.8 706.9 964.7 706.5 966.6 704.4 969.1" stroke="#e8dd28"/>
<path d="M702.5 968.7 700.6 968.9 698.6 968.7 693.8 966.6 691.8 964.7 689.0 960.9 688.5 959.0 689.1 957.0 691.0 957.3 693.0 959.0 694.8 959.8 700.6 961.2 703.3 962.8 704.8 964.7 704.7 966.6 702.5 968.7" stroke="#e8dd28"/>
<path d="M702.5 967.1 700.6 967.8 698.6 967.7 695.9 966.6 694.2 964.7 694.6 962.8 696.7 962.3 698.6 962.3 700.6 962.9 702.9 964.7 703.0 966.6 702.5 967.1" stroke="#e8dd28"/>
<path d="M700.6 965.6 698.6 966.6 696.7 964.7 698.6 964.2 700.7 964.7 700.6 965.6" stroke="#e8dd28"/>
</g>
<path d="M586 980v-3.7M586 600v3.7 M549.7 943.7h3.7M929.7 943.7h-3.7 M643.3 980v-3.7M643.3 600v3.7 M549.7 886.4h3.7M929.7 886.4h-3.7 M700.6 980v-3.7M700.6 600v3.7 M549.7 829.1h3.7M929.7 829.1h-3.7 M738.7 980v-3.7M738.7 600v3.7 M549.7 791h3.7M929.7 791h-3.7 M776.9 980v-3.7M776.9 600v3.7 M549.7 752.8h3.7M929.7 752.8h-3.7 M834.2 980v-3.7M834.2 600v3.7 M549.7 695.5h3.7M929.7 695.5h-3.7" stroke="#262626" stroke-width="1" fill="none"/>
<rect x="549.7" y="600" width="380.0" height="380.0" stroke="#4a4a4a" stroke-width="1.3" fill="none"/>
<text x="586" y="1007.5" font-size="18.6" text-anchor="middle" fill="#262626" >0.02</text>
<text x="541.4" y="950.4" font-size="18.6" text-anchor="end" fill="#262626" >0.02</text>
<text x="643.3" y="1007.5" font-size="18.6" text-anchor="middle" fill="#262626" >0.05</text>
<text x="541.4" y="893.1" font-size="18.6" text-anchor="end" fill="#262626" >0.05</text>
<text x="700.6" y="1007.5" font-size="18.6" text-anchor="middle" fill="#262626" >0.08</text>
<text x="541.4" y="835.8" font-size="18.6" text-anchor="end" fill="#262626" >0.08</text>
<text x="738.7" y="1007.5" font-size="18.6" text-anchor="middle" fill="#262626" >0.1</text>
<text x="541.4" y="797.7" font-size="18.6" text-anchor="end" fill="#262626" >0.1</text>
<text x="776.9" y="1007.5" font-size="18.6" text-anchor="middle" fill="#262626" >0.12</text>
<text x="541.4" y="759.5" font-size="18.6" text-anchor="end" fill="#262626" >0.12</text>
<text x="834.2" y="1007.5" font-size="18.6" text-anchor="middle" fill="#262626" >0.15</text>
<text x="541.4" y="702.2" font-size="18.6" text-anchor="end" fill="#262626" >0.15</text>
<text x="929.7" y="1007.5" font-size="18.6" text-anchor="middle" fill="#262626" >0.2</text>
<text x="541.4" y="606.7" font-size="18.6" text-anchor="end" fill="#262626" >0.2</text>
<text x="739.7" y="1033.5" font-size="20.5" text-anchor="middle" fill="#262626" >frequency (Hz)</text>
<text transform="translate(495.4 790) rotate(-90)" font-size="20.5" text-anchor="middle" fill="#262626">frequency (Hz)</text>
<linearGradient id="pg1" x1="0" y1="1" x2="0" y2="0"><stop offset="0.0000" stop-color="#44308c"/><stop offset="0.0500" stop-color="#4a4098"/><stop offset="0.1000" stop-color="#5050a5"/><stop offset="0.1500" stop-color="#505aac"/><stop offset="0.2000" stop-color="#5064b4"/><stop offset="0.2500" stop-color="#4b6ebc"/><stop offset="0.3000" stop-color="#4678c3"/><stop offset="0.3500" stop-color="#328cd2"/><stop offset="0.4000" stop-color="#19a5dc"/><stop offset="0.4500" stop-color="#14afd2"/><stop offset="0.5000" stop-color="#1eb4af"/><stop offset="0.5500" stop-color="#3cb496"/><stop offset="0.6000" stop-color="#60b879"/><stop offset="0.6500" stop-color="#85b95d"/><stop offset="0.7000" stop-color="#aab941"/><stop offset="0.7500" stop-color="#c6b038"/><stop offset="0.8000" stop-color="#e3ac3a"/><stop offset="0.8500" stop-color="#fab348"/><stop offset="0.9000" stop-color="#fac83c"/><stop offset="0.9500" stop-color="#f6d830"/><stop offset="1.0000" stop-color="#f2e823"/></linearGradient>
<rect x="614.8" y="633.6" width="29.6" height="173.7" fill="url(#pg1)" stroke="#262626" stroke-width="0.8"/>
<text x="607.1" y="639.8" font-size="17" text-anchor="end" fill="#262626" >1</text>
<text x="607.1" y="683.2" font-size="17" text-anchor="end" fill="#262626" >0.5</text>
<text x="607.1" y="726.7" font-size="17" text-anchor="end" fill="#262626" >0</text>
<text x="607.1" y="770.1" font-size="17" text-anchor="end" fill="#262626" >-0.5</text>
<text x="607.1" y="813.5" font-size="17" text-anchor="end" fill="#262626" >-1</text>
<path d="M614.8 633.6h2.5 M614.8 677h2.5 M614.8 720.5h2.5 M614.8 763.9h2.5 M614.8 807.3h2.5" stroke="#262626" stroke-width="0.8"/>
<path d="M617.2 621.3L625.2 628.9M625.2 621.3L617.2 628.9" stroke="#666" stroke-width="0.9" fill="none"/>
<text x="628" y="629" font-size="16.8" text-anchor="start" fill="#262626" >10</text>
<text x="647" y="621" font-size="14.2" text-anchor="start" fill="#262626" >-5</text>
<path d="M1060.7 600V980 M1024.4 943.7H1404.4 M1118 600V980 M1024.4 886.4H1404.4 M1175.3 600V980 M1024.4 829.1H1404.4 M1213.4 600V980 M1024.4 791H1404.4 M1251.6 600V980 M1024.4 752.8H1404.4 M1308.9 600V980 M1024.4 695.5H1404.4" stroke="#e0e0e0" stroke-width="1" fill="none"/>
<g fill="none" stroke-width="1.15" stroke-linejoin="round">
<path d="M1185.2 821.5 1190.5 817.3 1191.9 815.8 1194.2 812.0 1195.0 810.0 1198.0 808.1 1198.3 806.2 1182.8 821.5 1182.9 821.9 1185.2 821.5" stroke="#5a3fa8"/>
<path d="M1185.6 823.4 1188.3 821.5 1192.4 817.7 1196.3 812.0 1200.5 808.1 1201.5 806.2 1201.2 804.3 1200.1 804.2 1198.2 805.8 1188.0 815.8 1180.8 823.4 1181.0 824.5 1182.9 824.4 1185.6 823.4M1208.3 808.1 1207.7 806.8 1205.7 806.2 1206.8 808.1 1207.7 808.8 1208.3 808.1" stroke="#5a3fa8"/>
<path d="M1177.9 829.1 1186.7 824.7 1188.6 823.4 1194.4 817.7 1198.2 812.1 1202.0 809.2 1203.9 808.7 1207.7 811.2 1209.6 811.4 1210.9 810.0 1210.8 808.1 1209.6 806.0 1206.9 802.4 1205.8 800.1 1203.9 800.2 1198.2 805.3 1181.9 821.5 1175.1 829.1 1175.3 829.8 1177.2 829.7 1177.9 829.1M1188.8 833.0 1188.5 833.0 1188.8 833.0M1164.0 966.6 1161.8 964.7 1162.8 966.6 1163.8 967.0 1164.0 966.6" stroke="#5a3fa8"/>
<path d="M1229.3 785.2 1228.7 784.9 1228.6 785.2 1229.3 785.2M1190.7 834.9 1191.5 833.0 1190.5 831.3 1188.6 830.0 1185.1 829.1 1186.5 827.2 1192.4 822.9 1196.3 818.2 1198.7 813.9 1202.0 811.5 1203.9 811.1 1207.7 813.2 1209.6 813.6 1212.3 812.0 1213.2 810.0 1212.8 808.1 1209.1 800.5 1211.2 796.7 1211.7 792.9 1203.9 799.4 1196.3 806.7 1181.5 821.5 1174.2 829.1 1173.1 831.0 1173.3 831.7 1177.2 833.3 1179.1 833.0 1181.0 830.7 1184.8 829.4 1185.9 833.0 1186.7 833.8 1188.6 835.0 1190.7 834.9M1228.6 808.1 1226.8 806.1 1225.7 808.1 1226.8 809.1 1228.6 808.1M1220.3 808.1 1219.2 806.3 1217.2 808.1 1219.2 809.4 1220.3 808.1M1227.2 819.6 1226.8 819.3 1226.2 819.6 1226.8 820.2 1227.2 819.6M1217.7 833.0 1217.3 831.0 1215.4 828.1 1213.4 826.7 1212.3 827.2 1211.9 829.1 1212.4 831.0 1213.6 833.0 1215.4 834.6 1217.3 834.2 1217.7 833.0M1164.3 949.4 1163.8 948.2 1161.9 946.5 1161.4 947.5 1161.9 948.8 1163.8 950.5 1164.3 949.4M1196.2 949.4 1194.3 948.1 1192.1 949.4 1192.4 949.9 1194.3 950.5 1196.2 949.4M1195.8 957.1 1194.3 955.6 1192.4 955.3 1190.4 957.1 1192.4 958.6 1194.3 958.7 1195.8 957.1M1166.2 968.5 1165.8 966.6 1163.8 963.6 1161.9 962.5 1160.0 962.9 1159.3 964.7 1160.1 966.6 1161.9 969.0 1163.8 970.1 1165.7 969.4 1166.2 968.5M1206.0 966.6 1204.2 966.6 1205.8 967.0 1206.0 966.6M1173.4 974.3 1171.4 971.7 1169.5 971.2 1169.0 972.4 1170.6 974.3 1171.4 974.9 1173.4 974.3" stroke="#5a3fa8"/>
<path d="M1399.2 607.6 1398.7 607.4 1397.9 607.6 1398.7 608.2 1399.2 607.6M1377.9 653.5 1377.1 651.6 1375.7 649.8 1373.8 650.7 1373.8 651.7 1374.7 653.5 1375.7 654.2 1377.7 653.8 1377.9 653.5M1335.7 670.7 1336.0 668.7 1335.6 668.6 1335.1 670.7 1335.7 670.7M1368.3 697.4 1368.1 695.1 1366.2 693.2 1364.3 692.7 1363.5 693.6 1364.9 695.5 1366.2 696.7 1368.1 697.6 1368.3 697.4M1305.3 699.3 1305.1 699.3 1305.3 699.3M1384.6 720.3 1384.6 718.4 1383.2 716.5 1379.6 714.3 1378.6 714.6 1379.5 716.5 1383.4 721.0 1384.6 720.3M1283.8 722.2 1284.1 720.2 1282.0 722.2 1282.2 723.1 1283.8 722.2M1286.4 731.8 1286.8 729.8 1286.0 727.9 1284.1 726.6 1282.2 727.3 1282.1 727.9 1283.5 729.8 1286.0 731.8 1286.4 731.8M1275.1 731.8 1275.9 729.8 1274.5 729.3 1272.3 731.8 1272.6 732.3 1274.5 732.3 1275.1 731.8M1292.0 747.0 1289.8 744.3 1289.2 745.1 1289.8 746.1 1291.2 747.0 1292.0 747.0M1335.9 745.1 1334.1 745.1 1335.6 745.6 1335.9 745.1M1250.5 754.7 1249.7 754.5 1249.7 755.4 1250.5 754.7M1380.8 756.6 1379.6 756.3 1379.4 756.6 1380.8 756.6M1370.2 766.1 1368.1 763.8 1368.1 764.6 1369.8 766.1 1370.2 766.1M1232.7 787.1 1231.6 783.3 1230.6 781.7 1228.7 780.4 1226.8 778.2 1224.9 779.3 1220.8 783.3 1221.1 783.8 1224.9 784.9 1228.7 787.6 1230.6 788.4 1232.5 787.7 1232.7 787.1M1169.9 836.8 1173.1 833.0 1175.3 833.3 1179.1 835.1 1181.0 832.1 1182.9 831.2 1184.8 832.1 1185.1 833.0 1186.7 834.5 1188.6 835.7 1190.5 835.8 1191.7 834.9 1192.0 833.0 1190.5 830.3 1188.1 829.1 1188.2 827.2 1191.3 825.3 1193.5 823.4 1197.5 817.7 1199.6 813.9 1202.0 812.4 1203.9 811.9 1209.6 814.6 1211.5 813.6 1213.4 812.0 1214.3 810.0 1213.2 806.2 1213.3 804.3 1214.0 802.4 1213.5 796.7 1213.7 794.8 1214.6 792.9 1216.3 791.0 1215.4 789.2 1213.4 790.5 1203.9 799.1 1190.5 812.3 1174.0 829.1 1171.4 832.6 1167.5 836.8 1167.6 837.1 1169.5 837.1 1169.9 836.8M1336.1 792.9 1335.6 792.6 1335.3 792.9 1335.6 793.4 1336.1 792.9M1219.2 810.0 1220.9 808.1 1220.0 806.2 1219.2 805.5 1217.3 805.2 1216.1 806.2 1216.2 808.1 1217.3 809.3 1219.2 810.0M1229.6 808.1 1228.7 806.2 1226.8 805.2 1225.2 806.2 1224.9 808.1 1226.8 809.8 1228.7 809.1 1229.6 808.1M1228.0 821.5 1228.4 819.6 1226.8 818.5 1224.9 819.2 1224.9 820.0 1226.5 821.5 1228.0 821.5M1218.0 834.9 1218.4 833.0 1218.1 831.0 1217.0 829.1 1215.4 827.1 1213.4 825.6 1211.5 825.6 1210.8 827.2 1211.0 829.1 1212.7 833.0 1215.4 835.7 1217.3 835.9 1218.0 834.9M1311.0 848.2 1311.7 846.3 1313.1 844.4 1312.5 842.5 1310.8 840.7 1308.9 840.2 1307.5 840.6 1306.7 842.5 1308.9 846.6 1311.0 848.2M1150.9 854.0 1150.3 854.0 1150.4 854.3 1150.9 854.0M1173.4 854.0 1171.4 853.3 1170.6 854.0 1171.4 854.6 1173.4 854.0M1236.9 899.8 1236.4 898.8 1235.3 897.9 1234.4 897.6 1233.4 897.9 1234.0 899.8 1234.4 900.1 1236.4 900.6 1236.9 899.8M1159.1 901.7 1156.2 900.4 1155.6 901.7 1156.2 902.2 1158.1 902.8 1159.1 901.7M1182.9 901.7 1181.0 901.2 1180.7 901.7 1182.9 901.7M1099.0 907.4 1099.2 905.5 1098.9 905.3 1096.7 907.4 1097.0 907.8 1099.0 907.4M1290.3 905.5 1289.8 904.2 1289.7 905.5 1290.3 905.5M1215.4 911.2 1213.5 909.3 1212.8 909.3 1212.9 911.2 1213.4 911.6 1215.4 911.2M1090.2 920.8 1089.9 917.0 1089.3 915.5 1087.4 916.5 1085.3 918.9 1085.5 919.8 1087.4 920.8 1089.3 921.2 1090.2 920.8M1297.5 918.9 1295.5 916.7 1295.3 917.0 1297.5 918.9M1206.7 941.8 1206.2 939.9 1205.8 939.6 1205.2 941.8 1205.8 942.4 1206.7 941.8M1164.7 951.3 1165.0 949.4 1163.8 947.0 1161.9 945.1 1161.1 945.6 1160.6 947.5 1161.1 949.4 1161.9 950.5 1163.8 951.9 1164.7 951.3M1058.1 949.4 1058.8 949.2 1059.1 947.5 1058.8 946.5 1056.6 947.5 1056.4 949.4 1058.1 949.4M1197.4 949.4 1196.3 947.9 1194.3 947.4 1192.4 948.2 1191.5 949.4 1192.4 950.8 1194.3 951.2 1196.3 950.4 1197.4 949.4M1248.3 953.3 1247.8 952.8 1247.5 953.3 1247.8 954.0 1248.3 953.3M1152.7 959.0 1152.8 957.1 1152.3 956.4 1150.4 954.5 1149.3 955.2 1150.1 957.1 1152.3 959.1 1152.7 959.0M1195.7 959.0 1196.5 957.1 1194.3 954.8 1192.4 954.6 1191.2 955.2 1189.7 957.1 1192.4 959.2 1194.3 959.4 1195.7 959.0M1108.9 960.9 1106.5 959.7 1106.1 960.9 1108.9 960.9M1174.5 976.2 1174.5 974.3 1171.4 971.0 1169.5 969.9 1167.6 969.5 1166.5 966.6 1163.8 963.0 1161.9 961.7 1160.0 961.9 1158.3 962.8 1158.3 964.7 1159.1 966.6 1161.9 970.1 1163.8 971.2 1167.6 971.1 1168.0 972.4 1169.7 974.3 1171.4 975.6 1173.3 976.2 1174.5 976.2M1206.5 966.6 1205.8 966.0 1203.9 965.8 1203.3 966.6 1203.9 967.4 1205.8 968.1 1206.5 966.6M1034.5 970.4 1035.9 969.9 1037.1 968.5 1035.9 968.2 1033.9 970.4 1034.5 970.4M1397.1 968.5 1396.8 968.1 1396.2 968.5 1396.8 968.9 1397.1 968.5M1219.4 974.3 1218.9 972.4 1217.3 970.6 1215.4 969.6 1213.4 970.3 1215.4 972.8 1217.3 973.9 1219.2 974.5 1219.4 974.3M1344.6 978.1 1343.3 977.7 1343.0 978.1 1343.3 978.4 1344.6 978.1" stroke="#45c0c0"/>
<path d="M1404.4 606.5 1398.7 604.3 1395.1 607.6 1396.3 609.5 1402.5 614.9 1404.4 614.4M1404.4 617.4 1403.5 617.2 1402.5 616.3 1401.6 617.2 1396.8 620.0 1394.8 620.1 1393.9 621.0 1396.2 622.9 1400.1 624.8 1400.9 626.7 1400.5 628.6 1401.5 630.6 1403.2 632.5 1403.9 634.4 1402.5 636.3 1400.6 636.1 1396.8 633.8 1394.8 633.6 1393.5 634.4 1391.0 635.1 1390.2 636.3 1389.1 637.0 1387.2 636.4 1383.8 634.4 1381.8 632.5 1380.5 630.6 1380.3 628.6 1381.5 628.2 1385.3 629.6 1388.7 628.6 1388.1 626.7 1386.8 624.8 1386.3 622.9 1388.0 619.1 1387.2 617.6 1385.3 617.6 1383.4 619.5 1372.4 630.6 1372.2 632.5 1375.4 636.3 1374.5 638.2 1375.0 640.1 1380.6 643.9 1383.4 648.7 1384.2 649.6 1387.2 651.6 1388.3 649.6 1388.1 645.8 1389.1 644.5 1392.5 642.0 1392.9 640.0 1398.7 642.2 1402.5 642.7 1404.4 643.4M1391.3 676.4 1391.0 674.2 1392.9 672.6 1391.4 670.7 1391.0 670.4 1387.2 670.8 1383.7 668.7 1382.3 666.8 1382.0 663.0 1380.9 659.2 1382.4 655.4 1378.3 647.7 1371.9 641.1 1369.1 640.1 1368.3 638.2 1370.0 636.0 1370.5 634.4 1370.0 633.5 1362.9 640.1 1364.3 641.9 1366.2 642.2 1367.1 643.9 1368.1 650.1 1366.2 650.1 1364.3 649.1 1362.4 648.7 1360.7 647.7 1360.9 643.9 1360.5 643.1 1358.6 644.4 1347.8 655.4 1349.0 656.4 1350.9 656.5 1356.7 651.8 1358.6 649.3 1360.5 648.3 1361.4 651.6 1363.1 653.5 1364.3 654.1 1366.2 654.2 1368.1 654.9 1377.7 664.6 1382.9 668.7 1382.6 670.7 1383.2 672.6 1385.3 675.6 1387.2 677.3 1391.0 678.2 1391.3 676.4M1375.4 685.9 1374.4 680.2 1370.0 674.8 1368.1 674.3 1366.3 676.4 1366.6 678.3 1366.5 680.2 1366.2 680.7 1364.3 679.5 1361.8 676.4 1361.5 674.5 1362.0 672.6 1360.7 668.7 1360.3 666.8 1360.5 666.4 1362.4 664.8 1364.3 665.0 1368.1 668.0 1369.3 666.8 1368.2 664.9 1362.8 659.2 1360.5 655.6 1358.6 654.7 1358.3 655.4 1359.2 657.3 1358.6 658.6 1356.7 659.1 1354.7 659.1 1352.8 659.6 1350.9 661.7 1348.0 663.0 1347.1 664.9 1352.8 673.5 1355.8 676.4 1361.1 680.2 1364.2 682.1 1366.2 682.8 1369.4 685.9 1370.0 686.9 1371.9 687.7 1373.8 687.6 1375.4 685.9M1404.4 711.2 1402.5 710.9 1400.1 708.8 1395.3 703.1 1391.0 701.2 1389.1 699.8 1387.9 697.4 1387.8 695.5 1385.3 693.3 1383.4 693.6 1381.5 695.3 1380.9 697.4 1383.4 700.8 1387.2 704.2 1391.1 706.9 1392.3 708.8 1392.9 710.8 1393.2 712.7 1392.9 714.0 1391.0 714.6 1388.3 712.7 1386.7 710.8 1385.8 708.8 1385.5 706.9 1384.0 705.0 1377.7 704.1 1372.8 697.4 1371.8 695.5 1373.1 693.6 1373.4 691.7 1372.0 689.7 1371.9 688.7 1370.0 688.5 1366.2 689.5 1358.6 686.9 1354.7 685.0 1352.8 683.6 1352.2 684.0 1352.7 685.9 1355.6 689.7 1354.7 690.6 1352.8 690.5 1349.0 691.4 1347.1 690.9 1346.0 689.7 1344.3 684.0 1342.7 680.2 1342.9 676.4 1341.3 672.6 1341.0 670.7 1341.9 668.7 1342.3 664.9 1344.1 661.1 1343.3 660.4 1339.5 663.3 1332.1 670.7 1331.8 671.5 1330.7 672.6 1331.8 673.3 1333.7 673.7 1334.8 674.5 1336.6 678.3 1337.1 680.2 1336.5 682.1 1335.6 682.6 1331.5 682.1 1331.0 684.0 1332.1 685.9 1333.7 687.3 1341.0 691.7 1343.1 693.6 1343.9 695.5 1343.3 697.2 1341.4 697.7 1339.5 697.0 1335.6 693.2 1333.7 691.9 1331.8 691.4 1331.5 691.7 1332.1 693.6 1336.2 697.4 1337.5 699.3 1339.0 703.1 1343.7 706.9 1347.0 710.8 1350.9 712.3 1352.8 712.1 1354.7 712.7 1360.5 715.2 1364.2 718.4 1365.5 720.3 1366.0 722.2 1360.5 724.0 1358.6 723.6 1354.7 721.0 1352.8 720.4 1350.9 720.3 1349.5 724.1 1349.8 726.0 1351.9 729.8 1351.6 731.8 1350.9 731.9 1347.1 730.0 1339.5 724.6 1337.5 722.2 1336.6 720.3 1335.7 716.5 1334.9 714.6 1333.7 713.4 1331.8 712.4 1330.0 712.7 1333.2 718.4 1331.3 720.3 1330.4 722.2 1331.1 726.0 1329.9 727.3 1328.3 727.9 1330.7 731.8 1333.7 738.4 1334.8 739.4 1331.8 739.5 1328.3 737.5 1326.6 735.6 1326.1 734.2 1324.2 731.6 1322.4 729.8 1325.1 726.0 1322.3 724.1 1318.5 723.3 1317.7 724.1 1322.2 729.8 1321.8 731.8 1325.5 735.6 1325.7 737.5 1324.2 738.8 1320.4 738.8 1318.6 739.4 1319.0 741.3 1320.5 743.2 1324.2 745.8 1329.9 751.0 1339.5 754.4 1341.4 753.4 1342.8 750.9 1343.0 748.9 1336.6 741.3 1336.5 739.4 1337.6 739.1 1339.5 739.7 1343.3 741.8 1345.2 742.0 1347.1 741.3 1349.0 743.5 1351.9 748.9 1347.1 750.2 1346.1 750.9 1347.4 752.8 1350.9 756.8 1356.4 760.4 1358.1 762.3 1359.0 764.2 1363.8 768.0 1365.3 769.9 1365.5 771.9 1366.6 773.8 1371.5 777.6 1372.6 779.5 1370.0 781.7 1368.1 782.1 1366.2 783.0 1365.3 781.4 1364.3 781.1 1362.7 779.5 1357.0 775.7 1357.2 773.8 1359.4 771.9 1359.0 769.9 1356.7 767.7 1352.8 766.8 1350.9 765.8 1345.2 761.3 1343.3 760.3 1339.5 759.2 1337.6 759.1 1336.2 760.4 1335.6 762.7 1333.7 763.3 1329.9 760.2 1324.2 754.3 1322.3 753.5 1318.5 754.4 1314.7 748.9 1313.5 745.1 1309.3 739.4 1301.4 735.6 1301.4 733.7 1303.2 733.2 1304.8 731.8 1305.0 729.8 1304.1 727.9 1301.3 725.6 1299.4 724.8 1293.6 724.2 1291.7 724.8 1289.8 724.2 1288.9 722.2 1288.5 720.3 1291.5 716.5 1291.7 714.5 1293.6 712.7 1295.5 711.9 1299.4 713.0 1301.3 713.0 1303.2 712.5 1305.1 713.0 1307.0 713.9 1314.6 720.6 1315.1 720.3 1315.1 718.4 1314.2 716.5 1313.0 714.6 1311.0 712.7 1307.0 709.4 1305.1 708.8 1303.2 708.8 1301.3 707.5 1300.8 705.0 1301.3 703.7 1303.0 703.1 1305.1 702.8 1305.9 703.1 1310.8 706.3 1316.6 712.3 1322.3 715.8 1324.2 716.7 1324.7 716.5 1326.1 713.7 1327.6 712.7 1327.0 710.8 1323.2 706.9 1322.4 705.0 1322.2 703.1 1324.2 700.3 1326.1 699.4 1328.5 699.3 1327.3 697.4 1321.7 693.6 1320.3 691.7 1319.5 689.7 1320.4 688.2 1322.3 687.9 1324.2 688.2 1325.9 687.8 1325.5 685.9 1324.6 684.0 1324.7 682.1 1325.3 680.2 1328.0 678.4 1328.0 677.8 1326.1 677.1 1323.4 680.2 1322.3 680.6 1320.4 682.5 1303.4 699.3 1301.3 702.8 1297.5 705.3 1291.7 711.6 1284.1 718.6 1263.7 739.4 1265.0 740.1 1266.9 740.5 1268.0 741.3 1270.7 745.9 1276.9 752.8 1280.3 754.5 1284.1 754.0 1286.8 756.6 1287.7 758.5 1293.6 761.5 1294.1 762.3 1297.5 764.8 1303.2 765.2 1307.0 764.7 1308.9 765.3 1310.8 764.2 1311.8 762.3 1314.7 760.4 1315.0 756.6 1318.5 755.2 1320.4 758.0 1321.4 760.4 1324.2 764.0 1326.1 765.4 1328.6 766.1 1330.5 768.0 1330.4 769.9 1329.9 770.6 1324.2 769.7 1321.5 768.0 1318.5 767.3 1316.7 768.0 1318.4 769.9 1324.2 772.1 1327.3 775.7 1329.9 777.7 1337.6 779.4 1339.6 779.5 1341.4 778.4 1343.3 778.8 1345.2 782.0 1347.1 784.2 1349.0 784.8 1350.9 786.1 1353.3 791.0 1354.7 792.3 1356.7 793.5 1364.2 796.7 1366.0 798.6 1366.8 800.5 1364.9 804.3 1364.9 806.2 1369.9 812.0 1371.9 815.3 1375.7 817.6 1377.8 819.6 1378.5 821.5 1379.3 827.2 1377.7 828.6 1371.9 829.5 1370.0 830.5 1369.9 831.0 1370.7 833.0 1372.4 834.9 1377.6 838.7 1379.2 840.6 1380.2 842.5 1382.0 844.4 1387.2 848.4 1392.9 850.1 1393.6 848.2 1392.0 844.4 1392.4 842.5 1392.2 840.6 1390.5 838.7 1391.0 837.9 1392.9 837.3 1393.5 836.8 1392.6 834.9 1389.8 833.0 1387.2 832.1 1386.4 833.0 1389.1 836.4 1390.1 836.8 1389.1 837.4 1385.3 837.6 1383.4 837.3 1381.5 836.4 1380.5 834.9 1379.8 833.0 1380.3 831.0 1381.5 829.2 1383.4 828.8 1384.0 825.3 1381.9 821.5 1381.2 819.6 1383.4 817.9 1385.3 819.2 1391.0 825.1 1392.9 826.3 1395.6 827.2 1396.7 831.0 1404.4 839.3M1404.4 661.0 1402.5 661.3 1398.7 660.0 1396.8 660.6 1396.6 661.1 1398.8 666.8 1402.5 673.4 1404.4 675.6M1404.4 666.1 1403.5 664.9 1403.3 663.0 1404.4 661.2M1352.8 667.7 1352.2 666.8 1352.8 666.4 1353.4 666.8 1352.8 667.7M1354.7 668.8 1354.7 668.8M1387.7 687.8 1388.9 685.9 1388.9 684.0 1387.4 680.2 1385.3 678.6 1383.4 679.0 1382.0 680.2 1381.5 681.3 1379.8 682.1 1383.4 686.5 1385.3 688.0 1387.2 688.5 1387.7 687.8M1318.5 700.0 1316.6 699.9 1313.7 697.4 1312.9 695.5 1313.8 693.6 1314.6 692.9 1316.6 693.5 1318.1 695.5 1319.0 697.4 1319.0 699.3 1318.5 700.0M1354.7 699.4 1355.1 699.3 1354.7 699.4M1404.4 700.1 1402.5 698.3 1400.6 697.5 1398.7 698.8 1398.5 699.3 1399.6 705.0 1404.4 710.2M1368.1 711.8 1366.2 711.8 1364.3 710.4 1362.9 708.8 1360.8 705.0 1356.3 701.2 1356.7 700.0 1360.5 700.9 1366.2 703.2 1368.9 705.0 1370.1 706.9 1370.0 708.6 1368.1 711.8M1347.0 720.3 1348.3 718.4 1345.1 712.7 1343.3 710.9 1339.5 710.4 1338.8 710.8 1338.3 712.7 1338.7 714.6 1342.4 720.3 1343.3 720.9 1345.2 721.2 1347.0 720.3M1404.4 810.3 1398.7 806.9 1392.9 801.0 1391.2 800.5 1390.5 798.6 1391.5 796.7 1392.9 796.2 1396.8 799.1 1398.6 798.6 1396.8 795.5 1394.8 793.9 1392.9 793.1 1391.0 791.5 1385.7 785.2 1384.3 783.3 1383.9 779.5 1378.9 773.8 1378.0 771.9 1378.0 769.9 1377.4 768.0 1375.7 765.5 1371.9 762.7 1370.0 760.4 1371.9 759.9 1373.8 760.9 1375.0 760.4 1375.7 759.0 1377.7 758.6 1382.5 762.3 1385.3 764.9 1387.2 764.7 1387.2 760.0 1389.1 759.8 1392.9 763.3 1394.8 764.3 1398.7 764.1 1400.6 763.6 1401.3 762.3 1397.9 758.5 1397.9 754.7 1394.8 752.0 1392.9 751.4 1389.1 754.1 1387.2 752.9 1385.0 750.9 1384.6 747.0 1383.6 743.2 1382.8 741.3 1380.3 737.5 1377.7 735.7 1371.9 734.9 1370.9 735.6 1374.5 741.3 1378.4 748.9 1378.9 750.9 1377.7 751.6 1374.9 750.9 1366.2 744.5 1365.6 745.1 1367.2 747.0 1368.1 748.9 1366.2 750.3 1362.4 750.0 1360.5 750.2 1359.8 750.9 1360.5 751.4 1362.1 754.7 1363.3 758.5 1363.4 762.3 1362.4 763.5 1360.5 763.4 1356.9 760.4 1356.0 758.5 1355.1 754.7 1353.2 750.9 1354.7 749.7 1358.0 748.9 1357.5 747.0 1360.3 745.1 1362.3 743.2 1362.1 741.3 1360.5 738.5 1359.9 735.6 1361.5 733.7 1366.2 730.7 1368.1 731.7 1370.7 729.8 1371.9 729.6 1375.7 730.1 1377.1 729.8 1377.6 727.9 1375.5 726.0 1369.3 722.2 1368.4 720.3 1368.5 718.4 1369.3 716.5 1370.0 715.7 1371.9 716.5 1375.7 716.8 1377.7 718.5 1381.5 725.4 1383.4 727.3 1389.1 730.7 1393.3 735.6 1395.2 739.4 1400.6 743.3 1402.5 744.4 1404.4 744.4M1404.4 741.2 1399.8 737.5 1398.4 735.6 1398.5 733.7 1402.0 731.8 1401.7 729.8 1400.0 727.9 1395.7 724.1 1395.7 722.2 1396.9 720.3 1398.7 718.9 1400.6 719.9 1402.9 724.1 1404.4 725.7M1315.9 735.6 1316.4 733.7 1316.0 731.8 1313.5 729.8 1310.8 728.9 1308.9 729.6 1309.6 731.8 1312.7 735.6 1314.6 736.4 1315.9 735.6M1282.2 734.6 1280.3 734.5 1279.6 731.8 1280.3 730.9 1283.0 733.7 1282.2 734.6M1293.6 734.4 1291.4 731.8 1291.7 730.5 1293.6 731.7 1295.0 733.7 1293.6 734.4M1293.6 759.2 1291.7 759.2 1291.4 758.5 1289.3 756.6 1286.8 752.8 1281.7 747.0 1278.4 741.7 1276.5 740.5 1272.6 739.3 1270.7 737.7 1270.7 735.5 1272.6 734.7 1275.0 735.6 1276.5 736.7 1278.4 737.2 1280.3 736.4 1280.9 737.5 1282.2 738.7 1287.9 748.4 1291.9 752.8 1293.6 756.6 1294.1 758.5 1293.6 759.2M1395.6 745.1 1393.7 741.3 1392.9 740.4 1391.6 739.4 1389.1 738.4 1387.2 737.2 1385.3 736.7 1384.7 737.5 1386.0 739.4 1389.1 741.4 1392.9 745.4 1394.8 746.4 1395.6 745.1M1291.7 741.3 1290.2 739.4 1291.9 739.4 1291.7 741.3M1349.0 742.7 1347.1 741.3 1346.6 739.4 1347.1 738.3 1349.1 739.4 1349.8 741.3 1349.0 742.7M1328.0 746.5 1326.9 745.1 1326.9 743.2 1328.0 742.1 1329.4 745.1 1328.0 746.5M1404.4 958.1 1403.3 957.1 1403.4 953.3 1400.6 950.3 1398.7 950.7 1397.2 953.3 1397.1 955.2 1400.4 959.0 1400.7 960.9 1400.3 962.8 1399.2 964.7 1398.7 965.0 1389.1 955.6 1387.2 954.1 1385.3 953.8 1383.4 952.4 1382.8 951.3 1379.3 947.5 1376.8 943.7 1377.9 939.9 1377.4 938.0 1374.1 932.3 1373.6 930.3 1373.8 928.5 1375.2 928.4 1373.8 928.2 1373.6 926.5 1370.0 923.6 1368.1 922.6 1364.3 921.4 1362.4 920.1 1359.3 917.0 1358.2 915.1 1360.5 914.2 1362.4 914.2 1364.3 913.2 1365.3 911.2 1362.7 905.5 1361.1 903.6 1358.6 901.8 1356.7 901.3 1356.0 901.7 1355.8 903.6 1354.7 904.9 1345.2 900.6 1343.3 900.7 1339.5 902.7 1336.3 903.6 1337.2 905.5 1342.5 911.2 1345.0 915.1 1350.9 918.1 1355.1 922.7 1356.7 924.1 1360.8 926.5 1363.8 930.3 1368.1 934.2 1369.4 936.1 1370.1 938.0 1370.5 941.8 1374.4 945.6 1375.1 947.5 1374.6 949.4 1372.6 951.3 1371.9 951.6 1367.8 949.4 1365.8 947.5 1363.6 943.7 1360.5 941.9 1358.6 940.4 1357.3 938.0 1356.6 934.2 1355.7 932.3 1352.8 928.7 1350.9 927.0 1349.0 926.8 1347.1 928.3 1343.3 920.8 1339.5 916.7 1335.6 911.7 1333.7 910.8 1332.8 911.2 1332.9 913.2 1333.5 915.1 1335.9 918.9 1339.3 922.7 1337.9 924.6 1335.6 925.9 1333.6 924.6 1330.5 917.0 1328.0 914.1 1324.1 911.2 1323.3 909.3 1323.7 907.4 1324.2 907.1 1328.1 907.4 1328.6 905.5 1328.5 903.6 1327.3 899.8 1328.0 898.0 1329.9 898.8 1333.7 901.9 1333.9 901.7 1331.6 896.0 1329.4 894.1 1324.2 890.6 1322.3 890.2 1321.9 892.2 1322.1 894.1 1320.4 895.7 1318.5 895.3 1314.6 892.3 1310.8 890.9 1308.7 888.3 1307.9 886.4 1312.7 886.6 1314.6 884.8 1313.8 882.6 1312.4 880.7 1312.7 880.0 1316.6 880.5 1318.5 878.6 1320.4 879.1 1324.2 878.0 1326.1 878.0 1327.9 876.9 1324.2 871.2 1322.3 869.8 1320.4 869.1 1319.9 869.2 1319.0 873.1 1318.5 873.6 1314.6 872.7 1312.7 872.9 1310.8 873.7 1309.6 875.0 1309.7 876.9 1308.9 877.2 1306.6 875.0 1305.1 872.6 1303.7 869.2 1304.1 867.3 1303.5 863.5 1305.1 862.4 1307.0 862.2 1308.9 863.0 1309.2 863.5 1312.7 865.0 1314.6 865.2 1316.6 863.8 1318.5 863.8 1324.2 867.1 1328.0 868.4 1331.8 870.2 1333.5 869.2 1324.1 861.6 1322.9 859.7 1321.6 855.9 1316.4 850.1 1316.6 848.5 1318.5 848.4 1320.4 849.9 1322.9 854.0 1326.1 856.8 1329.9 858.5 1335.6 859.0 1337.6 859.8 1339.4 863.5 1341.0 865.4 1345.2 868.5 1347.7 871.1 1348.8 873.1 1349.0 875.0 1348.6 876.9 1350.0 878.8 1350.9 879.2 1352.8 878.8 1353.8 876.9 1354.7 876.0 1358.6 880.1 1360.2 880.7 1356.7 882.1 1356.3 882.6 1357.0 886.4 1356.9 888.3 1357.5 890.2 1360.5 893.7 1364.3 896.2 1365.7 896.0 1366.3 894.1 1368.1 892.3 1370.0 892.9 1371.9 892.5 1371.8 890.2 1367.6 884.5 1367.8 882.6 1371.9 883.5 1373.8 883.4 1374.9 882.6 1370.0 879.6 1368.1 877.8 1365.7 875.0 1364.8 873.1 1366.2 872.1 1370.0 873.8 1375.7 874.4 1377.7 875.0 1378.7 875.0 1378.5 873.1 1376.9 871.1 1372.4 867.3 1371.5 865.4 1371.9 865.2 1372.7 863.5 1372.6 861.6 1370.9 857.8 1370.6 855.9 1370.9 854.0 1370.7 852.1 1366.3 846.3 1365.6 844.4 1366.5 842.5 1365.6 840.6 1362.4 838.5 1356.7 836.7 1354.7 836.9 1353.9 838.7 1352.8 839.6 1350.9 839.6 1349.8 840.6 1350.8 842.5 1352.8 845.0 1359.5 850.1 1361.7 854.0 1365.1 857.8 1365.7 859.7 1365.2 861.6 1364.3 861.7 1360.5 860.0 1358.6 859.6 1357.0 861.6 1357.3 865.4 1360.1 869.2 1358.6 870.5 1356.7 869.4 1354.7 867.4 1352.8 863.9 1352.1 861.6 1350.7 859.7 1347.1 856.3 1344.0 852.1 1337.6 848.2 1334.6 844.4 1335.6 843.4 1339.5 843.2 1341.0 842.5 1339.5 840.5 1338.8 838.7 1340.3 836.8 1340.8 834.9 1340.3 831.0 1339.5 830.0 1335.6 827.7 1334.1 829.1 1331.8 829.9 1330.0 831.0 1333.0 836.8 1333.0 840.6 1331.8 842.4 1329.9 842.3 1328.0 843.2 1326.5 844.4 1327.0 846.3 1329.9 850.1 1328.0 850.6 1324.8 846.3 1322.3 844.8 1320.4 844.1 1318.5 844.1 1316.6 843.1 1314.9 838.7 1311.7 834.9 1310.1 831.0 1307.1 827.2 1308.7 825.3 1310.8 825.0 1312.7 826.6 1314.6 831.0 1316.0 833.0 1316.6 833.5 1318.5 834.3 1319.1 833.0 1318.8 829.1 1317.1 825.3 1315.6 823.4 1316.6 822.3 1320.4 822.3 1322.3 820.3 1324.2 820.5 1328.0 822.3 1333.0 825.3 1333.7 826.4 1334.0 825.3 1331.0 819.6 1328.0 816.6 1323.7 813.9 1323.0 812.0 1324.2 811.7 1328.0 811.9 1330.5 810.0 1329.9 808.1 1328.4 806.2 1329.9 805.8 1331.8 806.3 1335.6 804.4 1337.6 806.6 1339.1 810.0 1337.6 811.6 1335.6 812.0 1334.6 813.9 1335.1 817.7 1336.2 819.6 1340.0 823.4 1341.4 825.3 1343.3 826.9 1345.2 827.1 1350.9 829.6 1352.8 829.3 1353.1 827.2 1348.6 821.5 1349.1 819.6 1351.8 817.7 1352.2 815.8 1351.0 813.9 1347.1 808.2 1343.3 805.2 1339.5 803.2 1337.6 803.0 1335.6 803.9 1335.0 800.5 1335.6 799.9 1339.5 800.2 1341.4 799.6 1342.5 798.6 1343.3 796.3 1345.2 795.6 1345.9 796.7 1347.5 802.4 1348.5 804.3 1350.9 806.1 1352.8 806.9 1354.3 808.1 1355.6 810.0 1358.6 816.4 1360.5 818.6 1362.4 819.2 1363.4 815.8 1360.5 808.3 1354.7 806.6 1351.7 802.4 1349.8 798.6 1345.3 794.8 1344.5 791.0 1343.3 790.0 1341.5 789.0 1339.5 788.4 1335.6 788.4 1331.8 787.8 1326.1 785.3 1320.4 783.9 1318.5 783.0 1316.7 781.4 1315.6 779.5 1316.6 778.2 1317.8 777.6 1316.6 775.3 1314.6 775.2 1314.6 777.6 1312.7 778.7 1310.8 778.6 1307.0 777.6 1305.1 777.8 1301.3 781.0 1299.4 780.7 1295.5 781.4 1293.6 780.5 1289.8 777.6 1287.9 776.8 1286.8 777.6 1287.4 779.5 1290.2 783.3 1289.8 784.5 1287.9 783.8 1287.3 785.2 1287.9 786.1 1289.8 787.6 1291.0 787.1 1291.7 785.7 1293.6 786.4 1295.5 783.3 1295.5 782.2 1296.0 783.3 1297.5 783.5 1300.1 785.2 1302.5 787.1 1303.0 789.0 1301.6 792.9 1301.5 794.8 1303.2 797.3 1305.1 798.7 1308.9 792.6 1310.8 792.2 1316.6 792.3 1320.4 792.8 1324.2 794.8 1325.2 796.7 1325.6 798.6 1327.1 802.4 1328.5 804.3 1328.0 805.9 1322.3 801.9 1320.4 801.4 1319.2 802.4 1318.5 804.0 1316.6 803.8 1312.7 801.2 1310.8 801.2 1310.2 802.4 1313.4 806.2 1314.7 808.1 1315.2 810.0 1308.9 813.6 1308.8 813.9 1309.5 815.8 1308.9 817.6 1304.7 815.8 1301.5 813.9 1302.2 812.0 1304.5 810.0 1304.6 808.1 1304.2 806.2 1303.2 804.8 1301.3 803.1 1299.4 803.6 1297.5 803.5 1295.5 802.6 1288.9 798.6 1286.0 796.0 1285.5 794.8 1284.1 794.2 1276.5 788.3 1274.5 787.5 1270.9 789.0 1270.0 791.0 1268.8 791.8 1266.9 789.0 1266.2 787.1 1265.0 786.0 1261.2 784.1 1253.6 777.6 1251.8 775.7 1249.3 771.9 1247.8 770.8 1244.0 769.5 1242.1 770.8 1239.8 769.9 1239.0 768.0 1242.1 766.1 1242.9 764.2 1244.0 763.4 1245.9 763.5 1247.1 764.2 1248.9 766.1 1249.7 768.3 1251.6 768.8 1252.0 768.0 1250.0 766.1 1248.9 764.2 1249.3 762.3 1249.7 761.8 1251.6 761.6 1255.4 763.1 1259.3 761.1 1261.2 761.5 1262.7 760.4 1263.1 759.7 1265.3 758.5 1263.1 756.4 1259.3 754.6 1257.1 752.8 1257.4 750.9 1259.8 748.9 1260.0 745.1 1259.3 744.1 1249.7 753.0 1237.0 766.1 1234.4 768.3 1219.4 783.3 1218.9 785.2 1222.4 787.1 1224.1 789.0 1224.5 791.0 1223.0 791.0 1219.2 789.5 1217.3 787.4 1215.4 787.4 1173.4 829.1 1164.2 838.7 1163.8 839.7 1159.1 844.4 1158.1 844.8 1156.5 846.3 1153.4 850.1 1152.3 850.5 1148.8 854.0 1146.6 856.7 1143.4 859.7 1142.8 861.2 1142.3 861.6 1140.9 862.0 1126.0 876.9 1125.3 878.8 1127.5 881.0 1129.4 884.2 1131.3 885.7 1132.6 884.5 1130.5 878.8 1131.1 876.9 1133.2 875.3 1135.2 875.4 1139.0 878.2 1140.9 878.8 1142.8 878.8 1144.7 879.5 1146.6 881.6 1147.4 884.5 1146.6 885.1 1143.8 884.5 1142.8 883.9 1142.4 884.5 1142.9 886.4 1144.0 888.3 1149.4 894.1 1148.5 895.3 1146.8 896.0 1145.4 897.9 1144.7 898.3 1142.2 896.0 1140.9 893.7 1139.0 891.9 1138.6 892.2 1138.4 894.1 1137.1 895.7 1135.2 895.3 1131.3 893.4 1129.4 893.6 1129.3 894.1 1131.9 897.9 1131.9 899.8 1131.3 901.7 1131.5 903.6 1133.1 907.4 1132.6 911.2 1133.8 915.1 1133.4 917.0 1133.6 918.9 1133.2 919.6 1131.3 920.1 1128.8 918.9 1124.1 913.2 1124.3 911.2 1126.3 909.3 1125.7 907.4 1124.3 905.5 1118.7 899.8 1118.0 897.9 1119.4 894.1 1116.9 892.2 1116.7 890.2 1117.2 888.3 1116.1 887.3 1106.5 896.3 1099.7 903.6 1098.9 903.8 1097.0 905.7 1094.0 909.3 1095.1 910.1 1098.9 910.6 1100.8 910.3 1102.7 909.3 1104.6 909.9 1112.2 916.6 1116.1 918.1 1123.7 922.1 1125.6 924.6 1128.9 930.3 1128.0 932.3 1127.5 932.5 1127.0 934.2 1129.4 937.6 1131.3 939.5 1133.2 939.2 1134.1 938.0 1134.1 936.1 1133.3 934.2 1133.3 932.3 1135.2 928.8 1137.1 929.7 1138.9 932.3 1140.9 933.9 1142.8 934.7 1144.6 934.2 1145.0 932.3 1146.6 931.1 1148.5 932.3 1149.4 934.2 1149.7 936.1 1152.3 938.5 1154.0 938.0 1154.2 936.0 1156.2 935.2 1160.0 934.6 1161.9 935.6 1163.8 937.5 1165.7 938.5 1167.6 938.5 1168.9 938.0 1171.1 936.1 1169.5 935.6 1168.3 934.2 1163.8 930.4 1160.0 928.1 1158.8 928.4 1156.2 930.6 1154.2 929.8 1149.3 924.6 1148.1 922.7 1150.4 921.1 1154.2 921.7 1154.5 920.8 1153.6 918.9 1153.8 917.0 1154.2 916.6 1156.2 916.9 1160.0 918.8 1162.5 920.8 1163.9 922.7 1165.7 926.8 1167.6 928.6 1169.5 929.2 1170.4 928.4 1170.4 926.5 1169.1 920.8 1169.4 918.9 1171.4 918.2 1173.3 918.5 1174.1 917.0 1171.4 914.0 1169.5 912.5 1167.6 912.3 1163.8 914.3 1161.9 914.1 1158.1 912.2 1156.2 911.8 1154.2 912.0 1152.3 911.4 1150.4 909.6 1147.4 905.5 1146.5 903.6 1146.6 901.7 1148.5 901.4 1152.3 903.4 1156.2 906.6 1161.9 907.4 1165.7 908.5 1167.6 908.6 1168.4 903.6 1163.8 899.8 1160.0 895.1 1156.2 892.4 1153.9 888.3 1153.1 884.5 1152.0 882.6 1147.3 878.8 1146.9 876.9 1148.5 875.5 1152.3 877.1 1153.4 876.9 1154.8 875.0 1156.2 874.1 1163.8 878.9 1165.7 877.2 1167.6 877.2 1168.3 878.8 1171.4 880.8 1175.3 880.5 1177.2 881.1 1181.0 881.2 1184.6 882.6 1186.9 884.5 1186.5 888.3 1184.8 889.9 1183.4 888.3 1181.0 887.0 1179.8 888.3 1180.9 892.2 1182.6 896.0 1181.0 896.6 1179.1 895.4 1171.4 887.5 1169.5 886.6 1167.6 887.2 1165.7 886.8 1163.8 885.5 1161.9 884.8 1160.0 884.7 1158.7 886.4 1158.8 888.3 1159.5 890.2 1161.1 892.2 1163.8 893.0 1167.6 893.1 1169.5 893.9 1171.3 896.0 1171.7 901.7 1173.0 903.6 1177.2 905.9 1181.9 907.4 1182.9 908.7 1184.1 913.2 1182.5 915.1 1182.3 917.0 1182.9 918.2 1184.8 919.6 1185.3 918.9 1185.5 917.0 1185.0 915.1 1186.7 913.4 1187.5 913.2 1188.5 911.2 1187.5 909.3 1190.5 907.8 1192.4 907.4 1196.3 908.6 1198.2 908.6 1202.0 907.9 1203.9 907.1 1205.8 907.5 1209.6 912.9 1211.5 914.5 1219.2 917.8 1223.0 916.9 1224.9 918.3 1226.3 920.8 1227.7 924.6 1228.7 925.9 1234.4 926.1 1236.1 924.6 1235.2 922.7 1226.2 911.2 1224.3 907.4 1220.5 901.7 1221.1 900.7 1226.8 901.4 1237.1 905.5 1238.3 906.5 1241.5 907.4 1240.2 909.2 1238.3 908.4 1236.4 908.2 1234.4 909.4 1234.0 911.2 1234.2 913.2 1235.5 917.0 1238.3 920.6 1240.7 922.7 1241.1 924.6 1237.2 926.5 1239.6 932.3 1239.6 934.2 1238.7 936.1 1239.0 938.0 1242.1 941.1 1248.3 945.6 1247.8 946.2 1245.9 946.9 1244.0 946.8 1243.1 947.5 1242.8 949.4 1243.3 953.3 1245.9 957.8 1247.8 959.0 1245.9 960.6 1244.0 959.7 1242.1 960.1 1241.9 960.9 1242.7 962.8 1242.7 964.7 1241.4 966.6 1241.3 968.5 1242.1 969.7 1242.8 972.4 1242.1 974.0 1240.2 975.0 1238.3 975.3 1237.2 976.2 1240.5 980.0M1404.4 747.8 1400.6 747.8 1398.6 748.9 1401.9 756.6 1404.4 758.6M1273.2 754.7 1271.8 752.8 1270.7 752.2 1269.3 752.8 1270.7 755.2 1272.6 755.7 1273.2 754.7M1391.0 755.9 1390.0 754.7 1391.0 753.2 1391.5 754.7 1391.0 755.9M1392.9 756.8 1392.1 756.6 1392.9 756.3 1393.3 756.6 1392.9 756.8M1276.3 779.5 1275.2 773.8 1276.5 773.0 1280.3 773.7 1282.2 773.0 1282.6 771.9 1284.3 769.9 1284.7 768.0 1282.2 765.6 1278.4 763.4 1276.5 762.8 1272.6 763.5 1270.7 763.2 1270.0 764.2 1272.6 767.8 1273.4 769.9 1272.6 771.2 1270.7 771.0 1268.6 768.0 1265.0 765.5 1263.1 765.9 1261.2 766.8 1257.4 769.5 1255.1 769.9 1255.4 770.0 1256.4 771.9 1258.5 773.8 1265.0 778.6 1266.9 779.0 1270.7 778.9 1274.5 780.3 1276.3 779.5M1352.8 776.1 1350.9 776.5 1347.1 775.0 1344.9 771.9 1344.9 769.9 1345.2 769.5 1347.1 768.7 1349.0 769.1 1350.9 770.6 1353.5 773.8 1353.7 775.7 1352.8 776.1M1268.8 772.7 1268.1 771.9 1268.8 770.9 1270.2 771.9 1268.8 772.7M1404.4 772.0 1402.5 771.5 1402.0 771.9 1402.1 773.8 1404.4 779.5M1244.0 774.1 1244.0 773.2 1245.2 773.8 1244.0 774.1M1251.6 779.6 1249.7 780.3 1245.9 777.6 1244.5 775.7 1245.9 773.9 1250.6 777.6 1251.6 779.6M1244.0 788.3 1242.1 788.6 1240.2 788.2 1238.3 787.1 1237.4 783.3 1237.5 781.4 1238.3 780.7 1240.2 781.1 1242.1 783.3 1244.4 787.1 1244.0 788.3M1303.2 782.4 1302.1 781.4 1303.2 779.7 1304.0 781.4 1303.2 782.4M1393.3 785.2 1393.7 783.3 1392.6 781.4 1391.0 780.6 1389.1 780.9 1388.7 781.4 1389.7 783.3 1391.0 784.9 1392.9 786.3 1393.3 785.2M1305.1 784.0 1304.2 783.3 1305.1 782.6 1305.5 783.3 1305.1 784.0M1392.9 806.8 1391.0 806.3 1385.6 802.4 1382.5 796.7 1380.4 794.8 1377.7 793.2 1375.7 792.5 1374.0 792.9 1373.6 794.8 1371.9 795.6 1370.0 795.9 1368.1 795.8 1366.2 794.7 1361.6 789.0 1361.6 787.1 1362.4 786.8 1363.8 785.2 1363.6 783.3 1364.3 782.0 1366.2 783.4 1370.0 787.2 1371.9 788.7 1373.9 787.1 1375.7 786.3 1377.0 785.2 1377.7 783.7 1379.6 783.1 1380.3 783.3 1381.5 785.6 1381.7 787.1 1383.4 791.0 1384.5 794.8 1385.9 796.7 1391.0 800.5 1393.7 806.2 1392.9 806.8M1297.5 864.7 1295.5 863.2 1294.8 861.6 1293.0 859.7 1286.3 854.0 1286.5 852.1 1284.3 848.2 1283.6 846.3 1282.2 845.2 1278.4 843.9 1276.5 842.7 1273.6 840.6 1271.9 838.7 1274.0 834.9 1272.6 829.9 1271.9 829.1 1272.6 828.1 1273.1 825.3 1272.3 823.4 1269.3 819.6 1266.9 817.3 1265.0 816.5 1261.2 817.3 1255.5 813.9 1255.8 810.0 1255.2 808.1 1253.5 806.1 1251.6 804.9 1245.9 804.6 1236.4 802.3 1233.0 800.5 1231.6 798.6 1230.5 796.7 1230.6 796.2 1232.5 796.0 1234.4 796.5 1236.4 796.3 1238.3 793.3 1244.0 795.7 1247.8 794.6 1249.6 792.9 1249.6 789.0 1251.6 788.5 1254.4 792.9 1254.8 794.8 1254.4 796.7 1253.5 798.6 1251.6 797.4 1249.7 797.1 1247.8 798.6 1248.9 800.5 1249.7 801.2 1251.6 802.1 1253.5 801.9 1255.4 800.9 1256.8 804.3 1258.1 806.2 1259.3 806.9 1263.1 807.8 1265.0 808.9 1268.8 812.5 1272.6 815.2 1274.8 817.7 1282.2 823.4 1283.5 825.3 1284.8 829.1 1286.1 831.0 1286.0 832.9 1284.1 832.4 1283.0 833.0 1282.4 834.9 1282.9 836.8 1284.4 838.7 1287.4 840.6 1289.5 842.5 1290.4 846.3 1292.5 848.2 1295.5 850.1 1297.7 852.1 1299.0 854.0 1300.1 859.7 1297.5 864.7M1404.4 791.5 1398.7 790.1 1396.8 789.1 1394.8 789.0 1396.8 792.2 1397.6 792.9 1402.5 794.2 1404.4 795.6M1276.5 809.9 1274.5 808.7 1268.8 802.8 1265.6 800.5 1264.1 796.7 1259.4 792.9 1258.0 791.0 1259.3 790.2 1261.2 790.2 1262.8 791.0 1265.4 792.9 1268.8 796.5 1270.7 797.8 1273.3 802.4 1277.4 806.2 1278.1 808.1 1276.5 809.9M1331.8 797.0 1326.6 794.8 1326.9 792.9 1328.0 791.9 1329.9 792.3 1331.9 794.8 1332.3 796.7 1331.8 797.0M1221.1 804.5 1218.7 802.4 1218.5 796.7 1219.2 796.3 1221.0 796.7 1224.4 798.6 1224.9 800.0 1227.5 800.5 1226.8 801.1 1224.9 800.6 1223.0 800.7 1221.8 802.4 1221.5 804.3 1221.1 804.5M1284.1 806.3 1282.2 806.6 1281.2 806.2 1279.4 804.3 1279.6 802.4 1281.2 798.6 1284.1 796.4 1286.0 797.0 1287.2 798.6 1287.2 800.5 1286.0 801.9 1285.0 802.4 1284.3 804.3 1284.1 806.3M1232.5 807.3 1227.5 802.4 1228.7 801.1 1230.6 802.0 1232.5 803.8 1233.8 806.2 1232.5 807.3M1404.4 803.4 1402.2 802.4 1404.4 807.4M1396.8 821.8 1394.8 821.7 1391.1 817.7 1389.1 814.4 1387.2 813.4 1385.3 814.5 1383.4 817.1 1382.1 815.8 1373.8 810.1 1373.5 808.1 1373.8 807.6 1376.5 806.2 1378.0 804.3 1379.6 803.3 1381.5 803.1 1383.4 803.5 1385.3 804.8 1390.0 812.0 1391.7 813.9 1397.4 817.7 1398.7 819.6 1396.8 821.8M1223.0 865.4 1219.2 866.8 1217.3 865.4 1210.4 859.7 1209.5 857.8 1211.7 855.9 1211.4 854.0 1209.6 852.0 1207.7 850.7 1201.3 848.2 1199.5 846.3 1200.1 845.7 1202.0 844.9 1207.7 846.7 1208.5 846.3 1209.6 845.2 1211.5 845.0 1213.4 846.3 1215.4 846.9 1216.2 846.3 1216.9 842.5 1218.9 840.6 1220.2 834.9 1220.2 831.0 1218.6 827.2 1215.8 823.4 1213.4 821.4 1212.0 819.6 1211.4 817.7 1212.2 815.8 1213.4 814.6 1215.4 813.7 1217.3 813.4 1219.5 812.0 1221.1 811.4 1223.0 807.6 1223.1 808.1 1224.9 810.0 1226.8 811.2 1230.6 811.1 1233.8 815.8 1233.8 817.7 1232.5 818.7 1228.7 816.8 1226.8 816.3 1224.9 816.8 1224.2 817.7 1223.4 819.6 1224.9 822.1 1227.4 823.4 1228.7 825.3 1229.5 827.2 1228.7 828.5 1224.9 828.0 1223.6 829.1 1226.0 831.0 1228.7 831.9 1230.6 833.6 1236.4 840.5 1238.3 839.5 1238.8 838.7 1239.0 836.8 1234.4 831.8 1233.1 831.0 1232.5 829.4 1231.2 829.1 1232.5 829.0 1233.1 827.2 1236.4 824.2 1242.1 828.4 1244.0 829.0 1245.9 827.2 1245.9 825.3 1248.5 823.4 1247.8 821.5 1245.3 817.7 1240.6 812.0 1240.7 810.0 1242.1 809.1 1244.0 808.6 1247.8 809.5 1253.4 812.0 1255.4 813.9 1255.3 815.8 1257.9 821.5 1257.3 825.3 1259.3 827.5 1261.0 827.2 1260.6 825.3 1261.2 824.9 1263.1 824.8 1265.0 825.4 1268.5 827.2 1270.1 829.1 1268.8 830.6 1266.9 830.9 1265.0 830.6 1263.0 831.0 1263.6 834.9 1265.0 836.1 1266.7 838.7 1267.7 842.5 1269.8 846.3 1268.8 848.1 1266.9 848.2 1264.0 844.4 1259.9 840.6 1261.2 836.2 1262.1 834.9 1259.8 833.0 1257.4 832.2 1253.5 830.4 1251.6 830.3 1250.2 831.0 1249.9 833.0 1251.1 834.9 1253.1 836.8 1258.9 840.6 1259.7 842.5 1258.8 844.4 1261.5 848.2 1260.8 850.1 1259.3 850.9 1257.4 850.7 1255.4 849.9 1251.6 846.9 1250.4 846.3 1251.6 845.1 1254.0 844.4 1254.7 842.5 1251.6 839.6 1245.9 835.6 1244.0 834.5 1242.4 834.9 1241.8 836.8 1242.7 840.6 1245.8 844.4 1246.2 848.2 1246.8 850.1 1245.9 851.3 1242.9 848.2 1242.1 846.6 1238.3 842.1 1237.8 842.5 1238.2 844.4 1241.1 848.2 1240.2 853.0 1238.3 853.2 1230.6 851.0 1228.7 849.9 1226.9 848.2 1224.9 845.3 1222.7 844.4 1221.7 846.3 1222.4 848.2 1226.0 852.1 1227.3 854.0 1228.3 859.7 1226.8 860.5 1223.0 858.3 1221.1 858.4 1220.1 859.7 1223.0 865.4M1278.4 811.0 1277.8 810.0 1278.4 809.8 1278.4 811.0M1297.5 831.3 1295.5 831.4 1293.8 831.0 1289.8 829.1 1288.9 827.2 1289.2 825.3 1288.0 823.4 1282.2 819.8 1279.7 817.7 1278.3 815.8 1277.2 813.9 1278.4 812.1 1280.3 812.3 1289.8 816.8 1291.7 817.0 1293.6 816.1 1295.5 814.4 1297.5 815.2 1301.9 823.4 1303.6 825.3 1304.2 827.2 1303.2 827.5 1301.3 829.5 1299.4 830.7 1297.5 831.3M1207.7 823.9 1205.8 824.5 1203.9 824.1 1200.1 822.6 1198.7 821.5 1198.7 819.6 1200.1 815.9 1202.0 814.7 1203.9 814.7 1205.8 816.0 1208.1 819.6 1208.7 821.5 1207.7 823.9M1202.0 838.9 1200.1 840.1 1198.2 839.7 1194.5 836.8 1193.7 834.9 1193.3 831.0 1194.3 829.8 1196.3 830.0 1198.2 830.8 1200.1 832.6 1201.8 836.8 1202.0 838.9M1213.4 839.1 1211.5 838.7 1209.6 837.8 1207.7 835.3 1206.8 833.0 1207.0 831.0 1207.7 830.4 1209.6 831.4 1213.9 836.8 1214.1 838.7 1213.4 839.1M1367.8 836.8 1366.5 834.9 1364.4 833.0 1362.4 832.5 1362.1 833.0 1364.3 836.1 1366.2 837.6 1367.8 836.8M1192.4 856.6 1190.5 855.3 1188.5 852.1 1188.5 850.1 1190.5 850.3 1191.7 848.2 1190.5 846.5 1188.6 845.3 1186.7 845.7 1184.8 847.0 1182.9 845.9 1181.7 844.4 1181.3 842.5 1182.9 841.9 1183.6 840.6 1182.4 836.8 1182.2 834.9 1182.9 833.7 1184.8 834.3 1186.7 835.9 1188.5 836.8 1190.6 838.7 1192.4 842.4 1196.8 846.3 1197.7 848.2 1200.8 852.1 1201.5 854.0 1200.1 854.8 1196.3 853.4 1194.3 853.2 1193.3 854.0 1192.4 856.6M1177.2 839.6 1175.7 838.7 1177.2 837.9 1177.9 838.7 1177.2 839.6M1233.5 844.4 1232.2 842.5 1228.7 840.0 1226.8 839.7 1225.2 840.6 1225.3 842.5 1226.9 844.4 1230.6 845.7 1232.5 845.6 1233.5 844.4M1374.1 842.5 1371.6 840.6 1371.7 842.5 1373.8 843.8 1374.1 842.5M1181.0 855.3 1175.3 850.9 1163.8 848.7 1161.9 847.7 1160.9 846.3 1161.0 844.4 1163.8 841.9 1165.7 841.6 1167.6 842.5 1173.3 846.8 1177.2 847.0 1179.1 848.2 1182.6 854.0 1181.0 855.3M1353.9 854.0 1354.0 852.1 1352.7 850.1 1350.6 848.2 1345.2 845.3 1344.0 846.3 1345.8 850.1 1347.1 851.4 1350.9 853.5 1352.8 854.1 1353.9 854.0M1184.8 873.4 1182.9 873.8 1181.0 873.3 1175.3 870.5 1171.4 871.0 1169.5 869.9 1165.7 865.6 1163.8 864.9 1161.9 864.9 1158.6 859.7 1155.6 855.9 1154.6 854.0 1154.5 852.1 1155.3 850.1 1156.2 849.6 1158.1 849.6 1159.5 850.1 1165.0 854.0 1170.4 859.7 1173.2 863.5 1177.2 865.7 1179.1 865.9 1181.0 867.7 1183.8 871.1 1185.0 873.1 1184.8 873.4M1286.0 874.6 1283.1 873.1 1276.5 867.9 1275.2 867.3 1274.9 865.4 1275.6 863.5 1275.4 861.6 1270.8 857.8 1269.3 855.9 1266.8 852.1 1266.1 850.1 1266.9 848.6 1267.5 850.1 1268.8 850.9 1269.4 852.1 1276.5 858.4 1284.1 863.3 1285.0 863.5 1284.1 864.0 1283.1 865.4 1283.3 867.3 1286.0 870.7 1286.9 871.1 1287.8 873.1 1286.0 874.6M1337.6 859.3 1337.1 857.8 1337.2 855.9 1335.6 854.8 1333.5 852.1 1333.3 850.1 1335.6 849.8 1337.6 851.8 1338.0 854.0 1337.8 855.9 1338.8 857.8 1337.6 859.3M1381.5 852.1 1380.2 850.1 1377.7 848.5 1376.8 850.1 1377.1 852.1 1379.6 853.0 1381.5 852.1M1404.4 851.5 1402.5 850.1 1400.6 850.0 1399.1 852.1 1396.8 853.8 1396.4 855.9 1397.6 857.8 1398.7 858.9 1400.6 859.7 1404.4 859.9M1247.8 852.8 1247.0 852.1 1247.8 851.5 1248.1 852.1 1247.8 852.8M1249.7 854.3 1249.7 853.9 1249.7 854.3M1284.1 857.0 1282.2 856.2 1280.9 854.0 1282.2 852.6 1284.1 853.0 1285.6 854.0 1285.5 855.9 1284.1 857.0M1312.7 858.5 1310.8 858.5 1308.9 857.7 1307.9 855.9 1308.7 854.0 1310.8 853.8 1312.7 855.4 1313.4 857.8 1312.7 858.5M1182.9 856.1 1182.3 855.9 1182.9 854.9 1183.2 855.9 1182.9 856.1M1282.2 881.5 1280.3 881.6 1274.5 878.2 1273.5 878.8 1272.6 880.8 1270.7 879.3 1269.2 876.9 1268.4 873.1 1266.9 870.9 1265.0 869.7 1261.2 868.1 1259.3 866.6 1254.5 861.6 1251.2 857.8 1250.1 855.9 1251.6 855.4 1259.4 859.7 1265.0 864.5 1266.9 865.5 1268.8 865.6 1273.5 867.3 1274.2 871.1 1275.4 873.1 1276.5 874.0 1280.3 876.2 1282.8 878.8 1283.1 880.7 1282.2 881.5M1152.3 872.3 1148.5 871.1 1146.6 869.8 1144.3 867.3 1143.1 865.4 1143.0 861.6 1146.9 859.7 1147.9 857.8 1148.5 857.4 1150.4 857.2 1152.0 857.8 1152.8 859.7 1151.5 861.6 1151.6 863.5 1153.1 867.3 1154.1 871.1 1152.3 872.3M1307.0 860.2 1306.8 859.7 1307.0 859.2 1307.5 859.7 1307.0 860.2M1298.1 980.0 1296.6 976.2 1297.2 972.4 1296.4 970.4 1293.6 965.7 1291.6 964.7 1290.6 968.5 1289.8 969.5 1287.9 969.8 1286.0 968.3 1284.5 966.6 1282.1 960.9 1277.9 955.2 1276.5 952.0 1274.5 949.8 1272.6 950.1 1271.3 951.3 1270.7 953.9 1270.0 951.3 1268.8 950.7 1268.0 949.4 1265.0 946.8 1263.1 946.1 1260.4 947.5 1259.5 949.4 1259.8 951.3 1263.7 955.2 1264.9 957.1 1265.3 959.0 1265.0 961.1 1264.1 962.8 1263.1 963.2 1261.2 962.6 1259.3 961.3 1257.3 959.0 1256.6 957.1 1257.7 951.3 1256.8 949.4 1251.6 945.4 1249.7 943.4 1249.0 941.8 1249.7 940.5 1251.6 939.9 1255.4 940.0 1257.4 940.5 1261.2 942.3 1261.7 941.8 1259.7 938.0 1259.5 936.1 1258.6 934.2 1253.4 926.5 1249.7 923.8 1247.8 923.5 1245.9 923.7 1243.5 922.7 1242.0 920.8 1240.0 917.0 1239.3 915.1 1240.2 913.2 1244.0 914.8 1249.7 915.7 1253.5 917.3 1254.3 917.0 1255.1 915.1 1255.0 913.2 1253.4 909.3 1251.2 905.5 1250.5 903.6 1250.3 901.7 1249.7 901.1 1243.7 897.9 1241.7 896.0 1239.6 892.2 1240.2 891.6 1242.1 891.8 1244.0 892.7 1245.9 892.2 1243.7 888.3 1243.5 886.4 1244.0 886.1 1245.9 886.8 1247.8 888.2 1249.7 890.2 1250.8 892.2 1250.6 894.1 1249.5 896.0 1251.3 897.9 1253.5 899.2 1255.4 899.7 1257.4 899.3 1259.3 898.3 1261.2 898.8 1261.5 897.9 1261.2 897.4 1257.4 893.8 1254.3 890.2 1253.2 888.3 1253.1 886.4 1253.5 885.8 1255.4 886.0 1259.3 887.5 1261.2 887.4 1261.2 884.9 1259.3 882.7 1255.4 881.9 1253.5 881.1 1251.6 881.4 1249.7 882.3 1247.8 881.8 1245.8 880.7 1242.1 877.2 1236.4 876.0 1235.1 875.0 1234.1 873.1 1233.8 871.1 1234.3 869.2 1236.4 868.8 1238.3 869.3 1240.2 870.2 1244.0 873.2 1249.7 876.1 1251.6 876.3 1252.5 875.0 1251.5 873.1 1247.8 870.8 1242.3 865.4 1241.1 863.5 1240.3 861.6 1242.1 860.2 1245.9 860.7 1251.6 863.0 1256.4 867.3 1259.3 868.4 1261.2 869.8 1264.9 875.0 1265.5 876.9 1265.3 880.7 1267.8 884.5 1269.5 890.2 1271.9 894.1 1274.5 896.4 1276.5 896.9 1280.3 896.9 1282.2 899.5 1283.0 901.7 1282.2 902.8 1278.4 901.6 1276.5 901.4 1275.8 901.7 1274.8 903.6 1275.5 905.5 1279.8 911.2 1279.3 913.2 1276.4 915.1 1276.8 917.0 1278.5 918.9 1278.4 920.1 1276.5 920.7 1272.6 919.9 1271.2 920.8 1271.0 922.7 1272.3 924.6 1274.5 926.9 1280.3 930.9 1284.1 933.2 1287.9 933.8 1289.8 935.0 1290.6 936.1 1290.6 938.0 1289.4 939.9 1289.8 940.6 1291.7 940.4 1295.5 942.7 1299.4 943.8 1301.3 944.8 1305.1 948.9 1308.4 951.3 1310.3 953.3 1311.0 955.2 1310.0 957.1 1308.9 957.7 1303.2 955.0 1302.8 957.1 1301.3 958.4 1293.6 956.6 1291.3 957.1 1293.6 961.4 1295.5 963.3 1299.4 965.2 1303.2 967.8 1305.1 968.0 1307.0 966.7 1308.9 966.6 1310.8 967.5 1315.3 972.4 1316.0 974.3 1316.0 976.2 1316.8 978.1 1318.6 980.0M1404.4 875.4 1400.9 871.1 1400.2 869.2 1400.0 865.4 1398.4 863.5 1394.8 861.0 1392.9 860.4 1391.0 860.6 1389.4 861.6 1389.5 863.5 1389.1 863.8 1387.2 863.3 1381.5 863.2 1381.1 863.5 1382.9 871.1 1385.6 876.9 1385.9 878.8 1386.8 880.7 1386.3 882.6 1383.4 883.0 1380.8 884.5 1378.9 886.4 1380.7 890.2 1383.4 891.8 1389.1 892.2 1390.9 894.1 1392.3 897.9 1391.0 898.6 1389.1 898.6 1387.8 899.8 1389.2 901.7 1394.8 906.8 1395.9 907.4 1396.8 908.5 1398.5 907.4 1398.9 905.5 1402.5 902.8 1404.4 903.3M1179.1 863.8 1179.1 863.4 1179.1 863.8M1219.2 892.5 1217.3 892.7 1213.4 888.7 1209.6 886.0 1207.7 886.4 1205.8 887.8 1203.9 887.7 1202.0 886.5 1200.3 884.5 1199.6 880.7 1198.1 878.8 1191.6 873.1 1191.1 871.1 1191.5 869.2 1192.4 868.0 1194.3 868.1 1196.7 869.2 1199.9 873.1 1202.0 874.4 1205.8 878.7 1207.7 880.3 1209.0 878.8 1209.3 876.9 1212.2 875.0 1211.5 873.1 1210.2 871.1 1205.1 865.4 1204.5 863.5 1205.8 862.3 1207.7 861.9 1209.6 862.9 1212.7 867.3 1213.4 868.1 1215.4 869.1 1221.1 870.0 1223.0 871.8 1224.5 875.0 1223.0 876.1 1221.1 876.2 1219.2 875.8 1217.8 876.9 1219.6 880.7 1220.0 882.6 1219.2 885.4 1217.2 886.4 1216.5 888.3 1219.3 892.2 1219.2 892.5M1295.5 871.9 1293.6 871.5 1289.8 871.6 1289.4 871.1 1289.4 869.2 1288.5 867.3 1287.9 866.2 1286.9 865.4 1287.9 864.7 1289.8 864.7 1291.7 865.1 1293.6 866.2 1295.5 869.2 1296.4 871.1 1295.5 871.9M1396.8 873.7 1392.9 870.9 1391.8 869.2 1390.8 867.3 1390.3 865.4 1391.0 864.4 1397.4 871.1 1397.7 873.1 1396.8 873.7M1161.9 867.5 1159.9 867.3 1161.9 866.9 1161.9 867.5M1139.0 870.0 1138.7 869.2 1139.0 869.0 1140.6 869.2 1139.0 870.0M1360.5 871.3 1360.1 871.1 1360.5 870.6 1360.8 871.1 1360.5 871.3M1154.2 873.4 1154.2 872.5 1154.2 873.4M1169.5 875.0 1167.6 876.4 1166.6 875.0 1167.6 874.0 1169.5 875.0M1305.1 885.3 1301.3 884.2 1297.5 885.2 1295.5 885.2 1294.1 884.5 1292.9 882.6 1293.3 880.7 1294.6 878.8 1295.5 878.4 1297.5 878.3 1301.3 877.4 1303.2 878.9 1306.6 884.5 1305.1 885.3M1402.5 882.1 1400.0 880.7 1400.6 880.0 1402.7 880.7 1402.5 882.1M1340.5 896.0 1343.3 895.7 1345.1 894.1 1344.5 892.2 1341.4 889.5 1334.2 884.5 1329.9 882.3 1324.2 883.0 1322.3 882.3 1320.4 882.4 1320.2 882.6 1321.9 884.5 1324.2 885.4 1326.1 887.0 1329.3 890.2 1331.8 893.7 1333.7 895.1 1337.6 896.3 1340.5 896.0M1351.6 888.3 1351.2 886.4 1349.0 883.0 1347.1 881.9 1345.2 882.1 1344.2 882.6 1344.0 884.5 1344.9 886.4 1347.1 889.1 1349.0 890.2 1350.9 889.6 1351.6 888.3M1404.4 883.0 1402.7 882.6 1404.4 882.1M1287.9 892.0 1285.6 890.2 1284.3 888.3 1286.0 888.0 1289.0 890.2 1287.9 892.0M1192.4 898.6 1190.5 898.6 1188.6 897.3 1185.2 890.2 1186.7 888.6 1187.5 890.2 1192.7 896.0 1193.1 897.9 1192.4 898.6M1232.5 894.0 1230.6 893.3 1229.2 892.2 1228.4 890.2 1228.7 889.2 1230.6 889.4 1234.4 892.2 1232.5 894.0M1404.4 901.1 1398.7 895.0 1396.8 893.6 1394.8 892.8 1390.2 892.2 1391.0 890.0 1392.9 890.2 1394.8 891.6 1398.7 892.1 1400.6 892.8 1404.4 894.9M1264.8 894.1 1263.1 890.3 1261.2 891.0 1260.9 892.2 1261.4 894.1 1263.1 895.7 1264.8 894.1M1349.6 980.0 1348.7 978.1 1346.8 976.2 1333.7 969.6 1331.8 968.1 1327.3 962.8 1326.1 962.2 1320.4 961.4 1318.5 960.5 1315.5 957.1 1312.0 949.4 1310.2 947.5 1303.2 940.4 1301.3 939.3 1297.5 938.6 1294.8 936.1 1297.5 932.9 1299.4 933.1 1301.3 934.1 1302.1 932.3 1301.0 928.4 1301.3 927.7 1303.2 926.4 1304.7 924.6 1304.1 922.7 1303.0 920.8 1299.4 916.9 1296.7 913.2 1295.9 911.2 1295.9 907.4 1295.2 905.5 1292.9 901.7 1291.7 896.6 1289.8 893.3 1288.0 892.2 1289.8 891.1 1296.3 894.1 1297.2 896.0 1305.1 904.5 1310.8 907.2 1314.2 909.3 1316.3 911.2 1321.8 917.0 1322.3 918.5 1323.4 918.9 1320.4 919.6 1318.5 919.6 1316.6 919.1 1312.7 919.1 1308.9 918.7 1307.7 918.9 1307.3 920.8 1312.7 926.2 1314.6 927.3 1316.6 925.7 1318.5 925.3 1320.4 925.9 1324.2 928.1 1328.0 926.6 1329.9 927.7 1335.0 934.2 1335.5 936.1 1335.5 938.0 1334.4 939.9 1335.6 940.1 1339.5 942.2 1341.4 942.5 1343.0 941.8 1343.6 939.9 1340.3 934.2 1340.9 932.3 1343.4 930.3 1345.2 927.5 1347.1 928.5 1348.5 932.3 1347.8 934.2 1348.3 936.1 1351.7 941.8 1352.9 945.6 1355.3 949.4 1361.0 955.2 1363.3 959.0 1364.8 964.7 1364.5 966.6 1365.0 968.5 1366.0 970.4 1368.1 973.4 1371.9 975.1 1375.7 974.3 1377.2 976.2 1378.1 978.1 1377.7 979.5 1376.8 980.0M1303.2 896.5 1301.3 896.2 1297.8 894.1 1299.4 893.6 1302.6 894.1 1303.7 896.0 1303.2 896.5M1378.4 901.7 1378.3 899.8 1375.7 896.9 1373.8 895.4 1371.9 895.7 1373.1 899.8 1373.8 900.6 1375.7 901.9 1377.7 902.3 1378.4 901.7M1119.9 911.4 1118.0 912.0 1116.1 911.9 1114.1 910.8 1112.6 909.3 1107.3 901.7 1108.2 899.8 1110.3 898.9 1117.2 903.6 1119.1 905.5 1120.0 907.4 1119.8 909.3 1120.2 911.2 1119.9 911.4M1211.5 904.0 1209.6 904.9 1205.8 905.2 1203.9 902.9 1202.5 899.8 1205.8 898.0 1207.7 898.2 1211.3 901.7 1211.9 903.6 1211.5 904.0M1140.9 905.4 1139.1 903.6 1138.1 901.7 1139.0 900.6 1141.2 901.7 1142.7 903.6 1140.9 905.4M1104.6 904.0 1104.0 903.6 1105.0 903.6 1104.6 904.0M1384.2 917.0 1385.7 915.1 1385.3 914.9 1384.4 913.2 1382.5 911.2 1381.5 910.4 1375.6 907.4 1370.0 903.2 1369.7 903.6 1369.4 907.4 1371.0 909.3 1373.8 911.1 1377.7 915.9 1379.6 916.9 1381.5 917.3 1384.2 917.0M1272.0 915.1 1271.7 913.2 1266.7 907.4 1265.0 904.9 1264.6 905.5 1263.1 905.9 1260.8 907.4 1261.2 909.3 1263.5 911.2 1266.9 913.5 1270.7 915.5 1272.0 915.1M1242.1 909.7 1240.4 909.3 1242.1 908.3 1242.5 909.3 1242.1 909.7M1287.9 912.8 1286.0 910.4 1285.6 909.3 1286.0 907.8 1287.9 908.9 1289.3 911.2 1287.9 912.8M1352.8 913.4 1350.0 913.2 1350.7 911.2 1352.8 912.8 1353.2 913.2 1352.8 913.4M1404.4 917.0 1403.7 915.1 1401.9 913.2 1399.1 911.2 1398.7 910.6 1396.8 910.6 1395.5 913.2 1395.7 915.1 1394.8 916.0 1391.0 913.9 1389.1 914.0 1388.1 915.1 1387.9 917.0 1392.9 922.7 1395.2 926.5 1395.6 930.3 1396.3 932.3 1396.5 936.1 1398.0 941.8 1400.6 946.3 1402.5 947.2 1403.7 945.6 1403.7 939.9 1404.4 936.4M1156.1 980.0 1154.2 978.1 1152.3 976.7 1147.0 974.3 1144.4 972.4 1142.9 968.5 1145.5 966.6 1147.8 962.8 1145.3 960.9 1142.8 960.2 1140.9 960.8 1141.1 962.8 1142.5 966.6 1137.1 967.9 1133.2 965.6 1129.2 960.9 1128.3 959.0 1129.0 957.1 1128.5 955.2 1127.5 953.4 1123.7 950.6 1121.8 948.4 1116.8 941.8 1116.1 939.6 1112.4 934.2 1114.1 932.3 1116.1 931.4 1119.9 933.0 1120.4 932.3 1120.1 930.3 1113.1 922.7 1112.2 921.9 1107.2 918.9 1104.6 916.5 1100.8 916.8 1098.9 917.8 1093.1 915.8 1092.5 915.1 1092.0 913.2 1091.2 912.2 1087.4 915.3 1074.3 928.4 1072.8 930.3 1071.8 932.3 1066.4 936.4 1055.2 947.5 1047.3 955.9 1035.9 966.8 1028.2 975.0 1024.4 978.5M1208.1 920.8 1210.0 918.9 1210.0 917.0 1208.5 915.1 1203.9 912.7 1200.1 912.7 1199.5 913.2 1198.9 915.1 1200.1 917.0 1203.9 919.5 1207.7 921.2 1208.1 920.8M1396.8 917.4 1396.2 917.0 1396.8 916.5 1397.1 917.0 1396.8 917.4M1267.5 920.8 1265.0 918.5 1264.2 918.9 1264.0 920.8 1265.0 922.6 1266.9 922.7 1267.5 920.8M1326.1 921.2 1325.7 920.8 1326.1 920.6 1326.1 921.2M1227.7 980.0 1224.9 978.0 1223.0 975.3 1218.6 966.6 1217.7 962.8 1219.2 961.6 1228.7 969.5 1230.6 970.3 1234.4 970.3 1236.4 970.8 1237.9 968.5 1238.0 966.6 1236.4 963.9 1235.1 962.8 1234.4 961.7 1232.5 961.5 1230.6 962.1 1228.7 963.6 1226.8 962.3 1225.9 960.9 1225.5 955.2 1223.0 951.2 1221.3 949.4 1221.1 947.9 1220.7 949.4 1219.2 949.7 1217.3 947.8 1215.4 943.7 1214.9 939.9 1215.4 939.0 1221.1 944.1 1228.7 947.7 1230.6 948.0 1231.5 947.5 1232.0 945.6 1230.6 942.7 1228.7 940.9 1226.8 940.1 1224.9 940.5 1223.0 940.0 1222.1 938.0 1220.7 936.1 1217.3 933.4 1215.4 932.7 1212.8 930.3 1213.4 929.5 1215.4 929.8 1219.2 931.3 1221.1 932.6 1224.9 937.2 1228.7 936.0 1230.6 936.9 1232.5 937.1 1233.5 936.1 1232.6 934.2 1230.6 932.3 1228.7 931.2 1221.1 927.6 1217.3 925.3 1215.3 924.6 1209.6 922.7 1207.7 925.3 1203.9 926.2 1202.0 926.2 1200.1 924.8 1198.2 922.6 1196.3 921.3 1194.3 921.1 1192.8 922.7 1193.0 924.6 1194.3 926.6 1196.3 928.1 1200.1 930.1 1203.9 936.1 1204.3 938.0 1202.0 940.6 1201.8 939.9 1200.1 938.1 1196.3 935.8 1193.7 932.3 1192.4 931.1 1190.5 930.0 1188.6 929.8 1188.0 930.3 1188.7 932.3 1193.5 936.1 1196.3 941.3 1198.0 943.7 1197.9 945.6 1192.4 947.0 1190.5 949.0 1190.3 949.4 1190.5 950.3 1192.4 953.2 1193.9 953.3 1190.5 953.9 1188.6 955.2 1188.4 957.1 1190.5 959.3 1192.4 960.1 1196.4 960.9 1198.2 961.8 1203.9 969.1 1207.7 970.8 1213.4 976.0 1218.3 978.1 1219.9 980.0M1123.7 962.9 1121.8 963.5 1116.1 961.3 1112.9 959.0 1111.0 957.1 1110.3 955.5 1105.2 955.2 1102.7 954.0 1101.8 953.3 1101.1 951.3 1100.9 949.4 1102.5 943.7 1101.9 941.8 1094.6 932.3 1090.3 928.4 1089.3 926.4 1091.2 925.3 1093.1 925.4 1096.1 926.5 1097.9 930.3 1104.6 936.5 1106.5 937.8 1108.4 938.0 1110.3 937.7 1112.2 939.1 1112.9 939.9 1112.0 941.8 1114.1 945.6 1118.4 951.3 1120.1 957.1 1123.7 962.9M1100.8 928.5 1097.8 926.5 1098.9 925.9 1100.8 925.8 1101.6 926.5 1101.3 928.4 1100.8 928.5M1097.0 968.6 1095.1 969.5 1091.2 969.1 1085.5 967.0 1083.6 967.9 1081.7 966.6 1081.6 964.7 1081.7 964.2 1085.5 964.4 1085.6 962.8 1084.2 960.9 1077.9 957.7 1074.0 953.5 1072.1 953.8 1068.3 951.6 1063.4 947.5 1062.6 946.2 1062.4 945.6 1064.5 943.0 1066.4 942.6 1068.2 943.7 1069.8 945.6 1070.2 947.5 1074.0 953.1 1076.0 951.4 1075.4 949.4 1072.1 946.4 1070.8 945.6 1070.2 944.3 1069.1 943.7 1068.4 938.0 1072.5 932.3 1074.0 931.6 1077.9 931.5 1079.2 930.3 1079.8 928.0 1081.7 928.0 1085.5 932.3 1089.3 934.0 1091.2 935.2 1093.8 938.0 1094.7 939.9 1095.6 943.7 1093.1 945.9 1092.7 947.5 1093.7 953.3 1093.1 954.7 1091.2 955.7 1086.0 953.3 1084.3 951.3 1084.1 947.5 1083.2 945.6 1081.7 943.7 1079.8 942.6 1078.3 943.7 1078.6 945.6 1081.3 949.4 1081.3 951.3 1083.6 953.8 1087.4 959.4 1091.2 961.2 1093.1 961.2 1095.1 960.5 1097.0 960.6 1098.9 961.3 1100.3 962.8 1101.4 964.7 1100.8 965.4 1097.0 964.3 1096.4 964.7 1096.3 966.6 1097.0 968.6M1379.7 930.3 1377.7 927.7 1375.8 928.4 1377.7 929.9 1379.7 930.3M1404.4 930.5 1403.8 928.4 1404.4 927.5M1275.0 941.8 1275.8 938.0 1274.5 936.2 1274.0 934.2 1272.8 932.3 1270.7 931.9 1265.0 929.6 1261.2 929.1 1260.6 930.3 1267.4 936.1 1268.3 938.0 1268.6 939.9 1270.3 941.8 1272.6 942.9 1274.5 942.8 1275.0 941.8M1362.1 972.4 1360.1 968.5 1359.7 966.6 1359.8 964.7 1358.8 962.8 1356.7 960.8 1354.7 960.8 1352.8 961.5 1349.0 959.2 1347.9 960.9 1347.4 962.8 1348.0 964.7 1347.1 967.0 1346.8 966.6 1345.2 966.3 1341.4 962.9 1339.5 962.8 1341.4 962.5 1342.3 960.9 1342.6 959.0 1341.4 957.1 1343.3 956.0 1346.0 957.1 1347.1 958.0 1349.0 958.4 1349.4 955.2 1348.5 949.4 1347.1 948.2 1345.2 947.4 1343.3 947.1 1339.5 947.9 1335.6 947.0 1334.9 947.5 1334.9 949.4 1335.9 951.3 1335.6 952.0 1333.7 952.3 1331.8 951.5 1329.8 949.4 1326.1 943.9 1324.0 941.8 1322.7 939.9 1324.2 938.7 1328.0 940.9 1329.9 941.2 1333.3 939.9 1332.5 938.0 1330.8 936.1 1328.6 932.3 1326.1 929.8 1322.3 932.0 1318.5 931.7 1314.6 932.7 1312.7 932.6 1312.2 934.2 1314.6 939.6 1316.6 941.3 1320.4 943.7 1321.1 945.6 1320.4 946.5 1316.6 944.6 1314.6 945.3 1314.9 947.5 1315.7 949.4 1317.8 951.3 1326.1 957.7 1329.9 956.5 1331.8 956.7 1339.4 960.9 1339.5 962.8 1338.2 964.7 1339.0 966.6 1341.4 968.0 1343.3 968.1 1345.2 967.4 1346.4 968.5 1350.9 970.8 1351.7 970.4 1352.8 968.7 1354.7 969.3 1355.5 970.4 1358.6 973.0 1360.5 973.1 1362.1 972.4M1080.3 938.0 1079.8 937.5 1078.7 938.0 1079.8 938.6 1080.3 938.0M1177.2 939.9 1175.3 937.0 1173.3 936.3 1172.0 938.0 1175.3 940.6 1177.2 940.5 1177.2 939.9M1213.4 938.3 1213.2 938.0 1213.4 937.5 1214.1 938.0 1213.4 938.3M1322.3 938.2 1322.3 937.9 1322.3 938.2M1134.0 947.5 1134.1 945.6 1133.1 943.7 1131.3 942.0 1129.4 941.8 1127.8 943.7 1128.1 945.6 1129.4 947.0 1131.3 948.1 1133.2 948.4 1134.0 947.5M1183.4 980.0 1182.5 978.1 1180.9 976.2 1177.2 973.4 1175.3 972.6 1169.5 967.9 1167.6 966.0 1163.8 961.0 1161.9 959.3 1158.1 959.9 1156.7 959.0 1150.3 949.4 1149.8 945.6 1147.3 943.7 1144.7 942.5 1142.8 941.9 1139.0 942.1 1137.1 943.7 1137.6 945.6 1147.2 957.1 1150.9 960.9 1151.5 962.8 1149.5 964.7 1150.4 965.3 1151.4 966.6 1152.4 968.5 1152.8 970.4 1154.3 972.4 1156.2 972.8 1158.1 972.4 1160.0 973.2 1162.4 976.2 1164.2 980.0M1163.6 957.1 1164.2 955.2 1165.7 953.9 1166.9 951.3 1166.3 949.4 1161.9 943.2 1160.0 942.9 1159.2 943.7 1158.1 946.8 1154.2 946.0 1153.2 947.5 1157.1 951.3 1159.2 955.2 1161.9 958.2 1163.6 957.1M1217.3 961.9 1216.8 960.9 1213.4 958.0 1211.0 953.3 1204.6 947.5 1202.9 945.6 1202.7 943.7 1203.9 941.9 1205.8 943.6 1207.7 943.8 1216.2 955.2 1217.3 957.1 1217.8 959.0 1217.9 960.9 1217.3 961.9M1387.3 945.6 1387.0 945.6 1387.3 945.6M1295.8 947.5 1295.5 947.3 1294.8 947.5 1295.5 948.4 1295.8 947.5M1209.6 968.3 1207.7 967.8 1207.4 966.6 1205.8 965.1 1204.8 964.7 1202.0 962.1 1200.1 961.0 1198.2 958.5 1196.3 954.2 1194.4 953.3 1200.1 950.6 1202.0 951.4 1205.8 955.7 1209.6 959.0 1211.0 960.9 1211.7 964.7 1211.1 966.6 1209.6 968.3M1067.7 980.0 1062.7 976.2 1056.9 970.8 1055.0 969.5 1053.0 969.2 1051.1 969.5 1049.2 968.9 1046.5 966.6 1045.5 964.7 1047.3 964.1 1051.1 965.5 1052.8 964.7 1053.0 963.6 1058.3 966.6 1062.3 970.4 1063.0 970.4 1062.7 968.5 1059.6 964.7 1053.5 959.0 1052.7 955.2 1053.3 953.3 1055.0 952.4 1056.9 953.0 1062.6 956.6 1066.1 962.8 1070.5 966.6 1071.6 968.5 1071.7 970.4 1071.1 972.4 1073.7 980.0M1341.4 956.5 1340.9 955.2 1341.4 955.1 1341.4 956.5M1234.6 959.0 1232.5 956.7 1232.2 957.1 1232.5 957.8 1234.4 959.6 1234.6 959.0M1051.1 962.3 1048.9 960.9 1048.2 959.0 1049.2 957.7 1051.1 957.5 1052.6 959.0 1053.0 960.9 1051.1 962.3M1385.3 972.7 1383.4 973.4 1379.6 972.2 1375.7 971.7 1372.9 968.5 1370.7 964.7 1367.6 960.9 1366.7 959.0 1368.1 957.7 1373.8 959.6 1375.7 959.2 1377.7 957.8 1379.6 958.0 1387.2 961.9 1387.9 962.8 1386.0 966.6 1386.9 970.4 1385.3 972.7M1258.3 980.0 1255.2 978.1 1253.9 976.2 1255.2 974.3 1255.6 972.4 1255.5 970.4 1254.6 968.5 1249.4 964.7 1246.1 960.9 1247.8 959.0 1253.5 959.9 1254.8 960.9 1256.2 962.8 1257.4 965.8 1262.0 972.4 1265.0 975.4 1266.5 976.2 1266.5 978.1 1265.0 979.1 1264.4 980.0M1125.6 965.3 1124.9 964.7 1125.6 964.5 1126.1 964.7 1125.6 965.3M1076.5 980.0 1076.9 978.1 1077.0 972.4 1076.5 970.4 1075.3 968.5 1074.7 966.6 1076.0 965.4 1079.8 966.7 1081.7 966.6 1083.3 968.5 1083.1 972.4 1083.5 974.3 1087.9 980.0M1105.1 980.0 1103.2 974.3 1104.3 972.4 1104.2 970.4 1102.7 966.6 1104.6 966.6 1108.4 965.8 1112.2 965.9 1114.1 966.4 1121.8 969.3 1125.6 970.4 1127.5 970.5 1127.5 968.5 1126.3 966.6 1127.5 965.6 1129.4 966.6 1132.4 970.4 1137.1 973.6 1139.0 973.9 1140.9 972.6 1142.8 976.0 1143.3 978.1 1144.7 980.0M1280.5 980.0 1280.2 978.1 1277.8 974.3 1276.5 972.7 1272.1 970.4 1271.2 968.5 1271.5 966.6 1272.6 966.1 1273.8 966.6 1287.9 973.3 1289.0 974.3 1290.4 976.2 1291.8 980.0M1322.9 980.0 1320.5 976.2 1320.2 974.3 1322.3 973.6 1323.7 972.4 1324.2 970.2 1326.1 970.0 1331.8 971.5 1333.3 972.4 1335.4 974.3 1336.1 976.2 1337.8 978.1 1340.9 980.0M1047.6 980.0 1045.4 979.6 1043.5 978.0 1040.9 974.3 1040.7 972.4 1041.6 971.7 1043.5 972.6 1047.3 975.9 1049.2 976.5 1051.1 975.9 1053.0 976.2 1059.3 980.0M1189.4 972.4 1188.6 971.9 1187.1 972.4 1188.6 973.9 1189.4 972.4M1129.3 980.0 1128.4 978.1 1125.6 975.7 1123.7 974.4 1121.8 974.1 1122.0 976.2 1124.7 980.0M1234.7 976.2 1232.5 973.7 1232.0 974.3 1232.5 976.5 1234.7 976.2M1403.9 980.0 1402.5 978.7 1400.6 977.8 1398.7 977.4 1396.8 976.3 1396.2 974.3 1396.8 973.7 1400.6 974.2 1402.5 973.4 1404.4 973.6M1030.2 980.0 1029.0 978.1 1029.4 976.2 1030.1 975.7 1033.9 975.1 1037.8 976.5 1040.6 978.1 1042.8 980.0M1169.9 980.0 1167.4 976.2 1167.6 975.8 1169.5 976.2 1171.4 977.5 1173.4 978.1 1176.2 980.0M1208.5 980.0 1207.8 978.1 1206.2 976.2 1203.9 974.6 1202.0 974.8 1198.6 976.2 1198.4 978.1 1198.7 980.0M1271.0 980.0 1268.8 978.3 1267.8 978.1 1268.8 977.4 1270.7 977.1 1276.5 979.2 1280.0 980.0M1387.6 980.0 1389.4 978.1 1391.0 977.3 1392.9 977.1 1394.8 977.3 1396.8 978.2 1398.6 980.0M1373.8 980.0 1370.0 978.6 1368.1 978.6 1367.5 980.0" stroke="#45c0c0"/>
<path d="M1387.2 663.1 1387.2 662.8 1387.2 663.1M1377.7 673.2 1377.4 672.6 1378.3 672.6 1377.7 673.2M1379.6 674.8 1378.4 674.5 1379.6 673.2 1380.2 674.5 1379.6 674.8M1371.9 743.7 1370.0 742.7 1366.9 739.4 1368.1 738.5 1370.0 739.2 1371.9 741.3 1372.2 743.2 1371.9 743.7M1266.9 747.1 1265.0 746.6 1263.4 745.1 1263.1 743.1 1265.0 742.4 1266.6 743.2 1267.6 745.1 1266.9 747.1M1278.4 759.2 1278.4 758.3 1278.4 759.2M1297.5 776.2 1295.5 777.2 1291.7 775.7 1293.0 773.8 1295.5 773.3 1296.7 773.8 1297.5 774.8 1297.7 775.7 1297.5 776.2M1259.3 777.8 1258.7 777.6 1259.3 777.5 1259.3 777.8M1328.0 782.0 1327.5 781.4 1328.0 781.1 1328.7 781.4 1328.0 782.0M1329.9 783.6 1329.2 783.3 1329.9 782.5 1330.9 783.3 1329.9 783.6M1282.2 788.0 1281.7 787.1 1282.2 786.7 1282.6 787.1 1282.2 788.0M1247.8 814.0 1248.1 813.9 1247.8 814.0M1205.8 821.8 1203.9 822.7 1202.0 822.4 1200.8 821.5 1200.3 819.6 1202.0 817.8 1203.9 818.0 1205.8 819.6 1206.1 821.5 1205.8 821.8M1328.0 835.3 1326.1 835.2 1325.7 834.9 1324.0 833.0 1323.7 831.0 1324.2 830.7 1326.1 832.0 1328.0 834.6 1328.0 835.3M1379.6 858.1 1379.0 857.8 1379.6 857.5 1380.4 857.8 1379.6 858.1M1146.6 864.5 1146.2 863.5 1146.6 863.2 1147.2 863.5 1146.6 864.5M1148.5 865.7 1147.8 865.4 1148.5 865.0 1148.5 865.7M1251.6 870.2 1249.3 869.2 1247.2 867.3 1247.5 865.4 1251.4 867.3 1253.5 869.2 1251.6 870.2M1125.6 887.2 1123.7 886.4 1125.6 884.6 1126.7 886.4 1125.6 887.2M1362.4 901.6 1356.7 897.9 1354.8 896.0 1353.9 894.1 1354.7 892.6 1356.7 893.1 1362.9 897.9 1364.1 899.8 1362.4 901.6M1125.6 896.7 1125.3 896.0 1125.6 895.6 1126.9 896.0 1125.6 896.7M1127.5 898.0 1127.2 897.9 1127.5 897.3 1127.5 898.0M1387.2 905.9 1387.0 905.5 1387.6 905.5 1387.2 905.9M1389.1 908.1 1387.7 907.4 1389.1 906.0 1391.0 907.4 1389.1 908.1M1177.2 912.0 1175.3 911.4 1173.6 909.3 1175.3 907.6 1177.8 909.3 1178.3 911.2 1177.2 912.0M1389.1 932.5 1387.2 931.3 1385.3 929.0 1385.0 926.5 1382.3 922.7 1382.7 920.8 1383.4 920.7 1385.3 921.6 1388.2 924.6 1388.7 926.5 1388.2 928.4 1389.4 930.3 1389.4 932.3 1389.1 932.5M1177.2 933.4 1175.3 933.6 1173.3 931.8 1172.8 930.3 1172.1 926.5 1172.6 924.6 1173.3 923.7 1176.5 928.4 1177.4 932.3 1177.2 933.4M1234.4 930.8 1234.1 930.3 1234.4 930.2 1234.4 930.8M1308.9 936.7 1307.0 935.2 1306.3 934.2 1306.0 932.3 1307.0 931.7 1309.0 934.2 1309.4 936.1 1308.9 936.7M1196.3 974.9 1194.3 975.0 1192.4 974.3 1191.1 972.4 1188.6 970.9 1186.7 971.4 1185.6 972.4 1184.8 974.6 1182.9 974.5 1179.1 971.4 1175.3 966.9 1173.3 965.4 1169.5 964.9 1167.6 963.2 1166.3 960.9 1166.2 957.1 1169.2 951.3 1164.8 945.6 1163.9 943.7 1164.3 941.8 1167.6 941.2 1171.4 941.4 1173.3 942.8 1175.3 946.2 1177.2 947.2 1179.1 947.0 1179.5 945.6 1179.5 941.8 1178.6 938.0 1178.9 936.1 1182.9 935.4 1184.8 933.9 1186.7 934.0 1188.6 935.1 1190.5 936.9 1192.7 939.9 1194.3 943.7 1193.3 945.6 1190.2 947.5 1188.9 949.4 1188.6 951.4 1185.9 953.3 1186.1 955.2 1186.8 957.1 1188.6 959.0 1195.0 962.8 1198.2 966.5 1200.5 968.5 1201.7 970.4 1200.9 972.4 1196.3 974.9M1184.0 953.3 1182.9 952.0 1182.1 953.3 1182.9 953.6 1184.0 953.3M1202.0 958.4 1200.1 957.9 1198.5 955.2 1199.1 953.3 1200.1 952.7 1202.0 953.1 1203.5 955.2 1203.9 957.1 1202.0 958.4M1320.4 957.4 1320.0 957.1 1320.4 956.9 1320.4 957.4M1209.6 965.3 1207.7 965.7 1205.1 962.8 1204.4 960.9 1204.6 959.0 1205.8 958.6 1207.7 959.7 1208.7 960.9 1209.7 962.8 1209.9 964.7 1209.6 965.3M1068.3 976.3 1068.3 976.3M1284.1 976.4 1283.8 976.2 1284.1 975.9 1284.1 976.4" stroke="#45c0c0"/>
<path d="M1203.9 822.2 1201.5 821.5 1201.0 819.6 1202.0 818.6 1203.9 818.6 1205.0 819.6 1205.1 821.5 1203.9 822.2M1175.3 931.6 1173.3 929.3 1173.0 928.4 1173.0 926.5 1173.3 925.8 1175.6 928.4 1176.0 930.3 1175.3 931.6M1186.7 950.5 1184.8 950.4 1182.9 949.3 1181.5 947.5 1180.9 945.6 1180.0 939.9 1180.0 938.0 1181.0 937.2 1186.7 935.5 1188.6 936.4 1190.5 938.3 1191.6 939.9 1193.0 943.7 1192.0 945.6 1189.4 947.5 1186.7 950.5M1198.2 973.3 1196.3 973.8 1194.3 973.7 1190.5 971.2 1188.6 970.4 1186.7 970.9 1184.8 972.6 1182.9 973.0 1179.1 970.1 1173.3 964.1 1169.5 963.5 1168.8 962.8 1167.4 960.9 1166.9 959.0 1167.2 957.1 1169.5 953.0 1171.3 951.3 1169.5 949.4 1167.6 948.5 1165.7 946.3 1164.8 943.7 1165.7 942.6 1167.6 942.2 1169.5 942.4 1171.4 943.2 1172.1 943.7 1173.0 945.6 1173.3 949.0 1175.3 949.5 1179.1 949.1 1181.0 949.9 1181.7 951.3 1181.0 953.3 1184.8 954.7 1185.9 957.1 1187.8 959.0 1193.5 962.8 1196.2 966.6 1198.7 968.5 1200.0 970.4 1199.5 972.4 1198.2 973.3M1202.0 956.6 1200.1 956.3 1199.6 955.2 1200.1 954.2 1202.0 954.5 1202.4 955.2 1202.0 956.6M1205.8 961.7 1205.8 960.6 1207.3 960.9 1205.8 961.7M1207.7 964.8 1206.1 962.8 1207.7 961.0 1208.7 962.8 1207.7 964.8" stroke="#e8dd28"/>
<path d="M1188.6 945.7 1186.7 946.9 1184.8 946.7 1183.7 945.6 1182.7 943.7 1182.2 941.8 1182.4 939.9 1182.9 939.5 1184.8 939.1 1186.7 939.3 1188.6 940.6 1189.4 941.8 1189.8 943.7 1188.6 945.7M1192.4 968.6 1190.5 969.3 1184.8 970.3 1182.9 970.3 1181.0 969.5 1177.7 966.6 1176.4 964.7 1175.3 959.2 1173.3 958.6 1171.4 959.4 1170.8 959.0 1171.0 957.1 1171.4 956.4 1175.3 954.5 1176.7 953.3 1179.1 953.2 1181.1 955.2 1182.5 957.1 1188.6 960.9 1190.9 962.8 1192.1 964.7 1192.8 966.6 1192.4 968.6" stroke="#e8dd28"/>
<path d="M1186.7 968.8 1184.8 968.9 1182.9 968.6 1181.0 967.8 1179.4 966.6 1178.2 964.7 1178.2 962.8 1179.4 960.9 1181.0 959.8 1182.9 959.7 1186.7 960.9 1189.3 962.8 1190.4 964.7 1190.5 966.6 1188.6 968.4 1186.7 968.8" stroke="#e8dd28"/>
<path d="M1188.6 966.7 1186.7 967.7 1184.8 967.8 1182.9 967.3 1181.5 966.6 1179.9 964.7 1180.1 962.8 1181.0 961.9 1182.9 961.1 1184.8 961.3 1186.7 962.0 1187.7 962.8 1189.0 964.7 1188.6 966.7" stroke="#e8dd28"/>
<path d="M1184.8 966.7 1182.9 965.9 1181.6 964.7 1182.2 962.8 1182.9 962.4 1184.8 962.4 1185.9 962.8 1187.4 964.7 1186.7 966.2 1184.8 966.7" stroke="#e8dd28"/>
<path d="M1184.8 964.8 1184.5 964.7 1184.8 964.5 1184.8 964.8" stroke="#e8dd28"/>
</g>
<path d="M1060.7 980v-3.7M1060.7 600v3.7 M1024.4 943.7h3.7M1404.4 943.7h-3.7 M1118 980v-3.7M1118 600v3.7 M1024.4 886.4h3.7M1404.4 886.4h-3.7 M1175.3 980v-3.7M1175.3 600v3.7 M1024.4 829.1h3.7M1404.4 829.1h-3.7 M1213.4 980v-3.7M1213.4 600v3.7 M1024.4 791h3.7M1404.4 791h-3.7 M1251.6 980v-3.7M1251.6 600v3.7 M1024.4 752.8h3.7M1404.4 752.8h-3.7 M1308.9 980v-3.7M1308.9 600v3.7 M1024.4 695.5h3.7M1404.4 695.5h-3.7" stroke="#262626" stroke-width="1" fill="none"/>
<rect x="1024.4" y="600" width="380.0" height="380.0" stroke="#4a4a4a" stroke-width="1.3" fill="none"/>
<text x="1060.7" y="1007.5" font-size="18.6" text-anchor="middle" fill="#262626" >0.02</text>
<text x="1016.1" y="950.4" font-size="18.6" text-anchor="end" fill="#262626" >0.02</text>
<text x="1118" y="1007.5" font-size="18.6" text-anchor="middle" fill="#262626" >0.05</text>
<text x="1016.1" y="893.1" font-size="18.6" text-anchor="end" fill="#262626" >0.05</text>
<text x="1175.3" y="1007.5" font-size="18.6" text-anchor="middle" fill="#262626" >0.08</text>
<text x="1016.1" y="835.8" font-size="18.6" text-anchor="end" fill="#262626" >0.08</text>
<text x="1213.4" y="1007.5" font-size="18.6" text-anchor="middle" fill="#262626" >0.1</text>
<text x="1016.1" y="797.7" font-size="18.6" text-anchor="end" fill="#262626" >0.1</text>
<text x="1251.6" y="1007.5" font-size="18.6" text-anchor="middle" fill="#262626" >0.12</text>
<text x="1016.1" y="759.5" font-size="18.6" text-anchor="end" fill="#262626" >0.12</text>
<text x="1308.9" y="1007.5" font-size="18.6" text-anchor="middle" fill="#262626" >0.15</text>
<text x="1016.1" y="702.2" font-size="18.6" text-anchor="end" fill="#262626" >0.15</text>
<text x="1404.4" y="1007.5" font-size="18.6" text-anchor="middle" fill="#262626" >0.2</text>
<text x="1016.1" y="606.7" font-size="18.6" text-anchor="end" fill="#262626" >0.2</text>
<text x="1214.4" y="1033.5" font-size="20.5" text-anchor="middle" fill="#262626" >frequency (Hz)</text>
<text transform="translate(970.1 790) rotate(-90)" font-size="20.5" text-anchor="middle" fill="#262626">frequency (Hz)</text>
<linearGradient id="pg2" x1="0" y1="1" x2="0" y2="0"><stop offset="0.0000" stop-color="#44308c"/><stop offset="0.0500" stop-color="#4a4098"/><stop offset="0.1000" stop-color="#5050a5"/><stop offset="0.1500" stop-color="#505aac"/><stop offset="0.2000" stop-color="#5064b4"/><stop offset="0.2500" stop-color="#4b6ebc"/><stop offset="0.3000" stop-color="#4678c3"/><stop offset="0.3500" stop-color="#328cd2"/><stop offset="0.4000" stop-color="#19a5dc"/><stop offset="0.4500" stop-color="#14afd2"/><stop offset="0.5000" stop-color="#1eb4af"/><stop offset="0.5500" stop-color="#3cb496"/><stop offset="0.6000" stop-color="#60b879"/><stop offset="0.6500" stop-color="#85b95d"/><stop offset="0.7000" stop-color="#aab941"/><stop offset="0.7500" stop-color="#c6b038"/><stop offset="0.8000" stop-color="#e3ac3a"/><stop offset="0.8500" stop-color="#fab348"/><stop offset="0.9000" stop-color="#fac83c"/><stop offset="0.9500" stop-color="#f6d830"/><stop offset="1.0000" stop-color="#f2e823"/></linearGradient>
<rect x="1089.5" y="633.6" width="29.6" height="173.7" fill="url(#pg2)" stroke="#262626" stroke-width="0.8"/>
<text x="1081.8" y="639.8" font-size="17" text-anchor="end" fill="#262626" >1</text>
<text x="1081.8" y="683.2" font-size="17" text-anchor="end" fill="#262626" >0.5</text>
<text x="1081.8" y="726.7" font-size="17" text-anchor="end" fill="#262626" >0</text>
<text x="1081.8" y="770.1" font-size="17" text-anchor="end" fill="#262626" >-0.5</text>
<text x="1081.8" y="813.5" font-size="17" text-anchor="end" fill="#262626" >-1</text>
<path d="M1089.5 633.6h2.5 M1089.5 677h2.5 M1089.5 720.5h2.5 M1089.5 763.9h2.5 M1089.5 807.3h2.5" stroke="#262626" stroke-width="0.8"/>
<path d="M1091.9 621.3L1099.9 628.9M1099.9 621.3L1091.9 628.9" stroke="#666" stroke-width="0.9" fill="none"/>
<text x="1102.7" y="629" font-size="16.8" text-anchor="start" fill="#262626" >10</text>
<text x="1121.7" y="621" font-size="14.2" text-anchor="start" fill="#262626" >-5</text></svg></body></html>
